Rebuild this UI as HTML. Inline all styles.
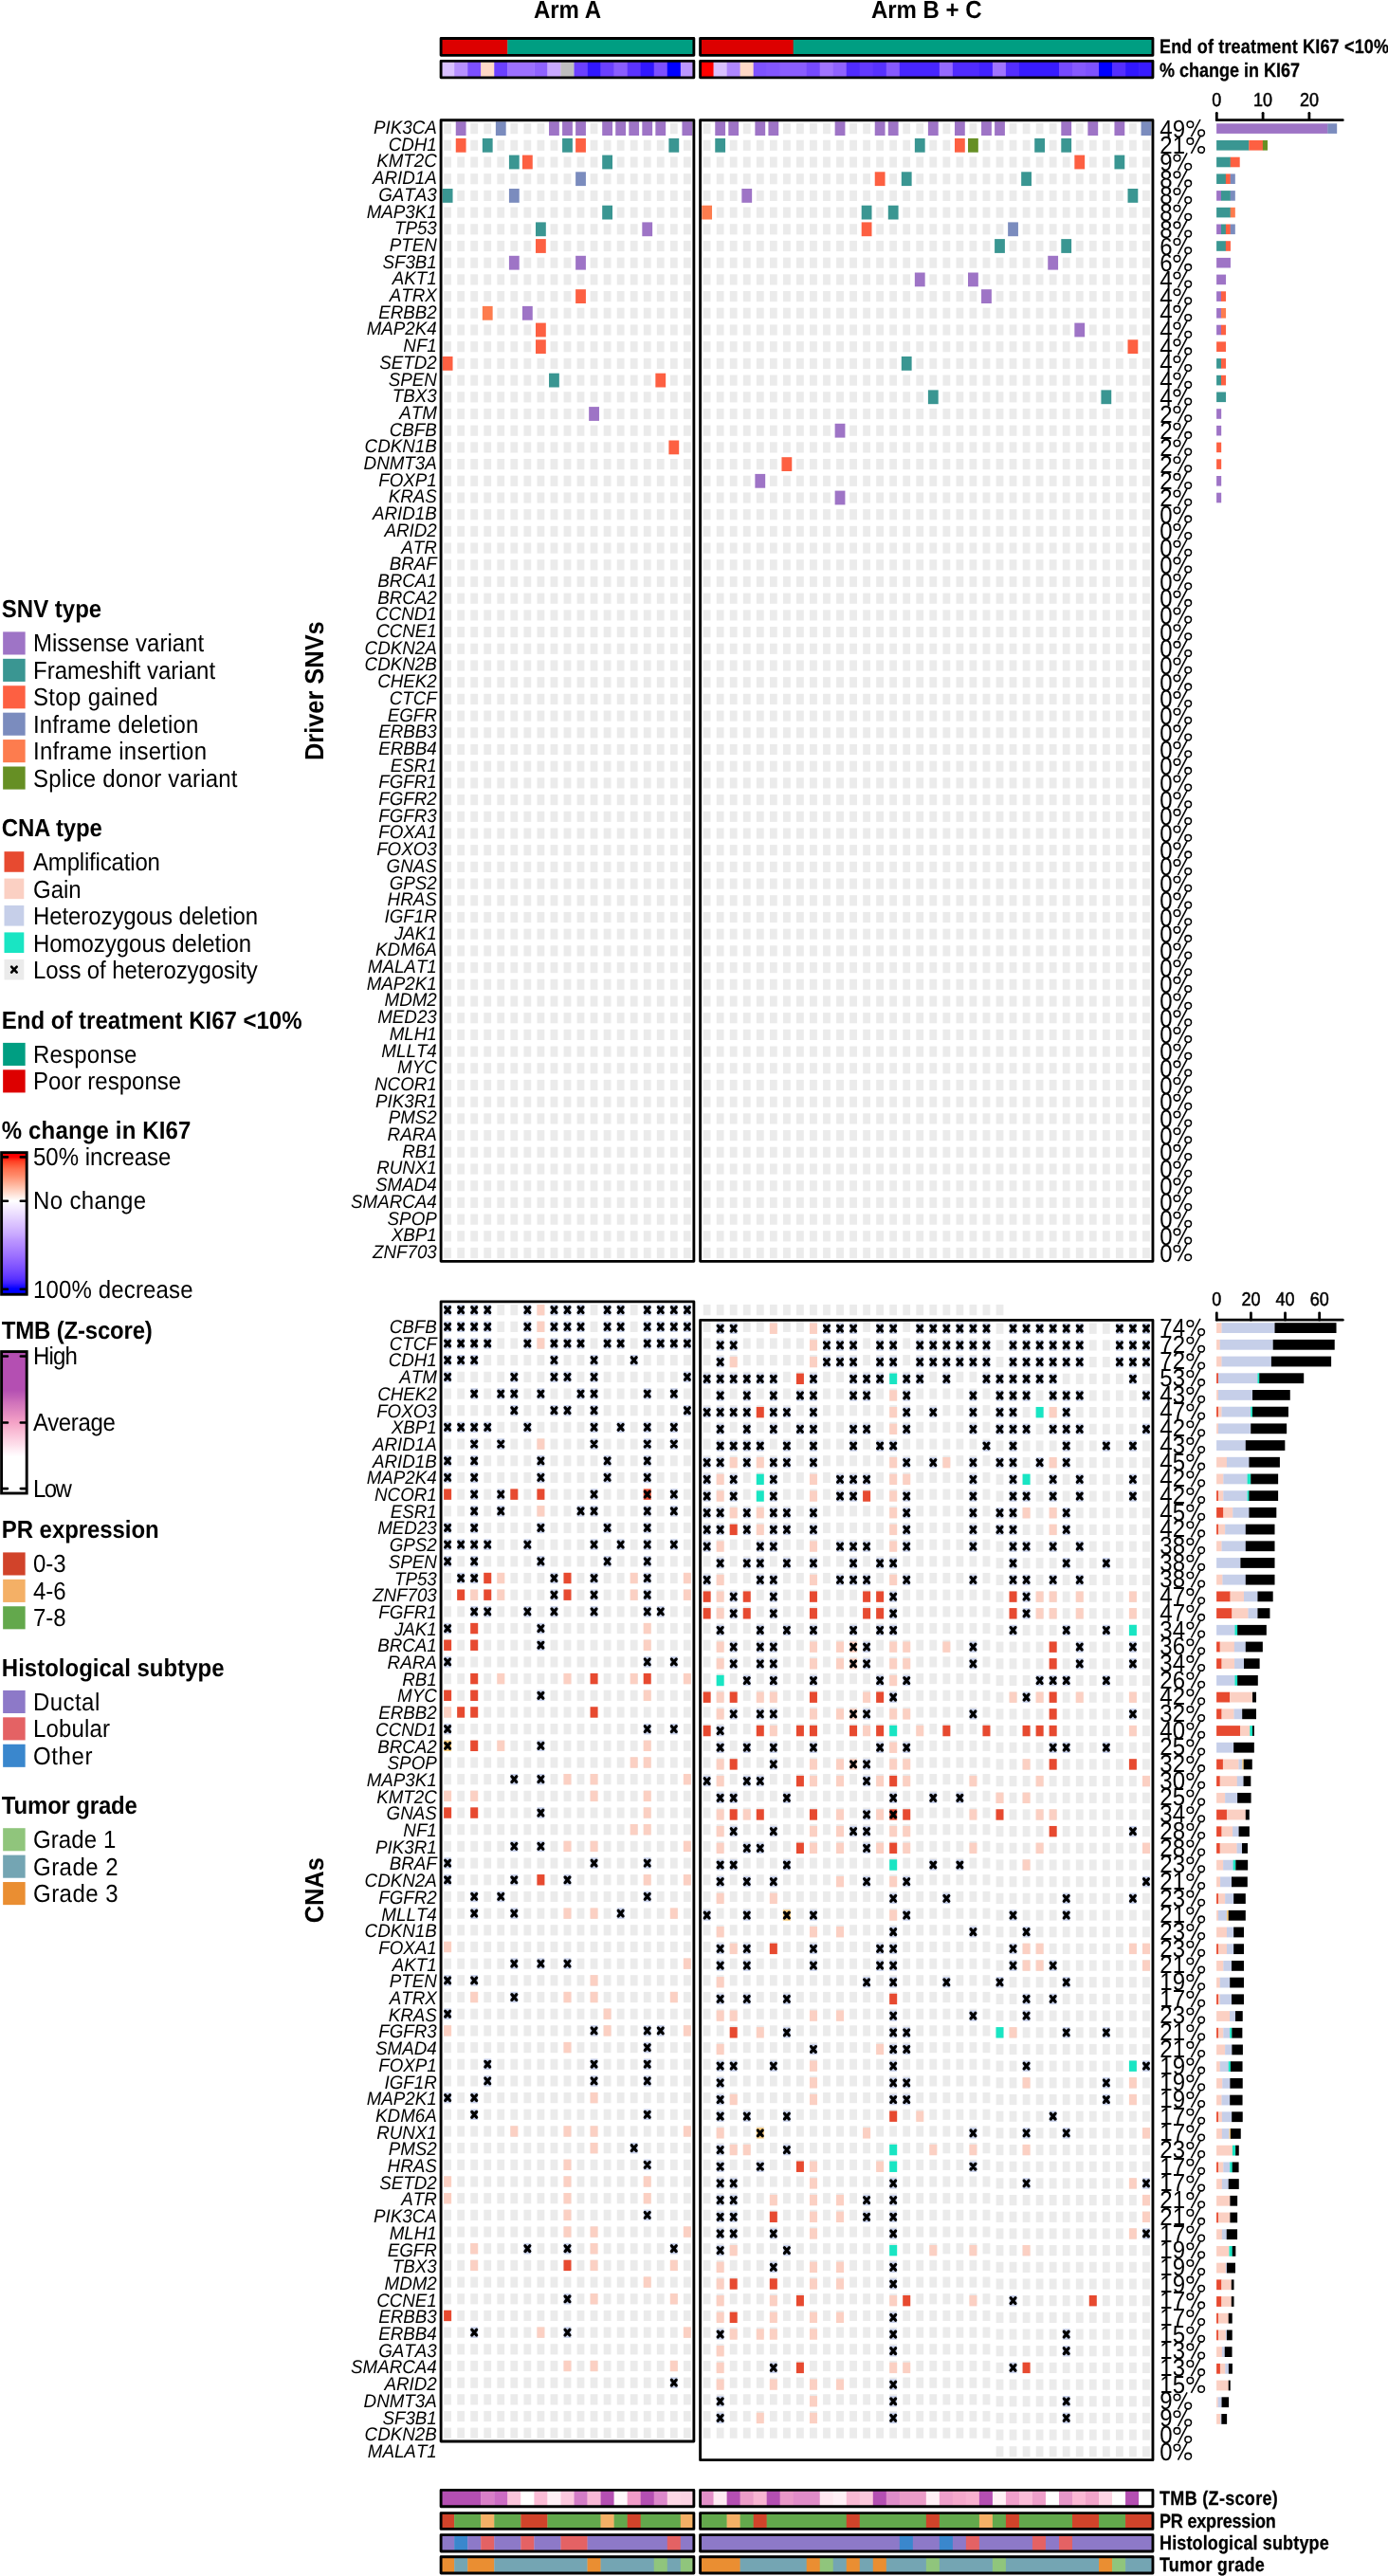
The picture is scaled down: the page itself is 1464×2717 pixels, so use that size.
<!DOCTYPE html>
<html><head><meta charset="utf-8"><title>Oncoprint</title>
<style>
html,body{margin:0;padding:0;background:#fff;}
body{width:1464px;height:2717px;overflow:hidden;}
svg{display:block;font-family:"Liberation Sans",sans-serif;fill:#000;will-change:transform;}
</style></head><body>
<svg width="1464" height="2717" viewBox="0 0 1464 2717" text-rendering="geometricPrecision">
<defs>
<g id="ga" fill="#ebebeb">
<rect x="468.22" y="-5.6" width="7.8" height="11.2" fill="#ebebeb"/>
<rect x="482.26" y="-5.6" width="7.8" height="11.2" fill="#ebebeb"/>
<rect x="496.3" y="-5.6" width="7.8" height="11.2" fill="#ebebeb"/>
<rect x="510.34" y="-5.6" width="7.8" height="11.2" fill="#ebebeb"/>
<rect x="524.38" y="-5.6" width="7.8" height="11.2" fill="#ebebeb"/>
<rect x="538.42" y="-5.6" width="7.8" height="11.2" fill="#ebebeb"/>
<rect x="552.46" y="-5.6" width="7.8" height="11.2" fill="#ebebeb"/>
<rect x="566.5" y="-5.6" width="7.8" height="11.2" fill="#ebebeb"/>
<rect x="580.54" y="-5.6" width="7.8" height="11.2" fill="#ebebeb"/>
<rect x="594.58" y="-5.6" width="7.8" height="11.2" fill="#ebebeb"/>
<rect x="608.62" y="-5.6" width="7.8" height="11.2" fill="#ebebeb"/>
<rect x="622.66" y="-5.6" width="7.8" height="11.2" fill="#ebebeb"/>
<rect x="636.7" y="-5.6" width="7.8" height="11.2" fill="#ebebeb"/>
<rect x="650.74" y="-5.6" width="7.8" height="11.2" fill="#ebebeb"/>
<rect x="664.78" y="-5.6" width="7.8" height="11.2" fill="#ebebeb"/>
<rect x="678.82" y="-5.6" width="7.8" height="11.2" fill="#ebebeb"/>
<rect x="692.86" y="-5.6" width="7.8" height="11.2" fill="#ebebeb"/>
<rect x="706.9" y="-5.6" width="7.8" height="11.2" fill="#ebebeb"/>
<rect x="720.94" y="-5.6" width="7.8" height="11.2" fill="#ebebeb"/>
</g>
<g id="gb" fill="#ebebeb">
<rect x="741.72" y="-5.6" width="7.8" height="11.2" fill="#ebebeb"/>
<rect x="755.76" y="-5.6" width="7.8" height="11.2" fill="#ebebeb"/>
<rect x="769.8" y="-5.6" width="7.8" height="11.2" fill="#ebebeb"/>
<rect x="783.84" y="-5.6" width="7.8" height="11.2" fill="#ebebeb"/>
<rect x="797.88" y="-5.6" width="7.8" height="11.2" fill="#ebebeb"/>
<rect x="811.92" y="-5.6" width="7.8" height="11.2" fill="#ebebeb"/>
<rect x="825.96" y="-5.6" width="7.8" height="11.2" fill="#ebebeb"/>
<rect x="840" y="-5.6" width="7.8" height="11.2" fill="#ebebeb"/>
<rect x="854.04" y="-5.6" width="7.8" height="11.2" fill="#ebebeb"/>
<rect x="868.08" y="-5.6" width="7.8" height="11.2" fill="#ebebeb"/>
<rect x="882.12" y="-5.6" width="7.8" height="11.2" fill="#ebebeb"/>
<rect x="896.16" y="-5.6" width="7.8" height="11.2" fill="#ebebeb"/>
<rect x="910.2" y="-5.6" width="7.8" height="11.2" fill="#ebebeb"/>
<rect x="924.24" y="-5.6" width="7.8" height="11.2" fill="#ebebeb"/>
<rect x="938.28" y="-5.6" width="7.8" height="11.2" fill="#ebebeb"/>
<rect x="952.32" y="-5.6" width="7.8" height="11.2" fill="#ebebeb"/>
<rect x="966.36" y="-5.6" width="7.8" height="11.2" fill="#ebebeb"/>
<rect x="980.4" y="-5.6" width="7.8" height="11.2" fill="#ebebeb"/>
<rect x="994.44" y="-5.6" width="7.8" height="11.2" fill="#ebebeb"/>
<rect x="1008.48" y="-5.6" width="7.8" height="11.2" fill="#ebebeb"/>
<rect x="1022.52" y="-5.6" width="7.8" height="11.2" fill="#ebebeb"/>
<rect x="1036.56" y="-5.6" width="7.8" height="11.2" fill="#ebebeb"/>
<rect x="1050.6" y="-5.6" width="7.8" height="11.2" fill="#ebebeb"/>
<rect x="1064.64" y="-5.6" width="7.8" height="11.2" fill="#ebebeb"/>
<rect x="1078.68" y="-5.6" width="7.8" height="11.2" fill="#ebebeb"/>
<rect x="1092.72" y="-5.6" width="7.8" height="11.2" fill="#ebebeb"/>
<rect x="1106.76" y="-5.6" width="7.8" height="11.2" fill="#ebebeb"/>
<rect x="1120.8" y="-5.6" width="7.8" height="11.2" fill="#ebebeb"/>
<rect x="1134.84" y="-5.6" width="7.8" height="11.2" fill="#ebebeb"/>
<rect x="1148.88" y="-5.6" width="7.8" height="11.2" fill="#ebebeb"/>
<rect x="1162.92" y="-5.6" width="7.8" height="11.2" fill="#ebebeb"/>
<rect x="1176.96" y="-5.6" width="7.8" height="11.2" fill="#ebebeb"/>
<rect x="1191" y="-5.6" width="7.8" height="11.2" fill="#ebebeb"/>
<rect x="1205.04" y="-5.6" width="7.8" height="11.2" fill="#ebebeb"/>
</g>
<g id="gb1" fill="#ebebeb">
<rect x="741.72" y="-5.6" width="7.8" height="11.2" fill="#ebebeb"/>
<rect x="755.76" y="-5.6" width="7.8" height="11.2" fill="#ebebeb"/>
<rect x="769.8" y="-5.6" width="7.8" height="11.2" fill="#ebebeb"/>
<rect x="783.84" y="-5.6" width="7.8" height="11.2" fill="#ebebeb"/>
<rect x="797.88" y="-5.6" width="7.8" height="11.2" fill="#ebebeb"/>
<rect x="811.92" y="-5.6" width="7.8" height="11.2" fill="#ebebeb"/>
<rect x="825.96" y="-5.6" width="7.8" height="11.2" fill="#ebebeb"/>
<rect x="840" y="-5.6" width="7.8" height="11.2" fill="#ebebeb"/>
<rect x="854.04" y="-5.6" width="7.8" height="11.2" fill="#ebebeb"/>
<rect x="868.08" y="-5.6" width="7.8" height="11.2" fill="#ebebeb"/>
<rect x="882.12" y="-5.6" width="7.8" height="11.2" fill="#ebebeb"/>
<rect x="896.16" y="-5.6" width="7.8" height="11.2" fill="#ebebeb"/>
<rect x="910.2" y="-5.6" width="7.8" height="11.2" fill="#ebebeb"/>
<rect x="924.24" y="-5.6" width="7.8" height="11.2" fill="#ebebeb"/>
<rect x="938.28" y="-5.6" width="7.8" height="11.2" fill="#ebebeb"/>
<rect x="952.32" y="-5.6" width="7.8" height="11.2" fill="#ebebeb"/>
<rect x="966.36" y="-5.6" width="7.8" height="11.2" fill="#ebebeb"/>
<rect x="980.4" y="-5.6" width="7.8" height="11.2" fill="#ebebeb"/>
<rect x="994.44" y="-5.6" width="7.8" height="11.2" fill="#ebebeb"/>
<rect x="1008.48" y="-5.6" width="7.8" height="11.2" fill="#ebebeb"/>
<rect x="1022.52" y="-5.6" width="7.8" height="11.2" fill="#ebebeb"/>
<rect x="1036.56" y="-5.6" width="7.8" height="11.2" fill="#ebebeb"/>
</g>
<g id="gb2" fill="#ebebeb">
<rect x="1050.6" y="-5.6" width="7.8" height="11.2" fill="#ebebeb"/>
<rect x="1064.64" y="-5.6" width="7.8" height="11.2" fill="#ebebeb"/>
<rect x="1078.68" y="-5.6" width="7.8" height="11.2" fill="#ebebeb"/>
<rect x="1092.72" y="-5.6" width="7.8" height="11.2" fill="#ebebeb"/>
<rect x="1106.76" y="-5.6" width="7.8" height="11.2" fill="#ebebeb"/>
<rect x="1120.8" y="-5.6" width="7.8" height="11.2" fill="#ebebeb"/>
<rect x="1134.84" y="-5.6" width="7.8" height="11.2" fill="#ebebeb"/>
<rect x="1148.88" y="-5.6" width="7.8" height="11.2" fill="#ebebeb"/>
<rect x="1162.92" y="-5.6" width="7.8" height="11.2" fill="#ebebeb"/>
<rect x="1176.96" y="-5.6" width="7.8" height="11.2" fill="#ebebeb"/>
<rect x="1191" y="-5.6" width="7.8" height="11.2" fill="#ebebeb"/>
<rect x="1205.04" y="-5.6" width="7.8" height="11.2" fill="#ebebeb"/>
</g>
<g id="pc" fill="none" stroke="#000" stroke-width="1.55"><circle cx="5.66" cy="-12.86" r="3.3"/><circle cx="17.4" cy="-3.8" r="3.3"/><path d="M16.3-18.1L6.7 0.1"/></g>
<path id="x" d="M-2.45-2.9L2.45 2.9M-2.45 2.9L2.45-2.9" stroke="#000" stroke-width="3.2" stroke-linecap="round" fill="none"/>
<linearGradient id="gk" x1="0" y1="0" x2="0" y2="1">
<stop offset="0" stop-color="#ff0000"/>
<stop offset="0.03" stop-color="#ff0000"/>
<stop offset="0.06" stop-color="#ff3e22"/>
<stop offset="0.09" stop-color="#ff5b3a"/>
<stop offset="0.12" stop-color="#ff7352"/>
<stop offset="0.16" stop-color="#ff8969"/>
<stop offset="0.19" stop-color="#ff9e81"/>
<stop offset="0.22" stop-color="#ffb299"/>
<stop offset="0.25" stop-color="#ffc6b2"/>
<stop offset="0.28" stop-color="#ffd9cb"/>
<stop offset="0.31" stop-color="#ffece5"/>
<stop offset="0.34" stop-color="#ffffff"/>
<stop offset="0.38" stop-color="#f7f0ff"/>
<stop offset="0.42" stop-color="#eee2ff"/>
<stop offset="0.46" stop-color="#e5d3ff"/>
<stop offset="0.5" stop-color="#dcc4ff"/>
<stop offset="0.54" stop-color="#d2b6ff"/>
<stop offset="0.58" stop-color="#c8a8ff"/>
<stop offset="0.61" stop-color="#be99ff"/>
<stop offset="0.65" stop-color="#b38bff"/>
<stop offset="0.69" stop-color="#a77dff"/>
<stop offset="0.73" stop-color="#9b6fff"/>
<stop offset="0.77" stop-color="#8d60ff"/>
<stop offset="0.81" stop-color="#7e52ff"/>
<stop offset="0.85" stop-color="#6d42ff"/>
<stop offset="0.89" stop-color="#5932ff"/>
<stop offset="0.92" stop-color="#3f1fff"/>
<stop offset="0.96" stop-color="#0000ff"/>
<stop offset="1" stop-color="#0000ff"/>
</linearGradient>
<linearGradient id="gt" x1="0" y1="0" x2="0" y2="1">
<stop offset="0" stop-color="#b44fb2"/>
<stop offset="0.27" stop-color="#b44fb2"/>
<stop offset="0.3" stop-color="#bc5ab5"/>
<stop offset="0.33" stop-color="#c564b7"/>
<stop offset="0.35" stop-color="#cd6fba"/>
<stop offset="0.38" stop-color="#d579bc"/>
<stop offset="0.41" stop-color="#dd83bf"/>
<stop offset="0.44" stop-color="#e58dc1"/>
<stop offset="0.47" stop-color="#ed98c4"/>
<stop offset="0.5" stop-color="#f5a2c6"/>
<stop offset="0.53" stop-color="#f7aecd"/>
<stop offset="0.56" stop-color="#f9bad4"/>
<stop offset="0.59" stop-color="#fbc5db"/>
<stop offset="0.62" stop-color="#fcd1e2"/>
<stop offset="0.65" stop-color="#fddce9"/>
<stop offset="0.68" stop-color="#fee8f1"/>
<stop offset="0.71" stop-color="#fff3f8"/>
<stop offset="0.74" stop-color="#ffffff"/>
<stop offset="1" stop-color="#ffffff"/>
</linearGradient>
</defs>
<text transform="translate(598.48 18.7) scale(1 1.09)" font-size="24" font-weight="bold" text-anchor="middle">Arm A</text>
<text transform="translate(977.28 18.7) scale(1 1.09)" font-size="24" font-weight="bold" text-anchor="middle">Arm B + C</text>
<rect x="465.1" y="40.45" width="70.5" height="17.9" fill="#dd0000"/>
<rect x="535.3" y="40.45" width="196.56" height="17.9" fill="#009e82"/>
<rect x="738.6" y="40.45" width="98.4" height="17.9" fill="#dd0000"/>
<rect x="836.7" y="40.45" width="379.26" height="17.9" fill="#009e82"/>
<rect x="465.1" y="40.45" width="266.76" height="17.9" fill="none" stroke="#000" stroke-width="2.85" stroke-linejoin="round"/>
<rect x="738.6" y="40.45" width="477.36" height="17.9" fill="none" stroke="#000" stroke-width="2.85" stroke-linejoin="round"/>
<rect x="465.1" y="64.3" width="14.34" height="17.5" fill="#d9c0ff"/>
<rect x="479.14" y="64.3" width="14.34" height="17.5" fill="#b690ff"/>
<rect x="493.18" y="64.3" width="14.34" height="17.5" fill="#7c4fff"/>
<rect x="507.22" y="64.3" width="14.34" height="17.5" fill="#ffd8c6"/>
<rect x="521.26" y="64.3" width="14.34" height="17.5" fill="#6b40ff"/>
<rect x="535.3" y="64.3" width="28.38" height="17.5" fill="#9c70ff"/>
<rect x="563.38" y="64.3" width="14.34" height="17.5" fill="#8f62ff"/>
<rect x="577.42" y="64.3" width="14.34" height="17.5" fill="#c9a9ff"/>
<rect x="591.46" y="64.3" width="14.34" height="17.5" fill="#bebebe"/>
<rect x="605.5" y="64.3" width="14.34" height="17.5" fill="#6b40ff"/>
<rect x="619.54" y="64.3" width="14.34" height="17.5" fill="#3117ff"/>
<rect x="633.58" y="64.3" width="14.34" height="17.5" fill="#6b40ff"/>
<rect x="647.62" y="64.3" width="14.34" height="17.5" fill="#8a5dff"/>
<rect x="661.66" y="64.3" width="14.34" height="17.5" fill="#5b33ff"/>
<rect x="675.7" y="64.3" width="14.34" height="17.5" fill="#3117ff"/>
<rect x="689.74" y="64.3" width="14.34" height="17.5" fill="#7c4fff"/>
<rect x="703.78" y="64.3" width="14.34" height="17.5" fill="#0000ff"/>
<rect x="717.82" y="64.3" width="14.04" height="17.5" fill="#bc97ff"/>
<rect x="738.6" y="64.3" width="14.31" height="17.5" fill="#ff0000"/>
<rect x="752.61" y="64.3" width="14.31" height="17.5" fill="#d9c0ff"/>
<rect x="766.63" y="64.3" width="14.31" height="17.5" fill="#af87ff"/>
<rect x="780.64" y="64.3" width="14.31" height="17.5" fill="#ffd8c6"/>
<rect x="794.66" y="64.3" width="14.31" height="17.5" fill="#7e52ff"/>
<rect x="808.67" y="64.3" width="14.31" height="17.5" fill="#8356ff"/>
<rect x="822.68" y="64.3" width="28.33" height="17.5" fill="#8a5dff"/>
<rect x="850.71" y="64.3" width="14.31" height="17.5" fill="#764aff"/>
<rect x="864.73" y="64.3" width="14.31" height="17.5" fill="#a074ff"/>
<rect x="878.74" y="64.3" width="14.31" height="17.5" fill="#8f62ff"/>
<rect x="892.75" y="64.3" width="14.31" height="17.5" fill="#502bff"/>
<rect x="906.77" y="64.3" width="14.31" height="17.5" fill="#6239ff"/>
<rect x="920.78" y="64.3" width="14.31" height="17.5" fill="#5731ff"/>
<rect x="934.8" y="64.3" width="14.31" height="17.5" fill="#8659ff"/>
<rect x="948.81" y="64.3" width="42.34" height="17.5" fill="#4725ff"/>
<rect x="990.85" y="64.3" width="14.31" height="17.5" fill="#9569ff"/>
<rect x="1004.87" y="64.3" width="28.33" height="17.5" fill="#502bff"/>
<rect x="1032.89" y="64.3" width="14.31" height="17.5" fill="#4222ff"/>
<rect x="1046.91" y="64.3" width="14.31" height="17.5" fill="#a074ff"/>
<rect x="1060.92" y="64.3" width="14.31" height="17.5" fill="#542eff"/>
<rect x="1074.94" y="64.3" width="42.34" height="17.5" fill="#381bff"/>
<rect x="1116.98" y="64.3" width="14.31" height="17.5" fill="#764aff"/>
<rect x="1130.99" y="64.3" width="14.31" height="17.5" fill="#8659ff"/>
<rect x="1145.01" y="64.3" width="14.31" height="17.5" fill="#7e52ff"/>
<rect x="1159.02" y="64.3" width="14.31" height="17.5" fill="#0000ff"/>
<rect x="1173.03" y="64.3" width="14.31" height="17.5" fill="#542eff"/>
<rect x="1187.05" y="64.3" width="14.31" height="17.5" fill="#3117ff"/>
<rect x="1201.06" y="64.3" width="14.9" height="17.5" fill="#381bff"/>
<rect x="465.1" y="64.3" width="266.76" height="17.5" fill="none" stroke="#000" stroke-width="2.85" stroke-linejoin="round"/>
<rect x="738.6" y="64.3" width="477.36" height="17.5" fill="none" stroke="#000" stroke-width="2.85" stroke-linejoin="round"/>
<text transform="translate(1223 56.4) scale(1 1.15)" font-size="18" font-weight="bold" letter-spacing="0.18" stroke="#000" stroke-width="0.25">End of treatment KI67 &lt;10%</text>
<text transform="translate(1223 80.5) scale(1 1.15)" font-size="18" font-weight="bold" stroke="#000" stroke-width="0.25">% change in KI67</text>
<use href="#ga" y="135.6"/><use href="#gb" y="135.6"/>
<use href="#ga" y="153.3"/><use href="#gb" y="153.3"/>
<use href="#ga" y="171"/><use href="#gb" y="171"/>
<use href="#ga" y="188.7"/><use href="#gb" y="188.7"/>
<use href="#ga" y="206.4"/><use href="#gb" y="206.4"/>
<use href="#ga" y="224.1"/><use href="#gb" y="224.1"/>
<use href="#ga" y="241.8"/><use href="#gb" y="241.8"/>
<use href="#ga" y="259.5"/><use href="#gb" y="259.5"/>
<use href="#ga" y="277.2"/><use href="#gb" y="277.2"/>
<use href="#ga" y="294.9"/><use href="#gb" y="294.9"/>
<use href="#ga" y="312.6"/><use href="#gb" y="312.6"/>
<use href="#ga" y="330.3"/><use href="#gb" y="330.3"/>
<use href="#ga" y="348"/><use href="#gb" y="348"/>
<use href="#ga" y="365.7"/><use href="#gb" y="365.7"/>
<use href="#ga" y="383.4"/><use href="#gb" y="383.4"/>
<use href="#ga" y="401.1"/><use href="#gb" y="401.1"/>
<use href="#ga" y="418.8"/><use href="#gb" y="418.8"/>
<use href="#ga" y="436.5"/><use href="#gb" y="436.5"/>
<use href="#ga" y="454.2"/><use href="#gb" y="454.2"/>
<use href="#ga" y="471.9"/><use href="#gb" y="471.9"/>
<use href="#ga" y="489.6"/><use href="#gb" y="489.6"/>
<use href="#ga" y="507.3"/><use href="#gb" y="507.3"/>
<use href="#ga" y="525"/><use href="#gb" y="525"/>
<use href="#ga" y="542.7"/><use href="#gb" y="542.7"/>
<use href="#ga" y="560.4"/><use href="#gb" y="560.4"/>
<use href="#ga" y="578.1"/><use href="#gb" y="578.1"/>
<use href="#ga" y="595.8"/><use href="#gb" y="595.8"/>
<use href="#ga" y="613.5"/><use href="#gb" y="613.5"/>
<use href="#ga" y="631.2"/><use href="#gb" y="631.2"/>
<use href="#ga" y="648.9"/><use href="#gb" y="648.9"/>
<use href="#ga" y="666.6"/><use href="#gb" y="666.6"/>
<use href="#ga" y="684.3"/><use href="#gb" y="684.3"/>
<use href="#ga" y="702"/><use href="#gb" y="702"/>
<use href="#ga" y="719.7"/><use href="#gb" y="719.7"/>
<use href="#ga" y="737.4"/><use href="#gb" y="737.4"/>
<use href="#ga" y="755.1"/><use href="#gb" y="755.1"/>
<use href="#ga" y="772.8"/><use href="#gb" y="772.8"/>
<use href="#ga" y="790.5"/><use href="#gb" y="790.5"/>
<use href="#ga" y="808.2"/><use href="#gb" y="808.2"/>
<use href="#ga" y="825.9"/><use href="#gb" y="825.9"/>
<use href="#ga" y="843.6"/><use href="#gb" y="843.6"/>
<use href="#ga" y="861.3"/><use href="#gb" y="861.3"/>
<use href="#ga" y="879"/><use href="#gb" y="879"/>
<use href="#ga" y="896.7"/><use href="#gb" y="896.7"/>
<use href="#ga" y="914.4"/><use href="#gb" y="914.4"/>
<use href="#ga" y="932.1"/><use href="#gb" y="932.1"/>
<use href="#ga" y="949.8"/><use href="#gb" y="949.8"/>
<use href="#ga" y="967.5"/><use href="#gb" y="967.5"/>
<use href="#ga" y="985.2"/><use href="#gb" y="985.2"/>
<use href="#ga" y="1002.9"/><use href="#gb" y="1002.9"/>
<use href="#ga" y="1020.6"/><use href="#gb" y="1020.6"/>
<use href="#ga" y="1038.3"/><use href="#gb" y="1038.3"/>
<use href="#ga" y="1056"/><use href="#gb" y="1056"/>
<use href="#ga" y="1073.7"/><use href="#gb" y="1073.7"/>
<use href="#ga" y="1091.4"/><use href="#gb" y="1091.4"/>
<use href="#ga" y="1109.1"/><use href="#gb" y="1109.1"/>
<use href="#ga" y="1126.8"/><use href="#gb" y="1126.8"/>
<use href="#ga" y="1144.5"/><use href="#gb" y="1144.5"/>
<use href="#ga" y="1162.2"/><use href="#gb" y="1162.2"/>
<use href="#ga" y="1179.9"/><use href="#gb" y="1179.9"/>
<use href="#ga" y="1197.6"/><use href="#gb" y="1197.6"/>
<use href="#ga" y="1215.3"/><use href="#gb" y="1215.3"/>
<use href="#ga" y="1233"/><use href="#gb" y="1233"/>
<use href="#ga" y="1250.7"/><use href="#gb" y="1250.7"/>
<use href="#ga" y="1268.4"/><use href="#gb" y="1268.4"/>
<use href="#ga" y="1286.1"/><use href="#gb" y="1286.1"/>
<use href="#ga" y="1303.8"/><use href="#gb" y="1303.8"/>
<use href="#ga" y="1321.5"/><use href="#gb" y="1321.5"/>
<rect x="480.76" y="128.2" width="10.8" height="14.8" fill="#9e74c6"/>
<rect x="522.88" y="128.2" width="10.8" height="14.8" fill="#7b8cbe"/>
<rect x="579.04" y="128.2" width="10.8" height="14.8" fill="#9e74c6"/>
<rect x="593.08" y="128.2" width="10.8" height="14.8" fill="#9e74c6"/>
<rect x="607.12" y="128.2" width="10.8" height="14.8" fill="#9e74c6"/>
<rect x="635.2" y="128.2" width="10.8" height="14.8" fill="#9e74c6"/>
<rect x="649.24" y="128.2" width="10.8" height="14.8" fill="#9e74c6"/>
<rect x="663.28" y="128.2" width="10.8" height="14.8" fill="#9e74c6"/>
<rect x="677.32" y="128.2" width="10.8" height="14.8" fill="#9e74c6"/>
<rect x="691.36" y="128.2" width="10.8" height="14.8" fill="#9e74c6"/>
<rect x="719.44" y="128.2" width="10.8" height="14.8" fill="#9e74c6"/>
<rect x="480.76" y="145.9" width="10.8" height="14.8" fill="#fd6042"/>
<rect x="508.84" y="145.9" width="10.8" height="14.8" fill="#3a9692"/>
<rect x="593.08" y="145.9" width="10.8" height="14.8" fill="#3a9692"/>
<rect x="607.12" y="145.9" width="10.8" height="14.8" fill="#fd6042"/>
<rect x="705.4" y="145.9" width="10.8" height="14.8" fill="#3a9692"/>
<rect x="536.92" y="163.6" width="10.8" height="14.8" fill="#3a9692"/>
<rect x="550.96" y="163.6" width="10.8" height="14.8" fill="#fd6042"/>
<rect x="635.2" y="163.6" width="10.8" height="14.8" fill="#3a9692"/>
<rect x="607.12" y="181.3" width="10.8" height="14.8" fill="#7b8cbe"/>
<rect x="466.72" y="199" width="10.8" height="14.8" fill="#3a9692"/>
<rect x="536.92" y="199" width="10.8" height="14.8" fill="#7b8cbe"/>
<rect x="635.2" y="216.7" width="10.8" height="14.8" fill="#3a9692"/>
<rect x="565" y="234.4" width="10.8" height="14.8" fill="#3a9692"/>
<rect x="677.32" y="234.4" width="10.8" height="14.8" fill="#9e74c6"/>
<rect x="565" y="252.1" width="10.8" height="14.8" fill="#fd6042"/>
<rect x="536.92" y="269.8" width="10.8" height="14.8" fill="#9e74c6"/>
<rect x="607.12" y="269.8" width="10.8" height="14.8" fill="#9e74c6"/>
<rect x="607.12" y="305.2" width="10.8" height="14.8" fill="#fd6042"/>
<rect x="508.84" y="322.9" width="10.8" height="14.8" fill="#fd7c4e"/>
<rect x="550.96" y="322.9" width="10.8" height="14.8" fill="#9e74c6"/>
<rect x="565" y="340.6" width="10.8" height="14.8" fill="#fd6042"/>
<rect x="565" y="358.3" width="10.8" height="14.8" fill="#fd6042"/>
<rect x="466.72" y="376" width="10.8" height="14.8" fill="#fd6042"/>
<rect x="579.04" y="393.7" width="10.8" height="14.8" fill="#3a9692"/>
<rect x="691.36" y="393.7" width="10.8" height="14.8" fill="#fd6042"/>
<rect x="621.16" y="429.1" width="10.8" height="14.8" fill="#9e74c6"/>
<rect x="705.4" y="464.5" width="10.8" height="14.8" fill="#fd6042"/>
<rect x="754.26" y="128.2" width="10.8" height="14.8" fill="#9e74c6"/>
<rect x="768.3" y="128.2" width="10.8" height="14.8" fill="#9e74c6"/>
<rect x="796.38" y="128.2" width="10.8" height="14.8" fill="#9e74c6"/>
<rect x="810.42" y="128.2" width="10.8" height="14.8" fill="#9e74c6"/>
<rect x="880.62" y="128.2" width="10.8" height="14.8" fill="#9e74c6"/>
<rect x="922.74" y="128.2" width="10.8" height="14.8" fill="#9e74c6"/>
<rect x="936.78" y="128.2" width="10.8" height="14.8" fill="#9e74c6"/>
<rect x="978.9" y="128.2" width="10.8" height="14.8" fill="#9e74c6"/>
<rect x="1006.98" y="128.2" width="10.8" height="14.8" fill="#9e74c6"/>
<rect x="1035.06" y="128.2" width="10.8" height="14.8" fill="#9e74c6"/>
<rect x="1049.1" y="128.2" width="10.8" height="14.8" fill="#9e74c6"/>
<rect x="1119.3" y="128.2" width="10.8" height="14.8" fill="#9e74c6"/>
<rect x="1147.38" y="128.2" width="10.8" height="14.8" fill="#9e74c6"/>
<rect x="1175.46" y="128.2" width="10.8" height="14.8" fill="#9e74c6"/>
<rect x="1203.54" y="128.2" width="10.8" height="14.8" fill="#7b8cbe"/>
<rect x="754.26" y="145.9" width="10.8" height="14.8" fill="#3a9692"/>
<rect x="964.86" y="145.9" width="10.8" height="14.8" fill="#3a9692"/>
<rect x="1006.98" y="145.9" width="10.8" height="14.8" fill="#fd6042"/>
<rect x="1021.02" y="145.9" width="10.8" height="14.8" fill="#668f24"/>
<rect x="1091.22" y="145.9" width="10.8" height="14.8" fill="#3a9692"/>
<rect x="1119.3" y="145.9" width="10.8" height="14.8" fill="#3a9692"/>
<rect x="1133.34" y="163.6" width="10.8" height="14.8" fill="#fd6042"/>
<rect x="1175.46" y="163.6" width="10.8" height="14.8" fill="#3a9692"/>
<rect x="922.74" y="181.3" width="10.8" height="14.8" fill="#fd6042"/>
<rect x="950.82" y="181.3" width="10.8" height="14.8" fill="#3a9692"/>
<rect x="1077.18" y="181.3" width="10.8" height="14.8" fill="#3a9692"/>
<rect x="782.34" y="199" width="10.8" height="14.8" fill="#9e74c6"/>
<rect x="1189.5" y="199" width="10.8" height="14.8" fill="#3a9692"/>
<rect x="740.22" y="216.7" width="10.8" height="14.8" fill="#fd7c4e"/>
<rect x="908.7" y="216.7" width="10.8" height="14.8" fill="#3a9692"/>
<rect x="936.78" y="216.7" width="10.8" height="14.8" fill="#3a9692"/>
<rect x="908.7" y="234.4" width="10.8" height="14.8" fill="#fd6042"/>
<rect x="1063.14" y="234.4" width="10.8" height="14.8" fill="#7b8cbe"/>
<rect x="1049.1" y="252.1" width="10.8" height="14.8" fill="#3a9692"/>
<rect x="1119.3" y="252.1" width="10.8" height="14.8" fill="#3a9692"/>
<rect x="1105.26" y="269.8" width="10.8" height="14.8" fill="#9e74c6"/>
<rect x="964.86" y="287.5" width="10.8" height="14.8" fill="#9e74c6"/>
<rect x="1021.02" y="287.5" width="10.8" height="14.8" fill="#9e74c6"/>
<rect x="1035.06" y="305.2" width="10.8" height="14.8" fill="#9e74c6"/>
<rect x="1133.34" y="340.6" width="10.8" height="14.8" fill="#9e74c6"/>
<rect x="1189.5" y="358.3" width="10.8" height="14.8" fill="#fd6042"/>
<rect x="950.82" y="376" width="10.8" height="14.8" fill="#3a9692"/>
<rect x="978.9" y="411.4" width="10.8" height="14.8" fill="#3a9692"/>
<rect x="1161.42" y="411.4" width="10.8" height="14.8" fill="#3a9692"/>
<rect x="880.62" y="446.8" width="10.8" height="14.8" fill="#9e74c6"/>
<rect x="824.46" y="482.2" width="10.8" height="14.8" fill="#fd6042"/>
<rect x="796.38" y="499.9" width="10.8" height="14.8" fill="#9e74c6"/>
<rect x="880.62" y="517.6" width="10.8" height="14.8" fill="#9e74c6"/>
<rect x="465.1" y="126.75" width="266.76" height="1203.6" fill="none" stroke="#000" stroke-width="2.85" stroke-linejoin="round"/>
<rect x="738.6" y="126.75" width="477.36" height="1203.6" fill="none" stroke="#000" stroke-width="2.85" stroke-linejoin="round"/>
<g font-style="italic" text-anchor="end" font-size="18.8" style="font-kerning:none">
<text transform="translate(460.8 141) scale(1 1.05)">PIK3CA</text>
<text transform="translate(460.8 158.7) scale(1 1.05)">CDH1</text>
<text transform="translate(460.8 176.4) scale(1 1.05)">KMT2C</text>
<text transform="translate(460.8 194.1) scale(1 1.05)">ARID1A</text>
<text transform="translate(460.8 211.8) scale(1 1.05)">GATA3</text>
<text transform="translate(460.8 229.5) scale(1 1.05)">MAP3K1</text>
<text transform="translate(460.8 247.2) scale(1 1.05)">TP53</text>
<text transform="translate(460.8 264.9) scale(1 1.05)">PTEN</text>
<text transform="translate(460.8 282.6) scale(1 1.05)">SF3B1</text>
<text transform="translate(460.8 300.3) scale(1 1.05)">AKT1</text>
<text transform="translate(460.8 318) scale(1 1.05)">ATRX</text>
<text transform="translate(460.8 335.7) scale(1 1.05)">ERBB2</text>
<text transform="translate(460.8 353.4) scale(1 1.05)">MAP2K4</text>
<text transform="translate(460.8 371.1) scale(1 1.05)">NF1</text>
<text transform="translate(460.8 388.8) scale(1 1.05)">SETD2</text>
<text transform="translate(460.8 406.5) scale(1 1.05)">SPEN</text>
<text transform="translate(460.8 424.2) scale(1 1.05)">TBX3</text>
<text transform="translate(460.8 441.9) scale(1 1.05)">ATM</text>
<text transform="translate(460.8 459.6) scale(1 1.05)">CBFB</text>
<text transform="translate(460.8 477.3) scale(1 1.05)">CDKN1B</text>
<text transform="translate(460.8 495) scale(1 1.05)">DNMT3A</text>
<text transform="translate(460.8 512.7) scale(1 1.05)">FOXP1</text>
<text transform="translate(460.8 530.4) scale(1 1.05)">KRAS</text>
<text transform="translate(460.8 548.1) scale(1 1.05)">ARID1B</text>
<text transform="translate(460.8 565.8) scale(1 1.05)">ARID2</text>
<text transform="translate(460.8 583.5) scale(1 1.05)">ATR</text>
<text transform="translate(460.8 601.2) scale(1 1.05)">BRAF</text>
<text transform="translate(460.8 618.9) scale(1 1.05)">BRCA1</text>
<text transform="translate(460.8 636.6) scale(1 1.05)">BRCA2</text>
<text transform="translate(460.8 654.3) scale(1 1.05)">CCND1</text>
<text transform="translate(460.8 672) scale(1 1.05)">CCNE1</text>
<text transform="translate(460.8 689.7) scale(1 1.05)">CDKN2A</text>
<text transform="translate(460.8 707.4) scale(1 1.05)">CDKN2B</text>
<text transform="translate(460.8 725.1) scale(1 1.05)">CHEK2</text>
<text transform="translate(460.8 742.8) scale(1 1.05)">CTCF</text>
<text transform="translate(460.8 760.5) scale(1 1.05)">EGFR</text>
<text transform="translate(460.8 778.2) scale(1 1.05)">ERBB3</text>
<text transform="translate(460.8 795.9) scale(1 1.05)">ERBB4</text>
<text transform="translate(460.8 813.6) scale(1 1.05)">ESR1</text>
<text transform="translate(460.8 831.3) scale(1 1.05)">FGFR1</text>
<text transform="translate(460.8 849) scale(1 1.05)">FGFR2</text>
<text transform="translate(460.8 866.7) scale(1 1.05)">FGFR3</text>
<text transform="translate(460.8 884.4) scale(1 1.05)">FOXA1</text>
<text transform="translate(460.8 902.1) scale(1 1.05)">FOXO3</text>
<text transform="translate(460.8 919.8) scale(1 1.05)">GNAS</text>
<text transform="translate(460.8 937.5) scale(1 1.05)">GPS2</text>
<text transform="translate(460.8 955.2) scale(1 1.05)">HRAS</text>
<text transform="translate(460.8 972.9) scale(1 1.05)">IGF1R</text>
<text transform="translate(460.8 990.6) scale(1 1.05)">JAK1</text>
<text transform="translate(460.8 1008.3) scale(1 1.05)">KDM6A</text>
<text transform="translate(460.8 1026) scale(1 1.05)">MALAT1</text>
<text transform="translate(460.8 1043.7) scale(1 1.05)">MAP2K1</text>
<text transform="translate(460.8 1061.4) scale(1 1.05)">MDM2</text>
<text transform="translate(460.8 1079.1) scale(1 1.05)">MED23</text>
<text transform="translate(460.8 1096.8) scale(1 1.05)">MLH1</text>
<text transform="translate(460.8 1114.5) scale(1 1.05)">MLLT4</text>
<text transform="translate(460.8 1132.2) scale(1 1.05)">MYC</text>
<text transform="translate(460.8 1149.9) scale(1 1.05)">NCOR1</text>
<text transform="translate(460.8 1167.6) scale(1 1.05)">PIK3R1</text>
<text transform="translate(460.8 1185.3) scale(1 1.05)">PMS2</text>
<text transform="translate(460.8 1203) scale(1 1.05)">RARA</text>
<text transform="translate(460.8 1220.7) scale(1 1.05)">RB1</text>
<text transform="translate(460.8 1238.4) scale(1 1.05)">RUNX1</text>
<text transform="translate(460.8 1256.1) scale(1 1.05)">SMAD4</text>
<text transform="translate(460.8 1273.8) scale(1 1.05)">SMARCA4</text>
<text transform="translate(460.8 1291.5) scale(1 1.05)">SPOP</text>
<text transform="translate(460.8 1309.2) scale(1 1.05)">XBP1</text>
<text transform="translate(460.8 1326.9) scale(1 1.05)">ZNF703</text>
</g>
<g font-size="24">
<text transform="translate(1223.3 144.6) scale(1 1.09)">49</text>
<use href="#pc" x="1249.7" y="144.1"/>
<text transform="translate(1223.3 162.3) scale(1 1.09)">21</text>
<use href="#pc" x="1249.7" y="161.8"/>
<text transform="translate(1223.3 180) scale(1 1.09)">9</text>
<use href="#pc" x="1235.8" y="179.5"/>
<text transform="translate(1223.3 197.7) scale(1 1.09)">8</text>
<use href="#pc" x="1235.8" y="197.2"/>
<text transform="translate(1223.3 215.4) scale(1 1.09)">8</text>
<use href="#pc" x="1235.8" y="214.9"/>
<text transform="translate(1223.3 233.1) scale(1 1.09)">8</text>
<use href="#pc" x="1235.8" y="232.6"/>
<text transform="translate(1223.3 250.8) scale(1 1.09)">8</text>
<use href="#pc" x="1235.8" y="250.3"/>
<text transform="translate(1223.3 268.5) scale(1 1.09)">6</text>
<use href="#pc" x="1235.8" y="268"/>
<text transform="translate(1223.3 286.2) scale(1 1.09)">6</text>
<use href="#pc" x="1235.8" y="285.7"/>
<text transform="translate(1223.3 303.9) scale(1 1.09)">4</text>
<use href="#pc" x="1235.8" y="303.4"/>
<text transform="translate(1223.3 321.6) scale(1 1.09)">4</text>
<use href="#pc" x="1235.8" y="321.1"/>
<text transform="translate(1223.3 339.3) scale(1 1.09)">4</text>
<use href="#pc" x="1235.8" y="338.8"/>
<text transform="translate(1223.3 357) scale(1 1.09)">4</text>
<use href="#pc" x="1235.8" y="356.5"/>
<text transform="translate(1223.3 374.7) scale(1 1.09)">4</text>
<use href="#pc" x="1235.8" y="374.2"/>
<text transform="translate(1223.3 392.4) scale(1 1.09)">4</text>
<use href="#pc" x="1235.8" y="391.9"/>
<text transform="translate(1223.3 410.1) scale(1 1.09)">4</text>
<use href="#pc" x="1235.8" y="409.6"/>
<text transform="translate(1223.3 427.8) scale(1 1.09)">4</text>
<use href="#pc" x="1235.8" y="427.3"/>
<text transform="translate(1223.3 445.5) scale(1 1.09)">2</text>
<use href="#pc" x="1235.8" y="445"/>
<text transform="translate(1223.3 463.2) scale(1 1.09)">2</text>
<use href="#pc" x="1235.8" y="462.7"/>
<text transform="translate(1223.3 480.9) scale(1 1.09)">2</text>
<use href="#pc" x="1235.8" y="480.4"/>
<text transform="translate(1223.3 498.6) scale(1 1.09)">2</text>
<use href="#pc" x="1235.8" y="498.1"/>
<text transform="translate(1223.3 516.3) scale(1 1.09)">2</text>
<use href="#pc" x="1235.8" y="515.8"/>
<text transform="translate(1223.3 534) scale(1 1.09)">2</text>
<use href="#pc" x="1235.8" y="533.5"/>
<text transform="translate(1223.3 551.7) scale(1 1.09)">0</text>
<use href="#pc" x="1235.8" y="551.2"/>
<text transform="translate(1223.3 569.4) scale(1 1.09)">0</text>
<use href="#pc" x="1235.8" y="568.9"/>
<text transform="translate(1223.3 587.1) scale(1 1.09)">0</text>
<use href="#pc" x="1235.8" y="586.6"/>
<text transform="translate(1223.3 604.8) scale(1 1.09)">0</text>
<use href="#pc" x="1235.8" y="604.3"/>
<text transform="translate(1223.3 622.5) scale(1 1.09)">0</text>
<use href="#pc" x="1235.8" y="622"/>
<text transform="translate(1223.3 640.2) scale(1 1.09)">0</text>
<use href="#pc" x="1235.8" y="639.7"/>
<text transform="translate(1223.3 657.9) scale(1 1.09)">0</text>
<use href="#pc" x="1235.8" y="657.4"/>
<text transform="translate(1223.3 675.6) scale(1 1.09)">0</text>
<use href="#pc" x="1235.8" y="675.1"/>
<text transform="translate(1223.3 693.3) scale(1 1.09)">0</text>
<use href="#pc" x="1235.8" y="692.8"/>
<text transform="translate(1223.3 711) scale(1 1.09)">0</text>
<use href="#pc" x="1235.8" y="710.5"/>
<text transform="translate(1223.3 728.7) scale(1 1.09)">0</text>
<use href="#pc" x="1235.8" y="728.2"/>
<text transform="translate(1223.3 746.4) scale(1 1.09)">0</text>
<use href="#pc" x="1235.8" y="745.9"/>
<text transform="translate(1223.3 764.1) scale(1 1.09)">0</text>
<use href="#pc" x="1235.8" y="763.6"/>
<text transform="translate(1223.3 781.8) scale(1 1.09)">0</text>
<use href="#pc" x="1235.8" y="781.3"/>
<text transform="translate(1223.3 799.5) scale(1 1.09)">0</text>
<use href="#pc" x="1235.8" y="799"/>
<text transform="translate(1223.3 817.2) scale(1 1.09)">0</text>
<use href="#pc" x="1235.8" y="816.7"/>
<text transform="translate(1223.3 834.9) scale(1 1.09)">0</text>
<use href="#pc" x="1235.8" y="834.4"/>
<text transform="translate(1223.3 852.6) scale(1 1.09)">0</text>
<use href="#pc" x="1235.8" y="852.1"/>
<text transform="translate(1223.3 870.3) scale(1 1.09)">0</text>
<use href="#pc" x="1235.8" y="869.8"/>
<text transform="translate(1223.3 888) scale(1 1.09)">0</text>
<use href="#pc" x="1235.8" y="887.5"/>
<text transform="translate(1223.3 905.7) scale(1 1.09)">0</text>
<use href="#pc" x="1235.8" y="905.2"/>
<text transform="translate(1223.3 923.4) scale(1 1.09)">0</text>
<use href="#pc" x="1235.8" y="922.9"/>
<text transform="translate(1223.3 941.1) scale(1 1.09)">0</text>
<use href="#pc" x="1235.8" y="940.6"/>
<text transform="translate(1223.3 958.8) scale(1 1.09)">0</text>
<use href="#pc" x="1235.8" y="958.3"/>
<text transform="translate(1223.3 976.5) scale(1 1.09)">0</text>
<use href="#pc" x="1235.8" y="976"/>
<text transform="translate(1223.3 994.2) scale(1 1.09)">0</text>
<use href="#pc" x="1235.8" y="993.7"/>
<text transform="translate(1223.3 1011.9) scale(1 1.09)">0</text>
<use href="#pc" x="1235.8" y="1011.4"/>
<text transform="translate(1223.3 1029.6) scale(1 1.09)">0</text>
<use href="#pc" x="1235.8" y="1029.1"/>
<text transform="translate(1223.3 1047.3) scale(1 1.09)">0</text>
<use href="#pc" x="1235.8" y="1046.8"/>
<text transform="translate(1223.3 1065) scale(1 1.09)">0</text>
<use href="#pc" x="1235.8" y="1064.5"/>
<text transform="translate(1223.3 1082.7) scale(1 1.09)">0</text>
<use href="#pc" x="1235.8" y="1082.2"/>
<text transform="translate(1223.3 1100.4) scale(1 1.09)">0</text>
<use href="#pc" x="1235.8" y="1099.9"/>
<text transform="translate(1223.3 1118.1) scale(1 1.09)">0</text>
<use href="#pc" x="1235.8" y="1117.6"/>
<text transform="translate(1223.3 1135.8) scale(1 1.09)">0</text>
<use href="#pc" x="1235.8" y="1135.3"/>
<text transform="translate(1223.3 1153.5) scale(1 1.09)">0</text>
<use href="#pc" x="1235.8" y="1153"/>
<text transform="translate(1223.3 1171.2) scale(1 1.09)">0</text>
<use href="#pc" x="1235.8" y="1170.7"/>
<text transform="translate(1223.3 1188.9) scale(1 1.09)">0</text>
<use href="#pc" x="1235.8" y="1188.4"/>
<text transform="translate(1223.3 1206.6) scale(1 1.09)">0</text>
<use href="#pc" x="1235.8" y="1206.1"/>
<text transform="translate(1223.3 1224.3) scale(1 1.09)">0</text>
<use href="#pc" x="1235.8" y="1223.8"/>
<text transform="translate(1223.3 1242) scale(1 1.09)">0</text>
<use href="#pc" x="1235.8" y="1241.5"/>
<text transform="translate(1223.3 1259.7) scale(1 1.09)">0</text>
<use href="#pc" x="1235.8" y="1259.2"/>
<text transform="translate(1223.3 1277.4) scale(1 1.09)">0</text>
<use href="#pc" x="1235.8" y="1276.9"/>
<text transform="translate(1223.3 1295.1) scale(1 1.09)">0</text>
<use href="#pc" x="1235.8" y="1294.6"/>
<text transform="translate(1223.3 1312.8) scale(1 1.09)">0</text>
<use href="#pc" x="1235.8" y="1312.3"/>
<text transform="translate(1223.3 1330.5) scale(1 1.09)">0</text>
<use href="#pc" x="1235.8" y="1330"/>
</g>
<rect x="1283.1" y="130.3" width="117.32" height="10.6" fill="#9e74c6"/>
<rect x="1400.22" y="130.3" width="9.96" height="10.6" fill="#7b8cbe"/>
<rect x="1283.1" y="148" width="34.36" height="10.6" fill="#3a9692"/>
<rect x="1317.26" y="148" width="14.84" height="10.6" fill="#fd6042"/>
<rect x="1331.9" y="148" width="5.08" height="10.6" fill="#668f24"/>
<rect x="1283.1" y="165.7" width="14.84" height="10.6" fill="#3a9692"/>
<rect x="1297.74" y="165.7" width="9.96" height="10.6" fill="#fd6042"/>
<rect x="1283.1" y="183.4" width="9.96" height="10.6" fill="#3a9692"/>
<rect x="1292.86" y="183.4" width="5.08" height="10.6" fill="#fd6042"/>
<rect x="1297.74" y="183.4" width="5.08" height="10.6" fill="#7b8cbe"/>
<rect x="1283.1" y="201.1" width="5.08" height="10.6" fill="#9e74c6"/>
<rect x="1287.98" y="201.1" width="9.96" height="10.6" fill="#3a9692"/>
<rect x="1297.74" y="201.1" width="5.08" height="10.6" fill="#7b8cbe"/>
<rect x="1283.1" y="218.8" width="14.84" height="10.6" fill="#3a9692"/>
<rect x="1297.74" y="218.8" width="5.08" height="10.6" fill="#fd7c4e"/>
<rect x="1283.1" y="236.5" width="5.08" height="10.6" fill="#9e74c6"/>
<rect x="1287.98" y="236.5" width="5.08" height="10.6" fill="#3a9692"/>
<rect x="1292.86" y="236.5" width="5.08" height="10.6" fill="#fd6042"/>
<rect x="1297.74" y="236.5" width="5.08" height="10.6" fill="#7b8cbe"/>
<rect x="1283.1" y="254.2" width="9.96" height="10.6" fill="#3a9692"/>
<rect x="1292.86" y="254.2" width="5.08" height="10.6" fill="#fd6042"/>
<rect x="1283.1" y="271.9" width="14.84" height="10.6" fill="#9e74c6"/>
<rect x="1283.1" y="289.6" width="9.96" height="10.6" fill="#9e74c6"/>
<rect x="1283.1" y="307.3" width="5.08" height="10.6" fill="#9e74c6"/>
<rect x="1287.98" y="307.3" width="5.08" height="10.6" fill="#fd6042"/>
<rect x="1283.1" y="325" width="5.08" height="10.6" fill="#9e74c6"/>
<rect x="1287.98" y="325" width="5.08" height="10.6" fill="#fd7c4e"/>
<rect x="1283.1" y="342.7" width="5.08" height="10.6" fill="#9e74c6"/>
<rect x="1287.98" y="342.7" width="5.08" height="10.6" fill="#fd6042"/>
<rect x="1283.1" y="360.4" width="9.96" height="10.6" fill="#fd6042"/>
<rect x="1283.1" y="378.1" width="5.08" height="10.6" fill="#3a9692"/>
<rect x="1287.98" y="378.1" width="5.08" height="10.6" fill="#fd6042"/>
<rect x="1283.1" y="395.8" width="5.08" height="10.6" fill="#3a9692"/>
<rect x="1287.98" y="395.8" width="5.08" height="10.6" fill="#fd6042"/>
<rect x="1283.1" y="413.5" width="9.96" height="10.6" fill="#3a9692"/>
<rect x="1283.1" y="431.2" width="5.08" height="10.6" fill="#9e74c6"/>
<rect x="1283.1" y="448.9" width="5.08" height="10.6" fill="#9e74c6"/>
<rect x="1283.1" y="466.6" width="5.08" height="10.6" fill="#fd6042"/>
<rect x="1283.1" y="484.3" width="5.08" height="10.6" fill="#fd6042"/>
<rect x="1283.1" y="502" width="5.08" height="10.6" fill="#9e74c6"/>
<rect x="1283.1" y="519.7" width="5.08" height="10.6" fill="#9e74c6"/>
<path d="M1283.3 126.7H1416.3" stroke="#000" stroke-width="2.8" stroke-linecap="round" fill="none"/>
<path d="M1283.3 126.7V119.3" stroke="#000" stroke-width="2.8" stroke-linecap="round" fill="none"/>
<text transform="translate(1283.3 112.4) scale(1 1.12)" font-size="18" text-anchor="middle" stroke="#000" stroke-width="0.45">0</text>
<path d="M1332.1 126.7V119.3" stroke="#000" stroke-width="2.8" stroke-linecap="round" fill="none"/>
<text transform="translate(1332.1 112.4) scale(1 1.12)" font-size="18" text-anchor="middle" stroke="#000" stroke-width="0.45">10</text>
<path d="M1380.9 126.7V119.3" stroke="#000" stroke-width="2.8" stroke-linecap="round" fill="none"/>
<text transform="translate(1380.9 112.4) scale(1 1.12)" font-size="18" text-anchor="middle" stroke="#000" stroke-width="0.45">20</text>
<use href="#ga" y="1381.64"/><use href="#gb1" y="1381.64"/>
<use href="#gb2" y="1401.24"/>
<use href="#ga" y="1399.32"/><use href="#gb1" y="1399.32"/>
<use href="#gb2" y="1418.92"/>
<use href="#ga" y="1417"/><use href="#gb1" y="1417"/>
<use href="#gb2" y="1436.6"/>
<use href="#ga" y="1434.68"/><use href="#gb1" y="1434.68"/>
<use href="#gb2" y="1454.28"/>
<use href="#ga" y="1452.36"/><use href="#gb1" y="1452.36"/>
<use href="#gb2" y="1471.96"/>
<use href="#ga" y="1470.04"/><use href="#gb1" y="1470.04"/>
<use href="#gb2" y="1489.64"/>
<use href="#ga" y="1487.72"/><use href="#gb1" y="1487.72"/>
<use href="#gb2" y="1507.32"/>
<use href="#ga" y="1505.4"/><use href="#gb1" y="1505.4"/>
<use href="#gb2" y="1525"/>
<use href="#ga" y="1523.08"/><use href="#gb1" y="1523.08"/>
<use href="#gb2" y="1542.68"/>
<use href="#ga" y="1540.76"/><use href="#gb1" y="1540.76"/>
<use href="#gb2" y="1560.36"/>
<use href="#ga" y="1558.44"/><use href="#gb1" y="1558.44"/>
<use href="#gb2" y="1578.04"/>
<use href="#ga" y="1576.12"/><use href="#gb1" y="1576.12"/>
<use href="#gb2" y="1595.72"/>
<use href="#ga" y="1593.8"/><use href="#gb1" y="1593.8"/>
<use href="#gb2" y="1613.4"/>
<use href="#ga" y="1611.48"/><use href="#gb1" y="1611.48"/>
<use href="#gb2" y="1631.08"/>
<use href="#ga" y="1629.16"/><use href="#gb1" y="1629.16"/>
<use href="#gb2" y="1648.76"/>
<use href="#ga" y="1646.84"/><use href="#gb1" y="1646.84"/>
<use href="#gb2" y="1666.44"/>
<use href="#ga" y="1664.52"/><use href="#gb1" y="1664.52"/>
<use href="#gb2" y="1684.12"/>
<use href="#ga" y="1682.2"/><use href="#gb1" y="1682.2"/>
<use href="#gb2" y="1701.8"/>
<use href="#ga" y="1699.88"/><use href="#gb1" y="1699.88"/>
<use href="#gb2" y="1719.48"/>
<use href="#ga" y="1717.56"/><use href="#gb1" y="1717.56"/>
<use href="#gb2" y="1737.16"/>
<use href="#ga" y="1735.24"/><use href="#gb1" y="1735.24"/>
<use href="#gb2" y="1754.84"/>
<use href="#ga" y="1752.92"/><use href="#gb1" y="1752.92"/>
<use href="#gb2" y="1772.52"/>
<use href="#ga" y="1770.6"/><use href="#gb1" y="1770.6"/>
<use href="#gb2" y="1790.2"/>
<use href="#ga" y="1788.28"/><use href="#gb1" y="1788.28"/>
<use href="#gb2" y="1807.88"/>
<use href="#ga" y="1805.96"/><use href="#gb1" y="1805.96"/>
<use href="#gb2" y="1825.56"/>
<use href="#ga" y="1823.64"/><use href="#gb1" y="1823.64"/>
<use href="#gb2" y="1843.24"/>
<use href="#ga" y="1841.32"/><use href="#gb1" y="1841.32"/>
<use href="#gb2" y="1860.92"/>
<use href="#ga" y="1859"/><use href="#gb1" y="1859"/>
<use href="#gb2" y="1878.6"/>
<use href="#ga" y="1876.68"/><use href="#gb1" y="1876.68"/>
<use href="#gb2" y="1896.28"/>
<use href="#ga" y="1894.36"/><use href="#gb1" y="1894.36"/>
<use href="#gb2" y="1913.96"/>
<use href="#ga" y="1912.04"/><use href="#gb1" y="1912.04"/>
<use href="#gb2" y="1931.64"/>
<use href="#ga" y="1929.72"/><use href="#gb1" y="1929.72"/>
<use href="#gb2" y="1949.32"/>
<use href="#ga" y="1947.4"/><use href="#gb1" y="1947.4"/>
<use href="#gb2" y="1967"/>
<use href="#ga" y="1965.08"/><use href="#gb1" y="1965.08"/>
<use href="#gb2" y="1984.68"/>
<use href="#ga" y="1982.76"/><use href="#gb1" y="1982.76"/>
<use href="#gb2" y="2002.36"/>
<use href="#ga" y="2000.44"/><use href="#gb1" y="2000.44"/>
<use href="#gb2" y="2020.04"/>
<use href="#ga" y="2018.12"/><use href="#gb1" y="2018.12"/>
<use href="#gb2" y="2037.72"/>
<use href="#ga" y="2035.8"/><use href="#gb1" y="2035.8"/>
<use href="#gb2" y="2055.4"/>
<use href="#ga" y="2053.48"/><use href="#gb1" y="2053.48"/>
<use href="#gb2" y="2073.08"/>
<use href="#ga" y="2071.16"/><use href="#gb1" y="2071.16"/>
<use href="#gb2" y="2090.76"/>
<use href="#ga" y="2088.84"/><use href="#gb1" y="2088.84"/>
<use href="#gb2" y="2108.44"/>
<use href="#ga" y="2106.52"/><use href="#gb1" y="2106.52"/>
<use href="#gb2" y="2126.12"/>
<use href="#ga" y="2124.2"/><use href="#gb1" y="2124.2"/>
<use href="#gb2" y="2143.8"/>
<use href="#ga" y="2141.88"/><use href="#gb1" y="2141.88"/>
<use href="#gb2" y="2161.48"/>
<use href="#ga" y="2159.56"/><use href="#gb1" y="2159.56"/>
<use href="#gb2" y="2179.16"/>
<use href="#ga" y="2177.24"/><use href="#gb1" y="2177.24"/>
<use href="#gb2" y="2196.84"/>
<use href="#ga" y="2194.92"/><use href="#gb1" y="2194.92"/>
<use href="#gb2" y="2214.52"/>
<use href="#ga" y="2212.6"/><use href="#gb1" y="2212.6"/>
<use href="#gb2" y="2232.2"/>
<use href="#ga" y="2230.28"/><use href="#gb1" y="2230.28"/>
<use href="#gb2" y="2249.88"/>
<use href="#ga" y="2247.96"/><use href="#gb1" y="2247.96"/>
<use href="#gb2" y="2267.56"/>
<use href="#ga" y="2265.64"/><use href="#gb1" y="2265.64"/>
<use href="#gb2" y="2285.24"/>
<use href="#ga" y="2283.32"/><use href="#gb1" y="2283.32"/>
<use href="#gb2" y="2302.92"/>
<use href="#ga" y="2301"/><use href="#gb1" y="2301"/>
<use href="#gb2" y="2320.6"/>
<use href="#ga" y="2318.68"/><use href="#gb1" y="2318.68"/>
<use href="#gb2" y="2338.28"/>
<use href="#ga" y="2336.36"/><use href="#gb1" y="2336.36"/>
<use href="#gb2" y="2355.96"/>
<use href="#ga" y="2354.04"/><use href="#gb1" y="2354.04"/>
<use href="#gb2" y="2373.64"/>
<use href="#ga" y="2371.72"/><use href="#gb1" y="2371.72"/>
<use href="#gb2" y="2391.32"/>
<use href="#ga" y="2389.4"/><use href="#gb1" y="2389.4"/>
<use href="#gb2" y="2409"/>
<use href="#ga" y="2407.08"/><use href="#gb1" y="2407.08"/>
<use href="#gb2" y="2426.68"/>
<use href="#ga" y="2424.76"/><use href="#gb1" y="2424.76"/>
<use href="#gb2" y="2444.36"/>
<use href="#ga" y="2442.44"/><use href="#gb1" y="2442.44"/>
<use href="#gb2" y="2462.04"/>
<use href="#ga" y="2460.12"/><use href="#gb1" y="2460.12"/>
<use href="#gb2" y="2479.72"/>
<use href="#ga" y="2477.8"/><use href="#gb1" y="2477.8"/>
<use href="#gb2" y="2497.4"/>
<use href="#ga" y="2495.48"/><use href="#gb1" y="2495.48"/>
<use href="#gb2" y="2515.08"/>
<use href="#ga" y="2513.16"/><use href="#gb1" y="2513.16"/>
<use href="#gb2" y="2532.76"/>
<use href="#ga" y="2530.84"/><use href="#gb1" y="2530.84"/>
<use href="#gb2" y="2550.44"/>
<use href="#ga" y="2548.52"/><use href="#gb1" y="2548.52"/>
<use href="#gb2" y="2568.12"/>
<use href="#ga" y="2566.2"/><use href="#gb1" y="2566.2"/>
<use href="#gb2" y="2585.8"/>
<rect x="1050.6" y="1376.04" width="7.8" height="11.2" fill="#ebebeb"/>
<rect x="468.27" y="1375.94" width="7.7" height="11.4" fill="#c6cfe9"/>
<use href="#x" x="472.12" y="1381.64"/>
<rect x="482.31" y="1375.94" width="7.7" height="11.4" fill="#c6cfe9"/>
<use href="#x" x="486.16" y="1381.64"/>
<rect x="496.35" y="1375.94" width="7.7" height="11.4" fill="#c6cfe9"/>
<use href="#x" x="500.2" y="1381.64"/>
<rect x="510.39" y="1375.94" width="7.7" height="11.4" fill="#c6cfe9"/>
<use href="#x" x="514.24" y="1381.64"/>
<rect x="552.51" y="1375.94" width="7.7" height="11.4" fill="#c6cfe9"/>
<use href="#x" x="556.36" y="1381.64"/>
<rect x="566.4" y="1375.94" width="8" height="11.4" fill="#fbd0c3"/>
<rect x="580.59" y="1375.94" width="7.7" height="11.4" fill="#c6cfe9"/>
<use href="#x" x="584.44" y="1381.64"/>
<rect x="594.63" y="1375.94" width="7.7" height="11.4" fill="#c6cfe9"/>
<use href="#x" x="598.48" y="1381.64"/>
<rect x="608.67" y="1375.94" width="7.7" height="11.4" fill="#c6cfe9"/>
<use href="#x" x="612.52" y="1381.64"/>
<rect x="636.75" y="1375.94" width="7.7" height="11.4" fill="#c6cfe9"/>
<use href="#x" x="640.6" y="1381.64"/>
<rect x="650.79" y="1375.94" width="7.7" height="11.4" fill="#c6cfe9"/>
<use href="#x" x="654.64" y="1381.64"/>
<rect x="678.87" y="1375.94" width="7.7" height="11.4" fill="#c6cfe9"/>
<use href="#x" x="682.72" y="1381.64"/>
<rect x="692.91" y="1375.94" width="7.7" height="11.4" fill="#c6cfe9"/>
<use href="#x" x="696.76" y="1381.64"/>
<rect x="706.95" y="1375.94" width="7.7" height="11.4" fill="#c6cfe9"/>
<use href="#x" x="710.8" y="1381.64"/>
<rect x="720.99" y="1375.94" width="7.7" height="11.4" fill="#c6cfe9"/>
<use href="#x" x="724.84" y="1381.64"/>
<rect x="468.27" y="1393.62" width="7.7" height="11.4" fill="#c6cfe9"/>
<use href="#x" x="472.12" y="1399.32"/>
<rect x="482.31" y="1393.62" width="7.7" height="11.4" fill="#c6cfe9"/>
<use href="#x" x="486.16" y="1399.32"/>
<rect x="496.35" y="1393.62" width="7.7" height="11.4" fill="#c6cfe9"/>
<use href="#x" x="500.2" y="1399.32"/>
<rect x="510.39" y="1393.62" width="7.7" height="11.4" fill="#c6cfe9"/>
<use href="#x" x="514.24" y="1399.32"/>
<rect x="552.51" y="1393.62" width="7.7" height="11.4" fill="#c6cfe9"/>
<use href="#x" x="556.36" y="1399.32"/>
<rect x="566.4" y="1393.62" width="8" height="11.4" fill="#fbd0c3"/>
<rect x="580.59" y="1393.62" width="7.7" height="11.4" fill="#c6cfe9"/>
<use href="#x" x="584.44" y="1399.32"/>
<rect x="594.63" y="1393.62" width="7.7" height="11.4" fill="#c6cfe9"/>
<use href="#x" x="598.48" y="1399.32"/>
<rect x="608.67" y="1393.62" width="7.7" height="11.4" fill="#c6cfe9"/>
<use href="#x" x="612.52" y="1399.32"/>
<rect x="636.75" y="1393.62" width="7.7" height="11.4" fill="#c6cfe9"/>
<use href="#x" x="640.6" y="1399.32"/>
<rect x="650.79" y="1393.62" width="7.7" height="11.4" fill="#c6cfe9"/>
<use href="#x" x="654.64" y="1399.32"/>
<rect x="678.87" y="1393.62" width="7.7" height="11.4" fill="#c6cfe9"/>
<use href="#x" x="682.72" y="1399.32"/>
<rect x="692.91" y="1393.62" width="7.7" height="11.4" fill="#c6cfe9"/>
<use href="#x" x="696.76" y="1399.32"/>
<rect x="706.95" y="1393.62" width="7.7" height="11.4" fill="#c6cfe9"/>
<use href="#x" x="710.8" y="1399.32"/>
<rect x="720.99" y="1393.62" width="7.7" height="11.4" fill="#c6cfe9"/>
<use href="#x" x="724.84" y="1399.32"/>
<rect x="468.27" y="1411.3" width="7.7" height="11.4" fill="#c6cfe9"/>
<use href="#x" x="472.12" y="1417"/>
<rect x="482.31" y="1411.3" width="7.7" height="11.4" fill="#c6cfe9"/>
<use href="#x" x="486.16" y="1417"/>
<rect x="496.35" y="1411.3" width="7.7" height="11.4" fill="#c6cfe9"/>
<use href="#x" x="500.2" y="1417"/>
<rect x="510.39" y="1411.3" width="7.7" height="11.4" fill="#c6cfe9"/>
<use href="#x" x="514.24" y="1417"/>
<rect x="552.51" y="1411.3" width="7.7" height="11.4" fill="#c6cfe9"/>
<use href="#x" x="556.36" y="1417"/>
<rect x="566.4" y="1411.3" width="8" height="11.4" fill="#fbd0c3"/>
<rect x="580.59" y="1411.3" width="7.7" height="11.4" fill="#c6cfe9"/>
<use href="#x" x="584.44" y="1417"/>
<rect x="594.63" y="1411.3" width="7.7" height="11.4" fill="#c6cfe9"/>
<use href="#x" x="598.48" y="1417"/>
<rect x="608.67" y="1411.3" width="7.7" height="11.4" fill="#c6cfe9"/>
<use href="#x" x="612.52" y="1417"/>
<rect x="636.75" y="1411.3" width="7.7" height="11.4" fill="#c6cfe9"/>
<use href="#x" x="640.6" y="1417"/>
<rect x="650.79" y="1411.3" width="7.7" height="11.4" fill="#c6cfe9"/>
<use href="#x" x="654.64" y="1417"/>
<rect x="678.87" y="1411.3" width="7.7" height="11.4" fill="#c6cfe9"/>
<use href="#x" x="682.72" y="1417"/>
<rect x="692.91" y="1411.3" width="7.7" height="11.4" fill="#c6cfe9"/>
<use href="#x" x="696.76" y="1417"/>
<rect x="706.95" y="1411.3" width="7.7" height="11.4" fill="#c6cfe9"/>
<use href="#x" x="710.8" y="1417"/>
<rect x="720.99" y="1411.3" width="7.7" height="11.4" fill="#c6cfe9"/>
<use href="#x" x="724.84" y="1417"/>
<rect x="468.27" y="1428.98" width="7.7" height="11.4" fill="#c6cfe9"/>
<use href="#x" x="472.12" y="1434.68"/>
<rect x="482.31" y="1428.98" width="7.7" height="11.4" fill="#c6cfe9"/>
<use href="#x" x="486.16" y="1434.68"/>
<rect x="496.35" y="1428.98" width="7.7" height="11.4" fill="#c6cfe9"/>
<use href="#x" x="500.2" y="1434.68"/>
<rect x="580.59" y="1428.98" width="7.7" height="11.4" fill="#c6cfe9"/>
<use href="#x" x="584.44" y="1434.68"/>
<rect x="622.71" y="1428.98" width="7.7" height="11.4" fill="#c6cfe9"/>
<use href="#x" x="626.56" y="1434.68"/>
<rect x="664.83" y="1428.98" width="7.7" height="11.4" fill="#c6cfe9"/>
<use href="#x" x="668.68" y="1434.68"/>
<rect x="468.27" y="1446.66" width="7.7" height="11.4" fill="#c6cfe9"/>
<use href="#x" x="472.12" y="1452.36"/>
<rect x="538.47" y="1446.66" width="7.7" height="11.4" fill="#c6cfe9"/>
<use href="#x" x="542.32" y="1452.36"/>
<rect x="580.59" y="1446.66" width="7.7" height="11.4" fill="#c6cfe9"/>
<use href="#x" x="584.44" y="1452.36"/>
<rect x="594.63" y="1446.66" width="7.7" height="11.4" fill="#c6cfe9"/>
<use href="#x" x="598.48" y="1452.36"/>
<rect x="622.71" y="1446.66" width="7.7" height="11.4" fill="#c6cfe9"/>
<use href="#x" x="626.56" y="1452.36"/>
<rect x="720.99" y="1446.66" width="7.7" height="11.4" fill="#c6cfe9"/>
<use href="#x" x="724.84" y="1452.36"/>
<rect x="496.35" y="1464.34" width="7.7" height="11.4" fill="#c6cfe9"/>
<use href="#x" x="500.2" y="1470.04"/>
<rect x="524.43" y="1464.34" width="7.7" height="11.4" fill="#c6cfe9"/>
<use href="#x" x="528.28" y="1470.04"/>
<rect x="538.47" y="1464.34" width="7.7" height="11.4" fill="#c6cfe9"/>
<use href="#x" x="542.32" y="1470.04"/>
<rect x="566.55" y="1464.34" width="7.7" height="11.4" fill="#c6cfe9"/>
<use href="#x" x="570.4" y="1470.04"/>
<rect x="608.67" y="1464.34" width="7.7" height="11.4" fill="#c6cfe9"/>
<use href="#x" x="612.52" y="1470.04"/>
<rect x="622.71" y="1464.34" width="7.7" height="11.4" fill="#c6cfe9"/>
<use href="#x" x="626.56" y="1470.04"/>
<rect x="678.87" y="1464.34" width="7.7" height="11.4" fill="#c6cfe9"/>
<use href="#x" x="682.72" y="1470.04"/>
<rect x="706.95" y="1464.34" width="7.7" height="11.4" fill="#c6cfe9"/>
<use href="#x" x="710.8" y="1470.04"/>
<rect x="538.47" y="1482.02" width="7.7" height="11.4" fill="#c6cfe9"/>
<use href="#x" x="542.32" y="1487.72"/>
<rect x="580.59" y="1482.02" width="7.7" height="11.4" fill="#c6cfe9"/>
<use href="#x" x="584.44" y="1487.72"/>
<rect x="594.63" y="1482.02" width="7.7" height="11.4" fill="#c6cfe9"/>
<use href="#x" x="598.48" y="1487.72"/>
<rect x="622.71" y="1482.02" width="7.7" height="11.4" fill="#c6cfe9"/>
<use href="#x" x="626.56" y="1487.72"/>
<rect x="720.99" y="1482.02" width="7.7" height="11.4" fill="#c6cfe9"/>
<use href="#x" x="724.84" y="1487.72"/>
<rect x="468.27" y="1499.7" width="7.7" height="11.4" fill="#c6cfe9"/>
<use href="#x" x="472.12" y="1505.4"/>
<rect x="482.31" y="1499.7" width="7.7" height="11.4" fill="#c6cfe9"/>
<use href="#x" x="486.16" y="1505.4"/>
<rect x="496.35" y="1499.7" width="7.7" height="11.4" fill="#c6cfe9"/>
<use href="#x" x="500.2" y="1505.4"/>
<rect x="510.39" y="1499.7" width="7.7" height="11.4" fill="#c6cfe9"/>
<use href="#x" x="514.24" y="1505.4"/>
<rect x="552.51" y="1499.7" width="7.7" height="11.4" fill="#c6cfe9"/>
<use href="#x" x="556.36" y="1505.4"/>
<rect x="622.71" y="1499.7" width="7.7" height="11.4" fill="#c6cfe9"/>
<use href="#x" x="626.56" y="1505.4"/>
<rect x="650.79" y="1499.7" width="7.7" height="11.4" fill="#c6cfe9"/>
<use href="#x" x="654.64" y="1505.4"/>
<rect x="678.87" y="1499.7" width="7.7" height="11.4" fill="#c6cfe9"/>
<use href="#x" x="682.72" y="1505.4"/>
<rect x="706.95" y="1499.7" width="7.7" height="11.4" fill="#c6cfe9"/>
<use href="#x" x="710.8" y="1505.4"/>
<rect x="496.35" y="1517.38" width="7.7" height="11.4" fill="#c6cfe9"/>
<use href="#x" x="500.2" y="1523.08"/>
<rect x="524.43" y="1517.38" width="7.7" height="11.4" fill="#c6cfe9"/>
<use href="#x" x="528.28" y="1523.08"/>
<rect x="566.4" y="1517.38" width="8" height="11.4" fill="#fbd0c3"/>
<rect x="622.71" y="1517.38" width="7.7" height="11.4" fill="#c6cfe9"/>
<use href="#x" x="626.56" y="1523.08"/>
<rect x="678.87" y="1517.38" width="7.7" height="11.4" fill="#c6cfe9"/>
<use href="#x" x="682.72" y="1523.08"/>
<rect x="706.95" y="1517.38" width="7.7" height="11.4" fill="#c6cfe9"/>
<use href="#x" x="710.8" y="1523.08"/>
<rect x="468.27" y="1535.06" width="7.7" height="11.4" fill="#c6cfe9"/>
<use href="#x" x="472.12" y="1540.76"/>
<rect x="496.35" y="1535.06" width="7.7" height="11.4" fill="#c6cfe9"/>
<use href="#x" x="500.2" y="1540.76"/>
<rect x="566.55" y="1535.06" width="7.7" height="11.4" fill="#c6cfe9"/>
<use href="#x" x="570.4" y="1540.76"/>
<rect x="636.75" y="1535.06" width="7.7" height="11.4" fill="#c6cfe9"/>
<use href="#x" x="640.6" y="1540.76"/>
<rect x="678.87" y="1535.06" width="7.7" height="11.4" fill="#c6cfe9"/>
<use href="#x" x="682.72" y="1540.76"/>
<rect x="468.27" y="1552.74" width="7.7" height="11.4" fill="#c6cfe9"/>
<use href="#x" x="472.12" y="1558.44"/>
<rect x="496.35" y="1552.74" width="7.7" height="11.4" fill="#c6cfe9"/>
<use href="#x" x="500.2" y="1558.44"/>
<rect x="566.55" y="1552.74" width="7.7" height="11.4" fill="#c6cfe9"/>
<use href="#x" x="570.4" y="1558.44"/>
<rect x="636.75" y="1552.74" width="7.7" height="11.4" fill="#c6cfe9"/>
<use href="#x" x="640.6" y="1558.44"/>
<rect x="678.87" y="1552.74" width="7.7" height="11.4" fill="#c6cfe9"/>
<use href="#x" x="682.72" y="1558.44"/>
<rect x="468.12" y="1570.42" width="8" height="11.4" fill="#e74a30"/>
<rect x="496.35" y="1570.42" width="7.7" height="11.4" fill="#c6cfe9"/>
<use href="#x" x="500.2" y="1576.12"/>
<rect x="524.43" y="1570.42" width="7.7" height="11.4" fill="#c6cfe9"/>
<use href="#x" x="528.28" y="1576.12"/>
<rect x="538.32" y="1570.42" width="8" height="11.4" fill="#e74a30"/>
<rect x="566.4" y="1570.42" width="8" height="11.4" fill="#e74a30"/>
<rect x="622.71" y="1570.42" width="7.7" height="11.4" fill="#c6cfe9"/>
<use href="#x" x="626.56" y="1576.12"/>
<rect x="678.72" y="1570.42" width="8" height="11.4" fill="#e74a30"/>
<use href="#x" x="682.72" y="1576.12"/>
<rect x="706.95" y="1570.42" width="7.7" height="11.4" fill="#c6cfe9"/>
<use href="#x" x="710.8" y="1576.12"/>
<rect x="496.35" y="1588.1" width="7.7" height="11.4" fill="#c6cfe9"/>
<use href="#x" x="500.2" y="1593.8"/>
<rect x="524.43" y="1588.1" width="7.7" height="11.4" fill="#c6cfe9"/>
<use href="#x" x="528.28" y="1593.8"/>
<rect x="566.4" y="1588.1" width="8" height="11.4" fill="#fbd0c3"/>
<rect x="608.67" y="1588.1" width="7.7" height="11.4" fill="#c6cfe9"/>
<use href="#x" x="612.52" y="1593.8"/>
<rect x="622.71" y="1588.1" width="7.7" height="11.4" fill="#c6cfe9"/>
<use href="#x" x="626.56" y="1593.8"/>
<rect x="678.87" y="1588.1" width="7.7" height="11.4" fill="#c6cfe9"/>
<use href="#x" x="682.72" y="1593.8"/>
<rect x="706.95" y="1588.1" width="7.7" height="11.4" fill="#c6cfe9"/>
<use href="#x" x="710.8" y="1593.8"/>
<rect x="468.27" y="1605.78" width="7.7" height="11.4" fill="#c6cfe9"/>
<use href="#x" x="472.12" y="1611.48"/>
<rect x="496.35" y="1605.78" width="7.7" height="11.4" fill="#c6cfe9"/>
<use href="#x" x="500.2" y="1611.48"/>
<rect x="566.55" y="1605.78" width="7.7" height="11.4" fill="#c6cfe9"/>
<use href="#x" x="570.4" y="1611.48"/>
<rect x="636.75" y="1605.78" width="7.7" height="11.4" fill="#c6cfe9"/>
<use href="#x" x="640.6" y="1611.48"/>
<rect x="678.87" y="1605.78" width="7.7" height="11.4" fill="#c6cfe9"/>
<use href="#x" x="682.72" y="1611.48"/>
<rect x="468.27" y="1623.46" width="7.7" height="11.4" fill="#c6cfe9"/>
<use href="#x" x="472.12" y="1629.16"/>
<rect x="482.31" y="1623.46" width="7.7" height="11.4" fill="#c6cfe9"/>
<use href="#x" x="486.16" y="1629.16"/>
<rect x="496.35" y="1623.46" width="7.7" height="11.4" fill="#c6cfe9"/>
<use href="#x" x="500.2" y="1629.16"/>
<rect x="510.39" y="1623.46" width="7.7" height="11.4" fill="#c6cfe9"/>
<use href="#x" x="514.24" y="1629.16"/>
<rect x="552.51" y="1623.46" width="7.7" height="11.4" fill="#c6cfe9"/>
<use href="#x" x="556.36" y="1629.16"/>
<rect x="622.71" y="1623.46" width="7.7" height="11.4" fill="#c6cfe9"/>
<use href="#x" x="626.56" y="1629.16"/>
<rect x="650.79" y="1623.46" width="7.7" height="11.4" fill="#c6cfe9"/>
<use href="#x" x="654.64" y="1629.16"/>
<rect x="678.87" y="1623.46" width="7.7" height="11.4" fill="#c6cfe9"/>
<use href="#x" x="682.72" y="1629.16"/>
<rect x="706.95" y="1623.46" width="7.7" height="11.4" fill="#c6cfe9"/>
<use href="#x" x="710.8" y="1629.16"/>
<rect x="468.27" y="1641.14" width="7.7" height="11.4" fill="#c6cfe9"/>
<use href="#x" x="472.12" y="1646.84"/>
<rect x="496.35" y="1641.14" width="7.7" height="11.4" fill="#c6cfe9"/>
<use href="#x" x="500.2" y="1646.84"/>
<rect x="566.55" y="1641.14" width="7.7" height="11.4" fill="#c6cfe9"/>
<use href="#x" x="570.4" y="1646.84"/>
<rect x="636.75" y="1641.14" width="7.7" height="11.4" fill="#c6cfe9"/>
<use href="#x" x="640.6" y="1646.84"/>
<rect x="678.87" y="1641.14" width="7.7" height="11.4" fill="#c6cfe9"/>
<use href="#x" x="682.72" y="1646.84"/>
<rect x="482.31" y="1658.82" width="7.7" height="11.4" fill="#c6cfe9"/>
<use href="#x" x="486.16" y="1664.52"/>
<rect x="496.35" y="1658.82" width="7.7" height="11.4" fill="#c6cfe9"/>
<use href="#x" x="500.2" y="1664.52"/>
<rect x="510.24" y="1658.82" width="8" height="11.4" fill="#e74a30"/>
<rect x="524.28" y="1658.82" width="8" height="11.4" fill="#fbd0c3"/>
<rect x="580.59" y="1658.82" width="7.7" height="11.4" fill="#c6cfe9"/>
<use href="#x" x="584.44" y="1664.52"/>
<rect x="594.48" y="1658.82" width="8" height="11.4" fill="#e74a30"/>
<rect x="622.71" y="1658.82" width="7.7" height="11.4" fill="#c6cfe9"/>
<use href="#x" x="626.56" y="1664.52"/>
<rect x="664.68" y="1658.82" width="8" height="11.4" fill="#fbd0c3"/>
<rect x="678.87" y="1658.82" width="7.7" height="11.4" fill="#c6cfe9"/>
<use href="#x" x="682.72" y="1664.52"/>
<rect x="720.84" y="1658.82" width="8" height="11.4" fill="#fbd0c3"/>
<rect x="482.16" y="1676.5" width="8" height="11.4" fill="#e74a30"/>
<rect x="496.2" y="1676.5" width="8" height="11.4" fill="#fbd0c3"/>
<rect x="510.24" y="1676.5" width="8" height="11.4" fill="#e74a30"/>
<rect x="524.28" y="1676.5" width="8" height="11.4" fill="#fbd0c3"/>
<rect x="580.59" y="1676.5" width="7.7" height="11.4" fill="#c6cfe9"/>
<use href="#x" x="584.44" y="1682.2"/>
<rect x="594.48" y="1676.5" width="8" height="11.4" fill="#e74a30"/>
<rect x="622.71" y="1676.5" width="7.7" height="11.4" fill="#c6cfe9"/>
<use href="#x" x="626.56" y="1682.2"/>
<rect x="664.68" y="1676.5" width="8" height="11.4" fill="#fbd0c3"/>
<rect x="678.87" y="1676.5" width="7.7" height="11.4" fill="#c6cfe9"/>
<use href="#x" x="682.72" y="1682.2"/>
<rect x="720.84" y="1676.5" width="8" height="11.4" fill="#fbd0c3"/>
<rect x="496.35" y="1694.18" width="7.7" height="11.4" fill="#c6cfe9"/>
<use href="#x" x="500.2" y="1699.88"/>
<rect x="510.39" y="1694.18" width="7.7" height="11.4" fill="#c6cfe9"/>
<use href="#x" x="514.24" y="1699.88"/>
<rect x="552.51" y="1694.18" width="7.7" height="11.4" fill="#c6cfe9"/>
<use href="#x" x="556.36" y="1699.88"/>
<rect x="580.59" y="1694.18" width="7.7" height="11.4" fill="#c6cfe9"/>
<use href="#x" x="584.44" y="1699.88"/>
<rect x="622.71" y="1694.18" width="7.7" height="11.4" fill="#c6cfe9"/>
<use href="#x" x="626.56" y="1699.88"/>
<rect x="678.87" y="1694.18" width="7.7" height="11.4" fill="#c6cfe9"/>
<use href="#x" x="682.72" y="1699.88"/>
<rect x="692.91" y="1694.18" width="7.7" height="11.4" fill="#c6cfe9"/>
<use href="#x" x="696.76" y="1699.88"/>
<rect x="468.27" y="1711.86" width="7.7" height="11.4" fill="#c6cfe9"/>
<use href="#x" x="472.12" y="1717.56"/>
<rect x="496.2" y="1711.86" width="8" height="11.4" fill="#e74a30"/>
<rect x="566.55" y="1711.86" width="7.7" height="11.4" fill="#c6cfe9"/>
<use href="#x" x="570.4" y="1717.56"/>
<rect x="678.72" y="1711.86" width="8" height="11.4" fill="#fbd0c3"/>
<rect x="468.12" y="1729.54" width="8" height="11.4" fill="#e74a30"/>
<rect x="496.2" y="1729.54" width="8" height="11.4" fill="#e74a30"/>
<rect x="566.55" y="1729.54" width="7.7" height="11.4" fill="#c6cfe9"/>
<use href="#x" x="570.4" y="1735.24"/>
<rect x="678.72" y="1729.54" width="8" height="11.4" fill="#fbd0c3"/>
<rect x="468.27" y="1747.22" width="7.7" height="11.4" fill="#c6cfe9"/>
<use href="#x" x="472.12" y="1752.92"/>
<rect x="678.87" y="1747.22" width="7.7" height="11.4" fill="#c6cfe9"/>
<use href="#x" x="682.72" y="1752.92"/>
<rect x="706.95" y="1747.22" width="7.7" height="11.4" fill="#c6cfe9"/>
<use href="#x" x="710.8" y="1752.92"/>
<rect x="496.2" y="1764.9" width="8" height="11.4" fill="#e74a30"/>
<rect x="524.28" y="1764.9" width="8" height="11.4" fill="#fbd0c3"/>
<rect x="594.48" y="1764.9" width="8" height="11.4" fill="#fbd0c3"/>
<rect x="622.56" y="1764.9" width="8" height="11.4" fill="#e74a30"/>
<rect x="664.68" y="1764.9" width="8" height="11.4" fill="#fbd0c3"/>
<rect x="678.72" y="1764.9" width="8" height="11.4" fill="#e74a30"/>
<rect x="720.84" y="1764.9" width="8" height="11.4" fill="#fbd0c3"/>
<rect x="468.12" y="1782.58" width="8" height="11.4" fill="#e74a30"/>
<rect x="496.2" y="1782.58" width="8" height="11.4" fill="#e74a30"/>
<rect x="566.55" y="1782.58" width="7.7" height="11.4" fill="#c6cfe9"/>
<use href="#x" x="570.4" y="1788.28"/>
<rect x="678.72" y="1782.58" width="8" height="11.4" fill="#fbd0c3"/>
<rect x="468.12" y="1800.26" width="8" height="11.4" fill="#fbd0c3"/>
<rect x="482.16" y="1800.26" width="8" height="11.4" fill="#e74a30"/>
<rect x="496.2" y="1800.26" width="8" height="11.4" fill="#e74a30"/>
<rect x="622.56" y="1800.26" width="8" height="11.4" fill="#e74a30"/>
<rect x="468.27" y="1817.94" width="7.7" height="11.4" fill="#c6cfe9"/>
<use href="#x" x="472.12" y="1823.64"/>
<rect x="678.87" y="1817.94" width="7.7" height="11.4" fill="#c6cfe9"/>
<use href="#x" x="682.72" y="1823.64"/>
<rect x="706.95" y="1817.94" width="7.7" height="11.4" fill="#c6cfe9"/>
<use href="#x" x="710.8" y="1823.64"/>
<rect x="468.12" y="1835.62" width="8" height="11.4" fill="#f5c97c"/>
<use href="#x" x="472.12" y="1841.32"/>
<rect x="496.2" y="1835.62" width="8" height="11.4" fill="#e74a30"/>
<rect x="524.28" y="1835.62" width="8" height="11.4" fill="#fbd0c3"/>
<rect x="566.55" y="1835.62" width="7.7" height="11.4" fill="#c6cfe9"/>
<use href="#x" x="570.4" y="1841.32"/>
<rect x="678.72" y="1835.62" width="8" height="11.4" fill="#fbd0c3"/>
<rect x="664.68" y="1853.3" width="8" height="11.4" fill="#fbd0c3"/>
<rect x="678.72" y="1853.3" width="8" height="11.4" fill="#fbd0c3"/>
<rect x="538.47" y="1870.98" width="7.7" height="11.4" fill="#c6cfe9"/>
<use href="#x" x="542.32" y="1876.68"/>
<rect x="566.55" y="1870.98" width="7.7" height="11.4" fill="#c6cfe9"/>
<use href="#x" x="570.4" y="1876.68"/>
<rect x="594.48" y="1870.98" width="8" height="11.4" fill="#fbd0c3"/>
<rect x="622.56" y="1870.98" width="8" height="11.4" fill="#fbd0c3"/>
<rect x="720.84" y="1870.98" width="8" height="11.4" fill="#fbd0c3"/>
<rect x="468.12" y="1888.66" width="8" height="11.4" fill="#fbd0c3"/>
<rect x="496.2" y="1888.66" width="8" height="11.4" fill="#fbd0c3"/>
<rect x="622.56" y="1888.66" width="8" height="11.4" fill="#fbd0c3"/>
<rect x="678.72" y="1888.66" width="8" height="11.4" fill="#fbd0c3"/>
<rect x="468.12" y="1906.34" width="8" height="11.4" fill="#e74a30"/>
<rect x="496.2" y="1906.34" width="8" height="11.4" fill="#e74a30"/>
<rect x="566.55" y="1906.34" width="7.7" height="11.4" fill="#c6cfe9"/>
<use href="#x" x="570.4" y="1912.04"/>
<rect x="678.72" y="1906.34" width="8" height="11.4" fill="#fbd0c3"/>
<rect x="664.68" y="1924.02" width="8" height="11.4" fill="#fbd0c3"/>
<rect x="678.72" y="1924.02" width="8" height="11.4" fill="#fbd0c3"/>
<rect x="538.47" y="1941.7" width="7.7" height="11.4" fill="#c6cfe9"/>
<use href="#x" x="542.32" y="1947.4"/>
<rect x="566.55" y="1941.7" width="7.7" height="11.4" fill="#c6cfe9"/>
<use href="#x" x="570.4" y="1947.4"/>
<rect x="594.48" y="1941.7" width="8" height="11.4" fill="#fbd0c3"/>
<rect x="622.56" y="1941.7" width="8" height="11.4" fill="#fbd0c3"/>
<rect x="720.84" y="1941.7" width="8" height="11.4" fill="#fbd0c3"/>
<rect x="468.27" y="1959.38" width="7.7" height="11.4" fill="#c6cfe9"/>
<use href="#x" x="472.12" y="1965.08"/>
<rect x="622.71" y="1959.38" width="7.7" height="11.4" fill="#c6cfe9"/>
<use href="#x" x="626.56" y="1965.08"/>
<rect x="678.87" y="1959.38" width="7.7" height="11.4" fill="#c6cfe9"/>
<use href="#x" x="682.72" y="1965.08"/>
<rect x="468.27" y="1977.06" width="7.7" height="11.4" fill="#c6cfe9"/>
<use href="#x" x="472.12" y="1982.76"/>
<rect x="538.47" y="1977.06" width="7.7" height="11.4" fill="#c6cfe9"/>
<use href="#x" x="542.32" y="1982.76"/>
<rect x="566.4" y="1977.06" width="8" height="11.4" fill="#e74a30"/>
<rect x="594.63" y="1977.06" width="7.7" height="11.4" fill="#c6cfe9"/>
<use href="#x" x="598.48" y="1982.76"/>
<rect x="678.72" y="1977.06" width="8" height="11.4" fill="#fbd0c3"/>
<rect x="720.84" y="1977.06" width="8" height="11.4" fill="#fbd0c3"/>
<rect x="496.35" y="1994.74" width="7.7" height="11.4" fill="#c6cfe9"/>
<use href="#x" x="500.2" y="2000.44"/>
<rect x="524.43" y="1994.74" width="7.7" height="11.4" fill="#c6cfe9"/>
<use href="#x" x="528.28" y="2000.44"/>
<rect x="678.87" y="1994.74" width="7.7" height="11.4" fill="#c6cfe9"/>
<use href="#x" x="682.72" y="2000.44"/>
<rect x="496.35" y="2012.42" width="7.7" height="11.4" fill="#c6cfe9"/>
<use href="#x" x="500.2" y="2018.12"/>
<rect x="538.47" y="2012.42" width="7.7" height="11.4" fill="#c6cfe9"/>
<use href="#x" x="542.32" y="2018.12"/>
<rect x="594.48" y="2012.42" width="8" height="11.4" fill="#fbd0c3"/>
<rect x="622.56" y="2012.42" width="8" height="11.4" fill="#fbd0c3"/>
<rect x="650.79" y="2012.42" width="7.7" height="11.4" fill="#c6cfe9"/>
<use href="#x" x="654.64" y="2018.12"/>
<rect x="706.8" y="2012.42" width="8" height="11.4" fill="#fbd0c3"/>
<rect x="468.12" y="2047.78" width="8" height="11.4" fill="#fbd0c3"/>
<rect x="538.47" y="2065.46" width="7.7" height="11.4" fill="#c6cfe9"/>
<use href="#x" x="542.32" y="2071.16"/>
<rect x="566.55" y="2065.46" width="7.7" height="11.4" fill="#c6cfe9"/>
<use href="#x" x="570.4" y="2071.16"/>
<rect x="594.63" y="2065.46" width="7.7" height="11.4" fill="#c6cfe9"/>
<use href="#x" x="598.48" y="2071.16"/>
<rect x="720.84" y="2065.46" width="8" height="11.4" fill="#fbd0c3"/>
<rect x="468.27" y="2083.14" width="7.7" height="11.4" fill="#c6cfe9"/>
<use href="#x" x="472.12" y="2088.84"/>
<rect x="496.35" y="2083.14" width="7.7" height="11.4" fill="#c6cfe9"/>
<use href="#x" x="500.2" y="2088.84"/>
<rect x="622.56" y="2083.14" width="8" height="11.4" fill="#fbd0c3"/>
<rect x="496.2" y="2100.82" width="8" height="11.4" fill="#fbd0c3"/>
<rect x="538.47" y="2100.82" width="7.7" height="11.4" fill="#c6cfe9"/>
<use href="#x" x="542.32" y="2106.52"/>
<rect x="594.48" y="2100.82" width="8" height="11.4" fill="#fbd0c3"/>
<rect x="622.56" y="2100.82" width="8" height="11.4" fill="#fbd0c3"/>
<rect x="706.8" y="2100.82" width="8" height="11.4" fill="#fbd0c3"/>
<rect x="468.27" y="2118.5" width="7.7" height="11.4" fill="#c6cfe9"/>
<use href="#x" x="472.12" y="2124.2"/>
<rect x="636.6" y="2118.5" width="8" height="11.4" fill="#fbd0c3"/>
<rect x="468.12" y="2136.18" width="8" height="11.4" fill="#fbd0c3"/>
<rect x="622.71" y="2136.18" width="7.7" height="11.4" fill="#c6cfe9"/>
<use href="#x" x="626.56" y="2141.88"/>
<rect x="636.6" y="2136.18" width="8" height="11.4" fill="#fbd0c3"/>
<rect x="678.87" y="2136.18" width="7.7" height="11.4" fill="#c6cfe9"/>
<use href="#x" x="682.72" y="2141.88"/>
<rect x="692.91" y="2136.18" width="7.7" height="11.4" fill="#c6cfe9"/>
<use href="#x" x="696.76" y="2141.88"/>
<rect x="720.84" y="2136.18" width="8" height="11.4" fill="#fbd0c3"/>
<rect x="594.48" y="2153.86" width="8" height="11.4" fill="#fbd0c3"/>
<rect x="678.87" y="2153.86" width="7.7" height="11.4" fill="#c6cfe9"/>
<use href="#x" x="682.72" y="2159.56"/>
<rect x="510.39" y="2171.54" width="7.7" height="11.4" fill="#c6cfe9"/>
<use href="#x" x="514.24" y="2177.24"/>
<rect x="622.71" y="2171.54" width="7.7" height="11.4" fill="#c6cfe9"/>
<use href="#x" x="626.56" y="2177.24"/>
<rect x="678.87" y="2171.54" width="7.7" height="11.4" fill="#c6cfe9"/>
<use href="#x" x="682.72" y="2177.24"/>
<rect x="510.39" y="2189.22" width="7.7" height="11.4" fill="#c6cfe9"/>
<use href="#x" x="514.24" y="2194.92"/>
<rect x="622.71" y="2189.22" width="7.7" height="11.4" fill="#c6cfe9"/>
<use href="#x" x="626.56" y="2194.92"/>
<rect x="678.87" y="2189.22" width="7.7" height="11.4" fill="#c6cfe9"/>
<use href="#x" x="682.72" y="2194.92"/>
<rect x="468.27" y="2206.9" width="7.7" height="11.4" fill="#c6cfe9"/>
<use href="#x" x="472.12" y="2212.6"/>
<rect x="496.35" y="2206.9" width="7.7" height="11.4" fill="#c6cfe9"/>
<use href="#x" x="500.2" y="2212.6"/>
<rect x="622.56" y="2206.9" width="8" height="11.4" fill="#fbd0c3"/>
<rect x="496.35" y="2224.58" width="7.7" height="11.4" fill="#c6cfe9"/>
<use href="#x" x="500.2" y="2230.28"/>
<rect x="678.87" y="2224.58" width="7.7" height="11.4" fill="#c6cfe9"/>
<use href="#x" x="682.72" y="2230.28"/>
<rect x="538.32" y="2242.26" width="8" height="11.4" fill="#fbd0c3"/>
<rect x="594.48" y="2242.26" width="8" height="11.4" fill="#fbd0c3"/>
<rect x="622.56" y="2242.26" width="8" height="11.4" fill="#fbd0c3"/>
<rect x="720.84" y="2242.26" width="8" height="11.4" fill="#fbd0c3"/>
<rect x="622.56" y="2259.94" width="8" height="11.4" fill="#fbd0c3"/>
<rect x="664.83" y="2259.94" width="7.7" height="11.4" fill="#c6cfe9"/>
<use href="#x" x="668.68" y="2265.64"/>
<rect x="594.48" y="2277.62" width="8" height="11.4" fill="#fbd0c3"/>
<rect x="678.87" y="2277.62" width="7.7" height="11.4" fill="#c6cfe9"/>
<use href="#x" x="682.72" y="2283.32"/>
<rect x="468.12" y="2295.3" width="8" height="11.4" fill="#fbd0c3"/>
<rect x="594.48" y="2295.3" width="8" height="11.4" fill="#fbd0c3"/>
<rect x="678.72" y="2295.3" width="8" height="11.4" fill="#fbd0c3"/>
<rect x="468.12" y="2312.98" width="8" height="11.4" fill="#fbd0c3"/>
<rect x="594.48" y="2312.98" width="8" height="11.4" fill="#fbd0c3"/>
<rect x="678.72" y="2312.98" width="8" height="11.4" fill="#fbd0c3"/>
<rect x="594.48" y="2330.66" width="8" height="11.4" fill="#fbd0c3"/>
<rect x="678.87" y="2330.66" width="7.7" height="11.4" fill="#c6cfe9"/>
<use href="#x" x="682.72" y="2336.36"/>
<rect x="594.48" y="2348.34" width="8" height="11.4" fill="#fbd0c3"/>
<rect x="622.56" y="2348.34" width="8" height="11.4" fill="#fbd0c3"/>
<rect x="720.84" y="2348.34" width="8" height="11.4" fill="#fbd0c3"/>
<rect x="496.2" y="2366.02" width="8" height="11.4" fill="#fbd0c3"/>
<rect x="552.51" y="2366.02" width="7.7" height="11.4" fill="#c6cfe9"/>
<use href="#x" x="556.36" y="2371.72"/>
<rect x="594.63" y="2366.02" width="7.7" height="11.4" fill="#c6cfe9"/>
<use href="#x" x="598.48" y="2371.72"/>
<rect x="622.56" y="2366.02" width="8" height="11.4" fill="#fbd0c3"/>
<rect x="706.95" y="2366.02" width="7.7" height="11.4" fill="#c6cfe9"/>
<use href="#x" x="710.8" y="2371.72"/>
<rect x="496.2" y="2383.7" width="8" height="11.4" fill="#fbd0c3"/>
<rect x="594.48" y="2383.7" width="8" height="11.4" fill="#e74a30"/>
<rect x="622.56" y="2383.7" width="8" height="11.4" fill="#fbd0c3"/>
<rect x="706.8" y="2383.7" width="8" height="11.4" fill="#fbd0c3"/>
<rect x="678.72" y="2401.38" width="8" height="11.4" fill="#fbd0c3"/>
<rect x="594.63" y="2419.06" width="7.7" height="11.4" fill="#c6cfe9"/>
<use href="#x" x="598.48" y="2424.76"/>
<rect x="622.56" y="2419.06" width="8" height="11.4" fill="#fbd0c3"/>
<rect x="706.8" y="2419.06" width="8" height="11.4" fill="#fbd0c3"/>
<rect x="468.12" y="2436.74" width="8" height="11.4" fill="#e74a30"/>
<rect x="496.35" y="2454.42" width="7.7" height="11.4" fill="#c6cfe9"/>
<use href="#x" x="500.2" y="2460.12"/>
<rect x="566.4" y="2454.42" width="8" height="11.4" fill="#fbd0c3"/>
<rect x="594.63" y="2454.42" width="7.7" height="11.4" fill="#c6cfe9"/>
<use href="#x" x="598.48" y="2460.12"/>
<rect x="720.84" y="2454.42" width="8" height="11.4" fill="#fbd0c3"/>
<rect x="594.48" y="2489.78" width="8" height="11.4" fill="#fbd0c3"/>
<rect x="622.56" y="2489.78" width="8" height="11.4" fill="#fbd0c3"/>
<rect x="706.8" y="2489.78" width="8" height="11.4" fill="#fbd0c3"/>
<rect x="706.95" y="2507.46" width="7.7" height="11.4" fill="#c6cfe9"/>
<use href="#x" x="710.8" y="2513.16"/>
<rect x="755.81" y="1395.54" width="7.7" height="11.4" fill="#c6cfe9"/>
<use href="#x" x="759.66" y="1401.24"/>
<rect x="769.85" y="1395.54" width="7.7" height="11.4" fill="#c6cfe9"/>
<use href="#x" x="773.7" y="1401.24"/>
<rect x="811.82" y="1395.54" width="8" height="11.4" fill="#fbd0c3"/>
<rect x="853.94" y="1395.54" width="8" height="11.4" fill="#fbd0c3"/>
<rect x="868.13" y="1395.54" width="7.7" height="11.4" fill="#c6cfe9"/>
<use href="#x" x="871.98" y="1401.24"/>
<rect x="882.17" y="1395.54" width="7.7" height="11.4" fill="#c6cfe9"/>
<use href="#x" x="886.02" y="1401.24"/>
<rect x="896.21" y="1395.54" width="7.7" height="11.4" fill="#c6cfe9"/>
<use href="#x" x="900.06" y="1401.24"/>
<rect x="924.29" y="1395.54" width="7.7" height="11.4" fill="#c6cfe9"/>
<use href="#x" x="928.14" y="1401.24"/>
<rect x="938.33" y="1395.54" width="7.7" height="11.4" fill="#c6cfe9"/>
<use href="#x" x="942.18" y="1401.24"/>
<rect x="966.41" y="1395.54" width="7.7" height="11.4" fill="#c6cfe9"/>
<use href="#x" x="970.26" y="1401.24"/>
<rect x="980.45" y="1395.54" width="7.7" height="11.4" fill="#c6cfe9"/>
<use href="#x" x="984.3" y="1401.24"/>
<rect x="994.49" y="1395.54" width="7.7" height="11.4" fill="#c6cfe9"/>
<use href="#x" x="998.34" y="1401.24"/>
<rect x="1008.53" y="1395.54" width="7.7" height="11.4" fill="#c6cfe9"/>
<use href="#x" x="1012.38" y="1401.24"/>
<rect x="1022.57" y="1395.54" width="7.7" height="11.4" fill="#c6cfe9"/>
<use href="#x" x="1026.42" y="1401.24"/>
<rect x="1036.61" y="1395.54" width="7.7" height="11.4" fill="#c6cfe9"/>
<use href="#x" x="1040.46" y="1401.24"/>
<rect x="1064.69" y="1395.54" width="7.7" height="11.4" fill="#c6cfe9"/>
<use href="#x" x="1068.54" y="1401.24"/>
<rect x="1078.73" y="1395.54" width="7.7" height="11.4" fill="#c6cfe9"/>
<use href="#x" x="1082.58" y="1401.24"/>
<rect x="1092.77" y="1395.54" width="7.7" height="11.4" fill="#c6cfe9"/>
<use href="#x" x="1096.62" y="1401.24"/>
<rect x="1106.81" y="1395.54" width="7.7" height="11.4" fill="#c6cfe9"/>
<use href="#x" x="1110.66" y="1401.24"/>
<rect x="1120.85" y="1395.54" width="7.7" height="11.4" fill="#c6cfe9"/>
<use href="#x" x="1124.7" y="1401.24"/>
<rect x="1134.89" y="1395.54" width="7.7" height="11.4" fill="#c6cfe9"/>
<use href="#x" x="1138.74" y="1401.24"/>
<rect x="1177.01" y="1395.54" width="7.7" height="11.4" fill="#c6cfe9"/>
<use href="#x" x="1180.86" y="1401.24"/>
<rect x="1191.05" y="1395.54" width="7.7" height="11.4" fill="#c6cfe9"/>
<use href="#x" x="1194.9" y="1401.24"/>
<rect x="1205.09" y="1395.54" width="7.7" height="11.4" fill="#c6cfe9"/>
<use href="#x" x="1208.94" y="1401.24"/>
<rect x="755.81" y="1413.22" width="7.7" height="11.4" fill="#c6cfe9"/>
<use href="#x" x="759.66" y="1418.92"/>
<rect x="769.85" y="1413.22" width="7.7" height="11.4" fill="#c6cfe9"/>
<use href="#x" x="773.7" y="1418.92"/>
<rect x="853.94" y="1413.22" width="8" height="11.4" fill="#fbd0c3"/>
<rect x="868.13" y="1413.22" width="7.7" height="11.4" fill="#c6cfe9"/>
<use href="#x" x="871.98" y="1418.92"/>
<rect x="882.17" y="1413.22" width="7.7" height="11.4" fill="#c6cfe9"/>
<use href="#x" x="886.02" y="1418.92"/>
<rect x="896.21" y="1413.22" width="7.7" height="11.4" fill="#c6cfe9"/>
<use href="#x" x="900.06" y="1418.92"/>
<rect x="924.29" y="1413.22" width="7.7" height="11.4" fill="#c6cfe9"/>
<use href="#x" x="928.14" y="1418.92"/>
<rect x="938.33" y="1413.22" width="7.7" height="11.4" fill="#c6cfe9"/>
<use href="#x" x="942.18" y="1418.92"/>
<rect x="966.41" y="1413.22" width="7.7" height="11.4" fill="#c6cfe9"/>
<use href="#x" x="970.26" y="1418.92"/>
<rect x="980.45" y="1413.22" width="7.7" height="11.4" fill="#c6cfe9"/>
<use href="#x" x="984.3" y="1418.92"/>
<rect x="994.49" y="1413.22" width="7.7" height="11.4" fill="#c6cfe9"/>
<use href="#x" x="998.34" y="1418.92"/>
<rect x="1008.53" y="1413.22" width="7.7" height="11.4" fill="#c6cfe9"/>
<use href="#x" x="1012.38" y="1418.92"/>
<rect x="1022.57" y="1413.22" width="7.7" height="11.4" fill="#c6cfe9"/>
<use href="#x" x="1026.42" y="1418.92"/>
<rect x="1036.61" y="1413.22" width="7.7" height="11.4" fill="#c6cfe9"/>
<use href="#x" x="1040.46" y="1418.92"/>
<rect x="1064.69" y="1413.22" width="7.7" height="11.4" fill="#c6cfe9"/>
<use href="#x" x="1068.54" y="1418.92"/>
<rect x="1078.73" y="1413.22" width="7.7" height="11.4" fill="#c6cfe9"/>
<use href="#x" x="1082.58" y="1418.92"/>
<rect x="1092.77" y="1413.22" width="7.7" height="11.4" fill="#c6cfe9"/>
<use href="#x" x="1096.62" y="1418.92"/>
<rect x="1106.81" y="1413.22" width="7.7" height="11.4" fill="#c6cfe9"/>
<use href="#x" x="1110.66" y="1418.92"/>
<rect x="1120.85" y="1413.22" width="7.7" height="11.4" fill="#c6cfe9"/>
<use href="#x" x="1124.7" y="1418.92"/>
<rect x="1134.89" y="1413.22" width="7.7" height="11.4" fill="#c6cfe9"/>
<use href="#x" x="1138.74" y="1418.92"/>
<rect x="1177.01" y="1413.22" width="7.7" height="11.4" fill="#c6cfe9"/>
<use href="#x" x="1180.86" y="1418.92"/>
<rect x="1191.05" y="1413.22" width="7.7" height="11.4" fill="#c6cfe9"/>
<use href="#x" x="1194.9" y="1418.92"/>
<rect x="1205.09" y="1413.22" width="7.7" height="11.4" fill="#c6cfe9"/>
<use href="#x" x="1208.94" y="1418.92"/>
<rect x="755.81" y="1430.9" width="7.7" height="11.4" fill="#c6cfe9"/>
<use href="#x" x="759.66" y="1436.6"/>
<rect x="769.7" y="1430.9" width="8" height="11.4" fill="#fbd0c3"/>
<rect x="853.94" y="1430.9" width="8" height="11.4" fill="#fbd0c3"/>
<rect x="868.13" y="1430.9" width="7.7" height="11.4" fill="#c6cfe9"/>
<use href="#x" x="871.98" y="1436.6"/>
<rect x="882.17" y="1430.9" width="7.7" height="11.4" fill="#c6cfe9"/>
<use href="#x" x="886.02" y="1436.6"/>
<rect x="896.21" y="1430.9" width="7.7" height="11.4" fill="#c6cfe9"/>
<use href="#x" x="900.06" y="1436.6"/>
<rect x="924.29" y="1430.9" width="7.7" height="11.4" fill="#c6cfe9"/>
<use href="#x" x="928.14" y="1436.6"/>
<rect x="938.33" y="1430.9" width="7.7" height="11.4" fill="#c6cfe9"/>
<use href="#x" x="942.18" y="1436.6"/>
<rect x="966.41" y="1430.9" width="7.7" height="11.4" fill="#c6cfe9"/>
<use href="#x" x="970.26" y="1436.6"/>
<rect x="980.45" y="1430.9" width="7.7" height="11.4" fill="#c6cfe9"/>
<use href="#x" x="984.3" y="1436.6"/>
<rect x="994.49" y="1430.9" width="7.7" height="11.4" fill="#c6cfe9"/>
<use href="#x" x="998.34" y="1436.6"/>
<rect x="1008.53" y="1430.9" width="7.7" height="11.4" fill="#c6cfe9"/>
<use href="#x" x="1012.38" y="1436.6"/>
<rect x="1022.57" y="1430.9" width="7.7" height="11.4" fill="#c6cfe9"/>
<use href="#x" x="1026.42" y="1436.6"/>
<rect x="1036.61" y="1430.9" width="7.7" height="11.4" fill="#c6cfe9"/>
<use href="#x" x="1040.46" y="1436.6"/>
<rect x="1064.69" y="1430.9" width="7.7" height="11.4" fill="#c6cfe9"/>
<use href="#x" x="1068.54" y="1436.6"/>
<rect x="1078.73" y="1430.9" width="7.7" height="11.4" fill="#c6cfe9"/>
<use href="#x" x="1082.58" y="1436.6"/>
<rect x="1092.77" y="1430.9" width="7.7" height="11.4" fill="#c6cfe9"/>
<use href="#x" x="1096.62" y="1436.6"/>
<rect x="1106.81" y="1430.9" width="7.7" height="11.4" fill="#c6cfe9"/>
<use href="#x" x="1110.66" y="1436.6"/>
<rect x="1120.85" y="1430.9" width="7.7" height="11.4" fill="#c6cfe9"/>
<use href="#x" x="1124.7" y="1436.6"/>
<rect x="1134.89" y="1430.9" width="7.7" height="11.4" fill="#c6cfe9"/>
<use href="#x" x="1138.74" y="1436.6"/>
<rect x="1177.01" y="1430.9" width="7.7" height="11.4" fill="#c6cfe9"/>
<use href="#x" x="1180.86" y="1436.6"/>
<rect x="1191.05" y="1430.9" width="7.7" height="11.4" fill="#c6cfe9"/>
<use href="#x" x="1194.9" y="1436.6"/>
<rect x="1205.09" y="1430.9" width="7.7" height="11.4" fill="#c6cfe9"/>
<use href="#x" x="1208.94" y="1436.6"/>
<rect x="741.77" y="1448.58" width="7.7" height="11.4" fill="#c6cfe9"/>
<use href="#x" x="745.62" y="1454.28"/>
<rect x="755.81" y="1448.58" width="7.7" height="11.4" fill="#c6cfe9"/>
<use href="#x" x="759.66" y="1454.28"/>
<rect x="769.85" y="1448.58" width="7.7" height="11.4" fill="#c6cfe9"/>
<use href="#x" x="773.7" y="1454.28"/>
<rect x="783.89" y="1448.58" width="7.7" height="11.4" fill="#c6cfe9"/>
<use href="#x" x="787.74" y="1454.28"/>
<rect x="797.93" y="1448.58" width="7.7" height="11.4" fill="#c6cfe9"/>
<use href="#x" x="801.78" y="1454.28"/>
<rect x="811.97" y="1448.58" width="7.7" height="11.4" fill="#c6cfe9"/>
<use href="#x" x="815.82" y="1454.28"/>
<rect x="839.9" y="1448.58" width="8" height="11.4" fill="#e74a30"/>
<rect x="854.09" y="1448.58" width="7.7" height="11.4" fill="#c6cfe9"/>
<use href="#x" x="857.94" y="1454.28"/>
<rect x="896.21" y="1448.58" width="7.7" height="11.4" fill="#c6cfe9"/>
<use href="#x" x="900.06" y="1454.28"/>
<rect x="910.25" y="1448.58" width="7.7" height="11.4" fill="#c6cfe9"/>
<use href="#x" x="914.1" y="1454.28"/>
<rect x="924.29" y="1448.58" width="7.7" height="11.4" fill="#c6cfe9"/>
<use href="#x" x="928.14" y="1454.28"/>
<rect x="938.18" y="1448.58" width="8" height="11.4" fill="#19e5c3"/>
<rect x="952.37" y="1448.58" width="7.7" height="11.4" fill="#c6cfe9"/>
<use href="#x" x="956.22" y="1454.28"/>
<rect x="966.41" y="1448.58" width="7.7" height="11.4" fill="#c6cfe9"/>
<use href="#x" x="970.26" y="1454.28"/>
<rect x="994.49" y="1448.58" width="7.7" height="11.4" fill="#c6cfe9"/>
<use href="#x" x="998.34" y="1454.28"/>
<rect x="1036.61" y="1448.58" width="7.7" height="11.4" fill="#c6cfe9"/>
<use href="#x" x="1040.46" y="1454.28"/>
<rect x="1050.65" y="1448.58" width="7.7" height="11.4" fill="#c6cfe9"/>
<use href="#x" x="1054.5" y="1454.28"/>
<rect x="1064.69" y="1448.58" width="7.7" height="11.4" fill="#c6cfe9"/>
<use href="#x" x="1068.54" y="1454.28"/>
<rect x="1078.73" y="1448.58" width="7.7" height="11.4" fill="#c6cfe9"/>
<use href="#x" x="1082.58" y="1454.28"/>
<rect x="1092.77" y="1448.58" width="7.7" height="11.4" fill="#c6cfe9"/>
<use href="#x" x="1096.62" y="1454.28"/>
<rect x="1106.81" y="1448.58" width="7.7" height="11.4" fill="#c6cfe9"/>
<use href="#x" x="1110.66" y="1454.28"/>
<rect x="1191.05" y="1448.58" width="7.7" height="11.4" fill="#c6cfe9"/>
<use href="#x" x="1194.9" y="1454.28"/>
<rect x="755.81" y="1466.26" width="7.7" height="11.4" fill="#c6cfe9"/>
<use href="#x" x="759.66" y="1471.96"/>
<rect x="783.89" y="1466.26" width="7.7" height="11.4" fill="#c6cfe9"/>
<use href="#x" x="787.74" y="1471.96"/>
<rect x="811.97" y="1466.26" width="7.7" height="11.4" fill="#c6cfe9"/>
<use href="#x" x="815.82" y="1471.96"/>
<rect x="840.05" y="1466.26" width="7.7" height="11.4" fill="#c6cfe9"/>
<use href="#x" x="843.9" y="1471.96"/>
<rect x="854.09" y="1466.26" width="7.7" height="11.4" fill="#c6cfe9"/>
<use href="#x" x="857.94" y="1471.96"/>
<rect x="896.21" y="1466.26" width="7.7" height="11.4" fill="#c6cfe9"/>
<use href="#x" x="900.06" y="1471.96"/>
<rect x="910.25" y="1466.26" width="7.7" height="11.4" fill="#c6cfe9"/>
<use href="#x" x="914.1" y="1471.96"/>
<rect x="938.18" y="1466.26" width="8" height="11.4" fill="#fbd0c3"/>
<rect x="952.37" y="1466.26" width="7.7" height="11.4" fill="#c6cfe9"/>
<use href="#x" x="956.22" y="1471.96"/>
<rect x="1022.57" y="1466.26" width="7.7" height="11.4" fill="#c6cfe9"/>
<use href="#x" x="1026.42" y="1471.96"/>
<rect x="1050.65" y="1466.26" width="7.7" height="11.4" fill="#c6cfe9"/>
<use href="#x" x="1054.5" y="1471.96"/>
<rect x="1064.69" y="1466.26" width="7.7" height="11.4" fill="#c6cfe9"/>
<use href="#x" x="1068.54" y="1471.96"/>
<rect x="1078.73" y="1466.26" width="7.7" height="11.4" fill="#c6cfe9"/>
<use href="#x" x="1082.58" y="1471.96"/>
<rect x="1106.81" y="1466.26" width="7.7" height="11.4" fill="#c6cfe9"/>
<use href="#x" x="1110.66" y="1471.96"/>
<rect x="1120.85" y="1466.26" width="7.7" height="11.4" fill="#c6cfe9"/>
<use href="#x" x="1124.7" y="1471.96"/>
<rect x="1134.89" y="1466.26" width="7.7" height="11.4" fill="#c6cfe9"/>
<use href="#x" x="1138.74" y="1471.96"/>
<rect x="1205.09" y="1466.26" width="7.7" height="11.4" fill="#c6cfe9"/>
<use href="#x" x="1208.94" y="1471.96"/>
<rect x="741.77" y="1483.94" width="7.7" height="11.4" fill="#c6cfe9"/>
<use href="#x" x="745.62" y="1489.64"/>
<rect x="755.81" y="1483.94" width="7.7" height="11.4" fill="#c6cfe9"/>
<use href="#x" x="759.66" y="1489.64"/>
<rect x="769.85" y="1483.94" width="7.7" height="11.4" fill="#c6cfe9"/>
<use href="#x" x="773.7" y="1489.64"/>
<rect x="783.89" y="1483.94" width="7.7" height="11.4" fill="#c6cfe9"/>
<use href="#x" x="787.74" y="1489.64"/>
<rect x="797.78" y="1483.94" width="8" height="11.4" fill="#e74a30"/>
<rect x="811.97" y="1483.94" width="7.7" height="11.4" fill="#c6cfe9"/>
<use href="#x" x="815.82" y="1489.64"/>
<rect x="826.01" y="1483.94" width="7.7" height="11.4" fill="#c6cfe9"/>
<use href="#x" x="829.86" y="1489.64"/>
<rect x="854.09" y="1483.94" width="7.7" height="11.4" fill="#c6cfe9"/>
<use href="#x" x="857.94" y="1489.64"/>
<rect x="938.18" y="1483.94" width="8" height="11.4" fill="#fbd0c3"/>
<rect x="952.37" y="1483.94" width="7.7" height="11.4" fill="#c6cfe9"/>
<use href="#x" x="956.22" y="1489.64"/>
<rect x="980.45" y="1483.94" width="7.7" height="11.4" fill="#c6cfe9"/>
<use href="#x" x="984.3" y="1489.64"/>
<rect x="1022.57" y="1483.94" width="7.7" height="11.4" fill="#c6cfe9"/>
<use href="#x" x="1026.42" y="1489.64"/>
<rect x="1050.65" y="1483.94" width="7.7" height="11.4" fill="#c6cfe9"/>
<use href="#x" x="1054.5" y="1489.64"/>
<rect x="1064.69" y="1483.94" width="7.7" height="11.4" fill="#c6cfe9"/>
<use href="#x" x="1068.54" y="1489.64"/>
<rect x="1092.62" y="1483.94" width="8" height="11.4" fill="#19e5c3"/>
<rect x="1106.66" y="1483.94" width="8" height="11.4" fill="#fbd0c3"/>
<rect x="1120.85" y="1483.94" width="7.7" height="11.4" fill="#c6cfe9"/>
<use href="#x" x="1124.7" y="1489.64"/>
<rect x="755.81" y="1501.62" width="7.7" height="11.4" fill="#c6cfe9"/>
<use href="#x" x="759.66" y="1507.32"/>
<rect x="783.89" y="1501.62" width="7.7" height="11.4" fill="#c6cfe9"/>
<use href="#x" x="787.74" y="1507.32"/>
<rect x="811.97" y="1501.62" width="7.7" height="11.4" fill="#c6cfe9"/>
<use href="#x" x="815.82" y="1507.32"/>
<rect x="840.05" y="1501.62" width="7.7" height="11.4" fill="#c6cfe9"/>
<use href="#x" x="843.9" y="1507.32"/>
<rect x="854.09" y="1501.62" width="7.7" height="11.4" fill="#c6cfe9"/>
<use href="#x" x="857.94" y="1507.32"/>
<rect x="896.21" y="1501.62" width="7.7" height="11.4" fill="#c6cfe9"/>
<use href="#x" x="900.06" y="1507.32"/>
<rect x="910.25" y="1501.62" width="7.7" height="11.4" fill="#c6cfe9"/>
<use href="#x" x="914.1" y="1507.32"/>
<rect x="938.18" y="1501.62" width="8" height="11.4" fill="#fbd0c3"/>
<rect x="952.37" y="1501.62" width="7.7" height="11.4" fill="#c6cfe9"/>
<use href="#x" x="956.22" y="1507.32"/>
<rect x="1022.57" y="1501.62" width="7.7" height="11.4" fill="#c6cfe9"/>
<use href="#x" x="1026.42" y="1507.32"/>
<rect x="1050.65" y="1501.62" width="7.7" height="11.4" fill="#c6cfe9"/>
<use href="#x" x="1054.5" y="1507.32"/>
<rect x="1064.69" y="1501.62" width="7.7" height="11.4" fill="#c6cfe9"/>
<use href="#x" x="1068.54" y="1507.32"/>
<rect x="1078.73" y="1501.62" width="7.7" height="11.4" fill="#c6cfe9"/>
<use href="#x" x="1082.58" y="1507.32"/>
<rect x="1106.81" y="1501.62" width="7.7" height="11.4" fill="#c6cfe9"/>
<use href="#x" x="1110.66" y="1507.32"/>
<rect x="1120.85" y="1501.62" width="7.7" height="11.4" fill="#c6cfe9"/>
<use href="#x" x="1124.7" y="1507.32"/>
<rect x="1134.89" y="1501.62" width="7.7" height="11.4" fill="#c6cfe9"/>
<use href="#x" x="1138.74" y="1507.32"/>
<rect x="1205.09" y="1501.62" width="7.7" height="11.4" fill="#c6cfe9"/>
<use href="#x" x="1208.94" y="1507.32"/>
<rect x="755.81" y="1519.3" width="7.7" height="11.4" fill="#c6cfe9"/>
<use href="#x" x="759.66" y="1525"/>
<rect x="769.85" y="1519.3" width="7.7" height="11.4" fill="#c6cfe9"/>
<use href="#x" x="773.7" y="1525"/>
<rect x="783.89" y="1519.3" width="7.7" height="11.4" fill="#c6cfe9"/>
<use href="#x" x="787.74" y="1525"/>
<rect x="797.93" y="1519.3" width="7.7" height="11.4" fill="#c6cfe9"/>
<use href="#x" x="801.78" y="1525"/>
<rect x="826.01" y="1519.3" width="7.7" height="11.4" fill="#c6cfe9"/>
<use href="#x" x="829.86" y="1525"/>
<rect x="854.09" y="1519.3" width="7.7" height="11.4" fill="#c6cfe9"/>
<use href="#x" x="857.94" y="1525"/>
<rect x="896.21" y="1519.3" width="7.7" height="11.4" fill="#c6cfe9"/>
<use href="#x" x="900.06" y="1525"/>
<rect x="924.29" y="1519.3" width="7.7" height="11.4" fill="#c6cfe9"/>
<use href="#x" x="928.14" y="1525"/>
<rect x="938.33" y="1519.3" width="7.7" height="11.4" fill="#c6cfe9"/>
<use href="#x" x="942.18" y="1525"/>
<rect x="1036.61" y="1519.3" width="7.7" height="11.4" fill="#c6cfe9"/>
<use href="#x" x="1040.46" y="1525"/>
<rect x="1064.69" y="1519.3" width="7.7" height="11.4" fill="#c6cfe9"/>
<use href="#x" x="1068.54" y="1525"/>
<rect x="1120.85" y="1519.3" width="7.7" height="11.4" fill="#c6cfe9"/>
<use href="#x" x="1124.7" y="1525"/>
<rect x="1162.97" y="1519.3" width="7.7" height="11.4" fill="#c6cfe9"/>
<use href="#x" x="1166.82" y="1525"/>
<rect x="1191.05" y="1519.3" width="7.7" height="11.4" fill="#c6cfe9"/>
<use href="#x" x="1194.9" y="1525"/>
<rect x="741.77" y="1536.98" width="7.7" height="11.4" fill="#c6cfe9"/>
<use href="#x" x="745.62" y="1542.68"/>
<rect x="755.81" y="1536.98" width="7.7" height="11.4" fill="#c6cfe9"/>
<use href="#x" x="759.66" y="1542.68"/>
<rect x="769.7" y="1536.98" width="8" height="11.4" fill="#fbd0c3"/>
<rect x="783.89" y="1536.98" width="7.7" height="11.4" fill="#c6cfe9"/>
<use href="#x" x="787.74" y="1542.68"/>
<rect x="797.78" y="1536.98" width="8" height="11.4" fill="#fbd0c3"/>
<rect x="811.97" y="1536.98" width="7.7" height="11.4" fill="#c6cfe9"/>
<use href="#x" x="815.82" y="1542.68"/>
<rect x="826.01" y="1536.98" width="7.7" height="11.4" fill="#c6cfe9"/>
<use href="#x" x="829.86" y="1542.68"/>
<rect x="854.09" y="1536.98" width="7.7" height="11.4" fill="#c6cfe9"/>
<use href="#x" x="857.94" y="1542.68"/>
<rect x="938.18" y="1536.98" width="8" height="11.4" fill="#fbd0c3"/>
<rect x="952.37" y="1536.98" width="7.7" height="11.4" fill="#c6cfe9"/>
<use href="#x" x="956.22" y="1542.68"/>
<rect x="980.45" y="1536.98" width="7.7" height="11.4" fill="#c6cfe9"/>
<use href="#x" x="984.3" y="1542.68"/>
<rect x="994.34" y="1536.98" width="8" height="11.4" fill="#fbd0c3"/>
<rect x="1022.57" y="1536.98" width="7.7" height="11.4" fill="#c6cfe9"/>
<use href="#x" x="1026.42" y="1542.68"/>
<rect x="1050.65" y="1536.98" width="7.7" height="11.4" fill="#c6cfe9"/>
<use href="#x" x="1054.5" y="1542.68"/>
<rect x="1064.69" y="1536.98" width="7.7" height="11.4" fill="#c6cfe9"/>
<use href="#x" x="1068.54" y="1542.68"/>
<rect x="1092.77" y="1536.98" width="7.7" height="11.4" fill="#c6cfe9"/>
<use href="#x" x="1096.62" y="1542.68"/>
<rect x="1106.66" y="1536.98" width="8" height="11.4" fill="#fbd0c3"/>
<rect x="1120.85" y="1536.98" width="7.7" height="11.4" fill="#c6cfe9"/>
<use href="#x" x="1124.7" y="1542.68"/>
<rect x="741.77" y="1554.66" width="7.7" height="11.4" fill="#c6cfe9"/>
<use href="#x" x="745.62" y="1560.36"/>
<rect x="755.66" y="1554.66" width="8" height="11.4" fill="#fbd0c3"/>
<rect x="769.85" y="1554.66" width="7.7" height="11.4" fill="#c6cfe9"/>
<use href="#x" x="773.7" y="1560.36"/>
<rect x="797.78" y="1554.66" width="8" height="11.4" fill="#19e5c3"/>
<rect x="811.97" y="1554.66" width="7.7" height="11.4" fill="#c6cfe9"/>
<use href="#x" x="815.82" y="1560.36"/>
<rect x="853.94" y="1554.66" width="8" height="11.4" fill="#fbd0c3"/>
<rect x="882.17" y="1554.66" width="7.7" height="11.4" fill="#c6cfe9"/>
<use href="#x" x="886.02" y="1560.36"/>
<rect x="896.21" y="1554.66" width="7.7" height="11.4" fill="#c6cfe9"/>
<use href="#x" x="900.06" y="1560.36"/>
<rect x="910.25" y="1554.66" width="7.7" height="11.4" fill="#c6cfe9"/>
<use href="#x" x="914.1" y="1560.36"/>
<rect x="938.18" y="1554.66" width="8" height="11.4" fill="#fbd0c3"/>
<rect x="952.22" y="1554.66" width="8" height="11.4" fill="#fbd0c3"/>
<rect x="1022.57" y="1554.66" width="7.7" height="11.4" fill="#c6cfe9"/>
<use href="#x" x="1026.42" y="1560.36"/>
<rect x="1064.69" y="1554.66" width="7.7" height="11.4" fill="#c6cfe9"/>
<use href="#x" x="1068.54" y="1560.36"/>
<rect x="1078.58" y="1554.66" width="8" height="11.4" fill="#19e5c3"/>
<rect x="1106.81" y="1554.66" width="7.7" height="11.4" fill="#c6cfe9"/>
<use href="#x" x="1110.66" y="1560.36"/>
<rect x="1134.89" y="1554.66" width="7.7" height="11.4" fill="#c6cfe9"/>
<use href="#x" x="1138.74" y="1560.36"/>
<rect x="1191.05" y="1554.66" width="7.7" height="11.4" fill="#c6cfe9"/>
<use href="#x" x="1194.9" y="1560.36"/>
<rect x="741.77" y="1572.34" width="7.7" height="11.4" fill="#c6cfe9"/>
<use href="#x" x="745.62" y="1578.04"/>
<rect x="755.66" y="1572.34" width="8" height="11.4" fill="#fbd0c3"/>
<rect x="769.85" y="1572.34" width="7.7" height="11.4" fill="#c6cfe9"/>
<use href="#x" x="773.7" y="1578.04"/>
<rect x="797.78" y="1572.34" width="8" height="11.4" fill="#19e5c3"/>
<rect x="811.97" y="1572.34" width="7.7" height="11.4" fill="#c6cfe9"/>
<use href="#x" x="815.82" y="1578.04"/>
<rect x="853.94" y="1572.34" width="8" height="11.4" fill="#fbd0c3"/>
<rect x="882.17" y="1572.34" width="7.7" height="11.4" fill="#c6cfe9"/>
<use href="#x" x="886.02" y="1578.04"/>
<rect x="896.21" y="1572.34" width="7.7" height="11.4" fill="#c6cfe9"/>
<use href="#x" x="900.06" y="1578.04"/>
<rect x="910.1" y="1572.34" width="8" height="11.4" fill="#e74a30"/>
<rect x="938.18" y="1572.34" width="8" height="11.4" fill="#fbd0c3"/>
<rect x="952.37" y="1572.34" width="7.7" height="11.4" fill="#c6cfe9"/>
<use href="#x" x="956.22" y="1578.04"/>
<rect x="1022.57" y="1572.34" width="7.7" height="11.4" fill="#c6cfe9"/>
<use href="#x" x="1026.42" y="1578.04"/>
<rect x="1064.69" y="1572.34" width="7.7" height="11.4" fill="#c6cfe9"/>
<use href="#x" x="1068.54" y="1578.04"/>
<rect x="1078.73" y="1572.34" width="7.7" height="11.4" fill="#c6cfe9"/>
<use href="#x" x="1082.58" y="1578.04"/>
<rect x="1106.81" y="1572.34" width="7.7" height="11.4" fill="#c6cfe9"/>
<use href="#x" x="1110.66" y="1578.04"/>
<rect x="1134.89" y="1572.34" width="7.7" height="11.4" fill="#c6cfe9"/>
<use href="#x" x="1138.74" y="1578.04"/>
<rect x="1191.05" y="1572.34" width="7.7" height="11.4" fill="#c6cfe9"/>
<use href="#x" x="1194.9" y="1578.04"/>
<rect x="741.77" y="1590.02" width="7.7" height="11.4" fill="#c6cfe9"/>
<use href="#x" x="745.62" y="1595.72"/>
<rect x="755.81" y="1590.02" width="7.7" height="11.4" fill="#c6cfe9"/>
<use href="#x" x="759.66" y="1595.72"/>
<rect x="769.7" y="1590.02" width="8" height="11.4" fill="#fbd0c3"/>
<rect x="783.89" y="1590.02" width="7.7" height="11.4" fill="#c6cfe9"/>
<use href="#x" x="787.74" y="1595.72"/>
<rect x="797.78" y="1590.02" width="8" height="11.4" fill="#fbd0c3"/>
<rect x="811.97" y="1590.02" width="7.7" height="11.4" fill="#c6cfe9"/>
<use href="#x" x="815.82" y="1595.72"/>
<rect x="826.01" y="1590.02" width="7.7" height="11.4" fill="#c6cfe9"/>
<use href="#x" x="829.86" y="1595.72"/>
<rect x="854.09" y="1590.02" width="7.7" height="11.4" fill="#c6cfe9"/>
<use href="#x" x="857.94" y="1595.72"/>
<rect x="938.18" y="1590.02" width="8" height="11.4" fill="#fbd0c3"/>
<rect x="952.37" y="1590.02" width="7.7" height="11.4" fill="#c6cfe9"/>
<use href="#x" x="956.22" y="1595.72"/>
<rect x="1022.57" y="1590.02" width="7.7" height="11.4" fill="#c6cfe9"/>
<use href="#x" x="1026.42" y="1595.72"/>
<rect x="1050.65" y="1590.02" width="7.7" height="11.4" fill="#c6cfe9"/>
<use href="#x" x="1054.5" y="1595.72"/>
<rect x="1064.69" y="1590.02" width="7.7" height="11.4" fill="#c6cfe9"/>
<use href="#x" x="1068.54" y="1595.72"/>
<rect x="1078.58" y="1590.02" width="8" height="11.4" fill="#fbd0c3"/>
<rect x="1106.66" y="1590.02" width="8" height="11.4" fill="#fbd0c3"/>
<rect x="1120.85" y="1590.02" width="7.7" height="11.4" fill="#c6cfe9"/>
<use href="#x" x="1124.7" y="1595.72"/>
<rect x="741.77" y="1607.7" width="7.7" height="11.4" fill="#c6cfe9"/>
<use href="#x" x="745.62" y="1613.4"/>
<rect x="755.81" y="1607.7" width="7.7" height="11.4" fill="#c6cfe9"/>
<use href="#x" x="759.66" y="1613.4"/>
<rect x="769.7" y="1607.7" width="8" height="11.4" fill="#e74a30"/>
<rect x="783.89" y="1607.7" width="7.7" height="11.4" fill="#c6cfe9"/>
<use href="#x" x="787.74" y="1613.4"/>
<rect x="797.78" y="1607.7" width="8" height="11.4" fill="#fbd0c3"/>
<rect x="811.97" y="1607.7" width="7.7" height="11.4" fill="#c6cfe9"/>
<use href="#x" x="815.82" y="1613.4"/>
<rect x="826.01" y="1607.7" width="7.7" height="11.4" fill="#c6cfe9"/>
<use href="#x" x="829.86" y="1613.4"/>
<rect x="854.09" y="1607.7" width="7.7" height="11.4" fill="#c6cfe9"/>
<use href="#x" x="857.94" y="1613.4"/>
<rect x="938.18" y="1607.7" width="8" height="11.4" fill="#fbd0c3"/>
<rect x="952.37" y="1607.7" width="7.7" height="11.4" fill="#c6cfe9"/>
<use href="#x" x="956.22" y="1613.4"/>
<rect x="1022.57" y="1607.7" width="7.7" height="11.4" fill="#c6cfe9"/>
<use href="#x" x="1026.42" y="1613.4"/>
<rect x="1050.65" y="1607.7" width="7.7" height="11.4" fill="#c6cfe9"/>
<use href="#x" x="1054.5" y="1613.4"/>
<rect x="1064.69" y="1607.7" width="7.7" height="11.4" fill="#c6cfe9"/>
<use href="#x" x="1068.54" y="1613.4"/>
<rect x="1106.66" y="1607.7" width="8" height="11.4" fill="#fbd0c3"/>
<rect x="1120.85" y="1607.7" width="7.7" height="11.4" fill="#c6cfe9"/>
<use href="#x" x="1124.7" y="1613.4"/>
<rect x="741.77" y="1625.38" width="7.7" height="11.4" fill="#c6cfe9"/>
<use href="#x" x="745.62" y="1631.08"/>
<rect x="755.66" y="1625.38" width="8" height="11.4" fill="#fbd0c3"/>
<rect x="797.93" y="1625.38" width="7.7" height="11.4" fill="#c6cfe9"/>
<use href="#x" x="801.78" y="1631.08"/>
<rect x="811.97" y="1625.38" width="7.7" height="11.4" fill="#c6cfe9"/>
<use href="#x" x="815.82" y="1631.08"/>
<rect x="853.94" y="1625.38" width="8" height="11.4" fill="#fbd0c3"/>
<rect x="882.17" y="1625.38" width="7.7" height="11.4" fill="#c6cfe9"/>
<use href="#x" x="886.02" y="1631.08"/>
<rect x="896.21" y="1625.38" width="7.7" height="11.4" fill="#c6cfe9"/>
<use href="#x" x="900.06" y="1631.08"/>
<rect x="910.25" y="1625.38" width="7.7" height="11.4" fill="#c6cfe9"/>
<use href="#x" x="914.1" y="1631.08"/>
<rect x="938.18" y="1625.38" width="8" height="11.4" fill="#fbd0c3"/>
<rect x="952.37" y="1625.38" width="7.7" height="11.4" fill="#c6cfe9"/>
<use href="#x" x="956.22" y="1631.08"/>
<rect x="1022.57" y="1625.38" width="7.7" height="11.4" fill="#c6cfe9"/>
<use href="#x" x="1026.42" y="1631.08"/>
<rect x="1064.69" y="1625.38" width="7.7" height="11.4" fill="#c6cfe9"/>
<use href="#x" x="1068.54" y="1631.08"/>
<rect x="1078.73" y="1625.38" width="7.7" height="11.4" fill="#c6cfe9"/>
<use href="#x" x="1082.58" y="1631.08"/>
<rect x="1106.81" y="1625.38" width="7.7" height="11.4" fill="#c6cfe9"/>
<use href="#x" x="1110.66" y="1631.08"/>
<rect x="1134.89" y="1625.38" width="7.7" height="11.4" fill="#c6cfe9"/>
<use href="#x" x="1138.74" y="1631.08"/>
<rect x="755.81" y="1643.06" width="7.7" height="11.4" fill="#c6cfe9"/>
<use href="#x" x="759.66" y="1648.76"/>
<rect x="783.89" y="1643.06" width="7.7" height="11.4" fill="#c6cfe9"/>
<use href="#x" x="787.74" y="1648.76"/>
<rect x="797.93" y="1643.06" width="7.7" height="11.4" fill="#c6cfe9"/>
<use href="#x" x="801.78" y="1648.76"/>
<rect x="826.01" y="1643.06" width="7.7" height="11.4" fill="#c6cfe9"/>
<use href="#x" x="829.86" y="1648.76"/>
<rect x="854.09" y="1643.06" width="7.7" height="11.4" fill="#c6cfe9"/>
<use href="#x" x="857.94" y="1648.76"/>
<rect x="896.21" y="1643.06" width="7.7" height="11.4" fill="#c6cfe9"/>
<use href="#x" x="900.06" y="1648.76"/>
<rect x="924.29" y="1643.06" width="7.7" height="11.4" fill="#c6cfe9"/>
<use href="#x" x="928.14" y="1648.76"/>
<rect x="938.33" y="1643.06" width="7.7" height="11.4" fill="#c6cfe9"/>
<use href="#x" x="942.18" y="1648.76"/>
<rect x="1064.69" y="1643.06" width="7.7" height="11.4" fill="#c6cfe9"/>
<use href="#x" x="1068.54" y="1648.76"/>
<rect x="1120.85" y="1643.06" width="7.7" height="11.4" fill="#c6cfe9"/>
<use href="#x" x="1124.7" y="1648.76"/>
<rect x="1162.97" y="1643.06" width="7.7" height="11.4" fill="#c6cfe9"/>
<use href="#x" x="1166.82" y="1648.76"/>
<rect x="741.77" y="1660.74" width="7.7" height="11.4" fill="#c6cfe9"/>
<use href="#x" x="745.62" y="1666.44"/>
<rect x="755.66" y="1660.74" width="8" height="11.4" fill="#fbd0c3"/>
<rect x="797.93" y="1660.74" width="7.7" height="11.4" fill="#c6cfe9"/>
<use href="#x" x="801.78" y="1666.44"/>
<rect x="811.97" y="1660.74" width="7.7" height="11.4" fill="#c6cfe9"/>
<use href="#x" x="815.82" y="1666.44"/>
<rect x="853.94" y="1660.74" width="8" height="11.4" fill="#fbd0c3"/>
<rect x="882.17" y="1660.74" width="7.7" height="11.4" fill="#c6cfe9"/>
<use href="#x" x="886.02" y="1666.44"/>
<rect x="896.21" y="1660.74" width="7.7" height="11.4" fill="#c6cfe9"/>
<use href="#x" x="900.06" y="1666.44"/>
<rect x="910.25" y="1660.74" width="7.7" height="11.4" fill="#c6cfe9"/>
<use href="#x" x="914.1" y="1666.44"/>
<rect x="938.18" y="1660.74" width="8" height="11.4" fill="#fbd0c3"/>
<rect x="952.37" y="1660.74" width="7.7" height="11.4" fill="#c6cfe9"/>
<use href="#x" x="956.22" y="1666.44"/>
<rect x="1022.57" y="1660.74" width="7.7" height="11.4" fill="#c6cfe9"/>
<use href="#x" x="1026.42" y="1666.44"/>
<rect x="1064.69" y="1660.74" width="7.7" height="11.4" fill="#c6cfe9"/>
<use href="#x" x="1068.54" y="1666.44"/>
<rect x="1078.73" y="1660.74" width="7.7" height="11.4" fill="#c6cfe9"/>
<use href="#x" x="1082.58" y="1666.44"/>
<rect x="1106.81" y="1660.74" width="7.7" height="11.4" fill="#c6cfe9"/>
<use href="#x" x="1110.66" y="1666.44"/>
<rect x="1134.89" y="1660.74" width="7.7" height="11.4" fill="#c6cfe9"/>
<use href="#x" x="1138.74" y="1666.44"/>
<rect x="741.62" y="1678.42" width="8" height="11.4" fill="#e74a30"/>
<rect x="755.66" y="1678.42" width="8" height="11.4" fill="#fbd0c3"/>
<rect x="769.85" y="1678.42" width="7.7" height="11.4" fill="#c6cfe9"/>
<use href="#x" x="773.7" y="1684.12"/>
<rect x="783.74" y="1678.42" width="8" height="11.4" fill="#e74a30"/>
<rect x="811.97" y="1678.42" width="7.7" height="11.4" fill="#c6cfe9"/>
<use href="#x" x="815.82" y="1684.12"/>
<rect x="853.94" y="1678.42" width="8" height="11.4" fill="#e74a30"/>
<rect x="910.1" y="1678.42" width="8" height="11.4" fill="#e74a30"/>
<rect x="924.14" y="1678.42" width="8" height="11.4" fill="#e74a30"/>
<rect x="938.33" y="1678.42" width="7.7" height="11.4" fill="#c6cfe9"/>
<use href="#x" x="942.18" y="1684.12"/>
<rect x="1064.54" y="1678.42" width="8" height="11.4" fill="#e74a30"/>
<rect x="1078.73" y="1678.42" width="7.7" height="11.4" fill="#c6cfe9"/>
<use href="#x" x="1082.58" y="1684.12"/>
<rect x="1092.62" y="1678.42" width="8" height="11.4" fill="#fbd0c3"/>
<rect x="1106.66" y="1678.42" width="8" height="11.4" fill="#fbd0c3"/>
<rect x="1134.74" y="1678.42" width="8" height="11.4" fill="#fbd0c3"/>
<rect x="1190.9" y="1678.42" width="8" height="11.4" fill="#fbd0c3"/>
<rect x="741.62" y="1696.1" width="8" height="11.4" fill="#e74a30"/>
<rect x="755.66" y="1696.1" width="8" height="11.4" fill="#fbd0c3"/>
<rect x="769.85" y="1696.1" width="7.7" height="11.4" fill="#c6cfe9"/>
<use href="#x" x="773.7" y="1701.8"/>
<rect x="783.74" y="1696.1" width="8" height="11.4" fill="#e74a30"/>
<rect x="811.97" y="1696.1" width="7.7" height="11.4" fill="#c6cfe9"/>
<use href="#x" x="815.82" y="1701.8"/>
<rect x="853.94" y="1696.1" width="8" height="11.4" fill="#e74a30"/>
<rect x="910.1" y="1696.1" width="8" height="11.4" fill="#e74a30"/>
<rect x="924.14" y="1696.1" width="8" height="11.4" fill="#e74a30"/>
<rect x="938.33" y="1696.1" width="7.7" height="11.4" fill="#c6cfe9"/>
<use href="#x" x="942.18" y="1701.8"/>
<rect x="1064.54" y="1696.1" width="8" height="11.4" fill="#e74a30"/>
<rect x="1078.73" y="1696.1" width="7.7" height="11.4" fill="#c6cfe9"/>
<use href="#x" x="1082.58" y="1701.8"/>
<rect x="1092.62" y="1696.1" width="8" height="11.4" fill="#fbd0c3"/>
<rect x="1106.66" y="1696.1" width="8" height="11.4" fill="#fbd0c3"/>
<rect x="1134.74" y="1696.1" width="8" height="11.4" fill="#fbd0c3"/>
<rect x="1190.9" y="1696.1" width="8" height="11.4" fill="#fbd0c3"/>
<rect x="755.81" y="1713.78" width="7.7" height="11.4" fill="#c6cfe9"/>
<use href="#x" x="759.66" y="1719.48"/>
<rect x="797.93" y="1713.78" width="7.7" height="11.4" fill="#c6cfe9"/>
<use href="#x" x="801.78" y="1719.48"/>
<rect x="826.01" y="1713.78" width="7.7" height="11.4" fill="#c6cfe9"/>
<use href="#x" x="829.86" y="1719.48"/>
<rect x="854.09" y="1713.78" width="7.7" height="11.4" fill="#c6cfe9"/>
<use href="#x" x="857.94" y="1719.48"/>
<rect x="896.21" y="1713.78" width="7.7" height="11.4" fill="#c6cfe9"/>
<use href="#x" x="900.06" y="1719.48"/>
<rect x="924.29" y="1713.78" width="7.7" height="11.4" fill="#c6cfe9"/>
<use href="#x" x="928.14" y="1719.48"/>
<rect x="938.33" y="1713.78" width="7.7" height="11.4" fill="#c6cfe9"/>
<use href="#x" x="942.18" y="1719.48"/>
<rect x="1064.69" y="1713.78" width="7.7" height="11.4" fill="#c6cfe9"/>
<use href="#x" x="1068.54" y="1719.48"/>
<rect x="1120.85" y="1713.78" width="7.7" height="11.4" fill="#c6cfe9"/>
<use href="#x" x="1124.7" y="1719.48"/>
<rect x="1162.97" y="1713.78" width="7.7" height="11.4" fill="#c6cfe9"/>
<use href="#x" x="1166.82" y="1719.48"/>
<rect x="1190.9" y="1713.78" width="8" height="11.4" fill="#19e5c3"/>
<rect x="755.66" y="1731.46" width="8" height="11.4" fill="#fbd0c3"/>
<rect x="769.85" y="1731.46" width="7.7" height="11.4" fill="#c6cfe9"/>
<use href="#x" x="773.7" y="1737.16"/>
<rect x="797.93" y="1731.46" width="7.7" height="11.4" fill="#c6cfe9"/>
<use href="#x" x="801.78" y="1737.16"/>
<rect x="811.97" y="1731.46" width="7.7" height="11.4" fill="#c6cfe9"/>
<use href="#x" x="815.82" y="1737.16"/>
<rect x="853.94" y="1731.46" width="8" height="11.4" fill="#fbd0c3"/>
<rect x="882.02" y="1731.46" width="8" height="11.4" fill="#fbd0c3"/>
<rect x="896.06" y="1731.46" width="8" height="11.4" fill="#fbd0c3"/>
<use href="#x" x="900.06" y="1737.16"/>
<rect x="910.25" y="1731.46" width="7.7" height="11.4" fill="#c6cfe9"/>
<use href="#x" x="914.1" y="1737.16"/>
<rect x="938.18" y="1731.46" width="8" height="11.4" fill="#fbd0c3"/>
<rect x="952.22" y="1731.46" width="8" height="11.4" fill="#fbd0c3"/>
<rect x="994.34" y="1731.46" width="8" height="11.4" fill="#fbd0c3"/>
<rect x="1022.57" y="1731.46" width="7.7" height="11.4" fill="#c6cfe9"/>
<use href="#x" x="1026.42" y="1737.16"/>
<rect x="1106.66" y="1731.46" width="8" height="11.4" fill="#e74a30"/>
<rect x="1134.89" y="1731.46" width="7.7" height="11.4" fill="#c6cfe9"/>
<use href="#x" x="1138.74" y="1737.16"/>
<rect x="1191.05" y="1731.46" width="7.7" height="11.4" fill="#c6cfe9"/>
<use href="#x" x="1194.9" y="1737.16"/>
<rect x="755.66" y="1749.14" width="8" height="11.4" fill="#fbd0c3"/>
<rect x="769.85" y="1749.14" width="7.7" height="11.4" fill="#c6cfe9"/>
<use href="#x" x="773.7" y="1754.84"/>
<rect x="797.93" y="1749.14" width="7.7" height="11.4" fill="#c6cfe9"/>
<use href="#x" x="801.78" y="1754.84"/>
<rect x="811.97" y="1749.14" width="7.7" height="11.4" fill="#c6cfe9"/>
<use href="#x" x="815.82" y="1754.84"/>
<rect x="853.94" y="1749.14" width="8" height="11.4" fill="#fbd0c3"/>
<rect x="882.02" y="1749.14" width="8" height="11.4" fill="#fbd0c3"/>
<rect x="896.06" y="1749.14" width="8" height="11.4" fill="#fbd0c3"/>
<use href="#x" x="900.06" y="1754.84"/>
<rect x="910.25" y="1749.14" width="7.7" height="11.4" fill="#c6cfe9"/>
<use href="#x" x="914.1" y="1754.84"/>
<rect x="938.18" y="1749.14" width="8" height="11.4" fill="#fbd0c3"/>
<rect x="952.22" y="1749.14" width="8" height="11.4" fill="#fbd0c3"/>
<rect x="1022.57" y="1749.14" width="7.7" height="11.4" fill="#c6cfe9"/>
<use href="#x" x="1026.42" y="1754.84"/>
<rect x="1106.66" y="1749.14" width="8" height="11.4" fill="#e74a30"/>
<rect x="1134.89" y="1749.14" width="7.7" height="11.4" fill="#c6cfe9"/>
<use href="#x" x="1138.74" y="1754.84"/>
<rect x="1191.05" y="1749.14" width="7.7" height="11.4" fill="#c6cfe9"/>
<use href="#x" x="1194.9" y="1754.84"/>
<rect x="755.66" y="1766.82" width="8" height="11.4" fill="#19e5c3"/>
<rect x="783.89" y="1766.82" width="7.7" height="11.4" fill="#c6cfe9"/>
<use href="#x" x="787.74" y="1772.52"/>
<rect x="811.97" y="1766.82" width="7.7" height="11.4" fill="#c6cfe9"/>
<use href="#x" x="815.82" y="1772.52"/>
<rect x="854.09" y="1766.82" width="7.7" height="11.4" fill="#c6cfe9"/>
<use href="#x" x="857.94" y="1772.52"/>
<rect x="924.29" y="1766.82" width="7.7" height="11.4" fill="#c6cfe9"/>
<use href="#x" x="928.14" y="1772.52"/>
<rect x="938.18" y="1766.82" width="8" height="11.4" fill="#fbd0c3"/>
<rect x="952.37" y="1766.82" width="7.7" height="11.4" fill="#c6cfe9"/>
<use href="#x" x="956.22" y="1772.52"/>
<rect x="1092.77" y="1766.82" width="7.7" height="11.4" fill="#c6cfe9"/>
<use href="#x" x="1096.62" y="1772.52"/>
<rect x="1106.81" y="1766.82" width="7.7" height="11.4" fill="#c6cfe9"/>
<use href="#x" x="1110.66" y="1772.52"/>
<rect x="1120.85" y="1766.82" width="7.7" height="11.4" fill="#c6cfe9"/>
<use href="#x" x="1124.7" y="1772.52"/>
<rect x="1162.97" y="1766.82" width="7.7" height="11.4" fill="#c6cfe9"/>
<use href="#x" x="1166.82" y="1772.52"/>
<rect x="741.62" y="1784.5" width="8" height="11.4" fill="#e74a30"/>
<rect x="755.66" y="1784.5" width="8" height="11.4" fill="#fbd0c3"/>
<rect x="769.7" y="1784.5" width="8" height="11.4" fill="#e74a30"/>
<rect x="797.78" y="1784.5" width="8" height="11.4" fill="#fbd0c3"/>
<rect x="811.82" y="1784.5" width="8" height="11.4" fill="#fbd0c3"/>
<rect x="853.94" y="1784.5" width="8" height="11.4" fill="#e74a30"/>
<rect x="910.1" y="1784.5" width="8" height="11.4" fill="#fbd0c3"/>
<rect x="924.14" y="1784.5" width="8" height="11.4" fill="#e74a30"/>
<rect x="938.33" y="1784.5" width="7.7" height="11.4" fill="#c6cfe9"/>
<use href="#x" x="942.18" y="1790.2"/>
<rect x="1064.54" y="1784.5" width="8" height="11.4" fill="#fbd0c3"/>
<rect x="1078.73" y="1784.5" width="7.7" height="11.4" fill="#c6cfe9"/>
<use href="#x" x="1082.58" y="1790.2"/>
<rect x="1092.62" y="1784.5" width="8" height="11.4" fill="#fbd0c3"/>
<rect x="1106.66" y="1784.5" width="8" height="11.4" fill="#e74a30"/>
<rect x="1134.74" y="1784.5" width="8" height="11.4" fill="#fbd0c3"/>
<rect x="1190.9" y="1784.5" width="8" height="11.4" fill="#fbd0c3"/>
<rect x="755.66" y="1802.18" width="8" height="11.4" fill="#fbd0c3"/>
<rect x="769.85" y="1802.18" width="7.7" height="11.4" fill="#c6cfe9"/>
<use href="#x" x="773.7" y="1807.88"/>
<rect x="797.93" y="1802.18" width="7.7" height="11.4" fill="#c6cfe9"/>
<use href="#x" x="801.78" y="1807.88"/>
<rect x="811.97" y="1802.18" width="7.7" height="11.4" fill="#c6cfe9"/>
<use href="#x" x="815.82" y="1807.88"/>
<rect x="853.94" y="1802.18" width="8" height="11.4" fill="#fbd0c3"/>
<rect x="882.02" y="1802.18" width="8" height="11.4" fill="#fbd0c3"/>
<rect x="896.06" y="1802.18" width="8" height="11.4" fill="#fbd0c3"/>
<use href="#x" x="900.06" y="1807.88"/>
<rect x="910.25" y="1802.18" width="7.7" height="11.4" fill="#c6cfe9"/>
<use href="#x" x="914.1" y="1807.88"/>
<rect x="938.18" y="1802.18" width="8" height="11.4" fill="#fbd0c3"/>
<rect x="952.22" y="1802.18" width="8" height="11.4" fill="#fbd0c3"/>
<rect x="1022.57" y="1802.18" width="7.7" height="11.4" fill="#c6cfe9"/>
<use href="#x" x="1026.42" y="1807.88"/>
<rect x="1106.66" y="1802.18" width="8" height="11.4" fill="#e74a30"/>
<rect x="1191.05" y="1802.18" width="7.7" height="11.4" fill="#c6cfe9"/>
<use href="#x" x="1194.9" y="1807.88"/>
<rect x="741.62" y="1819.86" width="8" height="11.4" fill="#e74a30"/>
<rect x="755.81" y="1819.86" width="7.7" height="11.4" fill="#c6cfe9"/>
<use href="#x" x="759.66" y="1825.56"/>
<rect x="797.78" y="1819.86" width="8" height="11.4" fill="#e74a30"/>
<rect x="811.82" y="1819.86" width="8" height="11.4" fill="#fbd0c3"/>
<rect x="839.9" y="1819.86" width="8" height="11.4" fill="#e74a30"/>
<rect x="853.94" y="1819.86" width="8" height="11.4" fill="#e74a30"/>
<rect x="896.06" y="1819.86" width="8" height="11.4" fill="#e74a30"/>
<rect x="910.1" y="1819.86" width="8" height="11.4" fill="#fbd0c3"/>
<rect x="924.14" y="1819.86" width="8" height="11.4" fill="#e74a30"/>
<rect x="938.18" y="1819.86" width="8" height="11.4" fill="#19e5c3"/>
<rect x="966.26" y="1819.86" width="8" height="11.4" fill="#fbd0c3"/>
<rect x="994.34" y="1819.86" width="8" height="11.4" fill="#e74a30"/>
<rect x="1036.46" y="1819.86" width="8" height="11.4" fill="#e74a30"/>
<rect x="1078.58" y="1819.86" width="8" height="11.4" fill="#e74a30"/>
<rect x="1092.62" y="1819.86" width="8" height="11.4" fill="#e74a30"/>
<rect x="1106.66" y="1819.86" width="8" height="11.4" fill="#e74a30"/>
<rect x="1190.9" y="1819.86" width="8" height="11.4" fill="#fbd0c3"/>
<rect x="755.81" y="1837.54" width="7.7" height="11.4" fill="#c6cfe9"/>
<use href="#x" x="759.66" y="1843.24"/>
<rect x="783.89" y="1837.54" width="7.7" height="11.4" fill="#c6cfe9"/>
<use href="#x" x="787.74" y="1843.24"/>
<rect x="811.97" y="1837.54" width="7.7" height="11.4" fill="#c6cfe9"/>
<use href="#x" x="815.82" y="1843.24"/>
<rect x="854.09" y="1837.54" width="7.7" height="11.4" fill="#c6cfe9"/>
<use href="#x" x="857.94" y="1843.24"/>
<rect x="924.29" y="1837.54" width="7.7" height="11.4" fill="#c6cfe9"/>
<use href="#x" x="928.14" y="1843.24"/>
<rect x="938.18" y="1837.54" width="8" height="11.4" fill="#fbd0c3"/>
<rect x="952.37" y="1837.54" width="7.7" height="11.4" fill="#c6cfe9"/>
<use href="#x" x="956.22" y="1843.24"/>
<rect x="1106.81" y="1837.54" width="7.7" height="11.4" fill="#c6cfe9"/>
<use href="#x" x="1110.66" y="1843.24"/>
<rect x="1120.85" y="1837.54" width="7.7" height="11.4" fill="#c6cfe9"/>
<use href="#x" x="1124.7" y="1843.24"/>
<rect x="1162.97" y="1837.54" width="7.7" height="11.4" fill="#c6cfe9"/>
<use href="#x" x="1166.82" y="1843.24"/>
<rect x="755.66" y="1855.22" width="8" height="11.4" fill="#fbd0c3"/>
<rect x="769.7" y="1855.22" width="8" height="11.4" fill="#e74a30"/>
<rect x="811.97" y="1855.22" width="7.7" height="11.4" fill="#c6cfe9"/>
<use href="#x" x="815.82" y="1860.92"/>
<rect x="853.94" y="1855.22" width="8" height="11.4" fill="#fbd0c3"/>
<rect x="882.02" y="1855.22" width="8" height="11.4" fill="#fbd0c3"/>
<rect x="896.06" y="1855.22" width="8" height="11.4" fill="#fbd0c3"/>
<use href="#x" x="900.06" y="1860.92"/>
<rect x="910.25" y="1855.22" width="7.7" height="11.4" fill="#c6cfe9"/>
<use href="#x" x="914.1" y="1860.92"/>
<rect x="938.18" y="1855.22" width="8" height="11.4" fill="#fbd0c3"/>
<rect x="952.22" y="1855.22" width="8" height="11.4" fill="#fbd0c3"/>
<rect x="1078.58" y="1855.22" width="8" height="11.4" fill="#fbd0c3"/>
<rect x="1106.66" y="1855.22" width="8" height="11.4" fill="#e74a30"/>
<rect x="1190.9" y="1855.22" width="8" height="11.4" fill="#e74a30"/>
<rect x="741.77" y="1872.9" width="7.7" height="11.4" fill="#c6cfe9"/>
<use href="#x" x="745.62" y="1878.6"/>
<rect x="755.66" y="1872.9" width="8" height="11.4" fill="#fbd0c3"/>
<rect x="783.89" y="1872.9" width="7.7" height="11.4" fill="#c6cfe9"/>
<use href="#x" x="787.74" y="1878.6"/>
<rect x="797.93" y="1872.9" width="7.7" height="11.4" fill="#c6cfe9"/>
<use href="#x" x="801.78" y="1878.6"/>
<rect x="839.9" y="1872.9" width="8" height="11.4" fill="#e74a30"/>
<rect x="853.94" y="1872.9" width="8" height="11.4" fill="#fbd0c3"/>
<rect x="882.02" y="1872.9" width="8" height="11.4" fill="#fbd0c3"/>
<rect x="910.25" y="1872.9" width="7.7" height="11.4" fill="#c6cfe9"/>
<use href="#x" x="914.1" y="1878.6"/>
<rect x="924.14" y="1872.9" width="8" height="11.4" fill="#fbd0c3"/>
<rect x="938.18" y="1872.9" width="8" height="11.4" fill="#e74a30"/>
<rect x="952.22" y="1872.9" width="8" height="11.4" fill="#fbd0c3"/>
<rect x="1022.42" y="1872.9" width="8" height="11.4" fill="#fbd0c3"/>
<rect x="1092.62" y="1872.9" width="8" height="11.4" fill="#fbd0c3"/>
<rect x="1204.94" y="1872.9" width="8" height="11.4" fill="#fbd0c3"/>
<rect x="755.81" y="1890.58" width="7.7" height="11.4" fill="#c6cfe9"/>
<use href="#x" x="759.66" y="1896.28"/>
<rect x="769.85" y="1890.58" width="7.7" height="11.4" fill="#c6cfe9"/>
<use href="#x" x="773.7" y="1896.28"/>
<rect x="826.01" y="1890.58" width="7.7" height="11.4" fill="#c6cfe9"/>
<use href="#x" x="829.86" y="1896.28"/>
<rect x="938.33" y="1890.58" width="7.7" height="11.4" fill="#c6cfe9"/>
<use href="#x" x="942.18" y="1896.28"/>
<rect x="980.45" y="1890.58" width="7.7" height="11.4" fill="#c6cfe9"/>
<use href="#x" x="984.3" y="1896.28"/>
<rect x="1008.53" y="1890.58" width="7.7" height="11.4" fill="#c6cfe9"/>
<use href="#x" x="1012.38" y="1896.28"/>
<rect x="1050.5" y="1890.58" width="8" height="11.4" fill="#fbd0c3"/>
<rect x="1078.58" y="1890.58" width="8" height="11.4" fill="#fbd0c3"/>
<rect x="755.66" y="1908.26" width="8" height="11.4" fill="#fbd0c3"/>
<rect x="769.7" y="1908.26" width="8" height="11.4" fill="#e74a30"/>
<rect x="783.74" y="1908.26" width="8" height="11.4" fill="#fbd0c3"/>
<rect x="797.78" y="1908.26" width="8" height="11.4" fill="#e74a30"/>
<rect x="853.94" y="1908.26" width="8" height="11.4" fill="#e74a30"/>
<rect x="882.02" y="1908.26" width="8" height="11.4" fill="#fbd0c3"/>
<rect x="910.25" y="1908.26" width="7.7" height="11.4" fill="#c6cfe9"/>
<use href="#x" x="914.1" y="1913.96"/>
<rect x="924.14" y="1908.26" width="8" height="11.4" fill="#fbd0c3"/>
<rect x="938.18" y="1908.26" width="8" height="11.4" fill="#e74a30"/>
<use href="#x" x="942.18" y="1913.96"/>
<rect x="952.22" y="1908.26" width="8" height="11.4" fill="#e74a30"/>
<rect x="1022.42" y="1908.26" width="8" height="11.4" fill="#fbd0c3"/>
<rect x="1050.5" y="1908.26" width="8" height="11.4" fill="#e74a30"/>
<rect x="1092.62" y="1908.26" width="8" height="11.4" fill="#fbd0c3"/>
<rect x="1106.66" y="1908.26" width="8" height="11.4" fill="#fbd0c3"/>
<rect x="755.66" y="1925.94" width="8" height="11.4" fill="#fbd0c3"/>
<rect x="769.85" y="1925.94" width="7.7" height="11.4" fill="#c6cfe9"/>
<use href="#x" x="773.7" y="1931.64"/>
<rect x="811.97" y="1925.94" width="7.7" height="11.4" fill="#c6cfe9"/>
<use href="#x" x="815.82" y="1931.64"/>
<rect x="853.94" y="1925.94" width="8" height="11.4" fill="#fbd0c3"/>
<rect x="882.02" y="1925.94" width="8" height="11.4" fill="#fbd0c3"/>
<rect x="896.21" y="1925.94" width="7.7" height="11.4" fill="#c6cfe9"/>
<use href="#x" x="900.06" y="1931.64"/>
<rect x="910.25" y="1925.94" width="7.7" height="11.4" fill="#c6cfe9"/>
<use href="#x" x="914.1" y="1931.64"/>
<rect x="938.18" y="1925.94" width="8" height="11.4" fill="#fbd0c3"/>
<rect x="952.22" y="1925.94" width="8" height="11.4" fill="#fbd0c3"/>
<rect x="1106.66" y="1925.94" width="8" height="11.4" fill="#e74a30"/>
<rect x="1191.05" y="1925.94" width="7.7" height="11.4" fill="#c6cfe9"/>
<use href="#x" x="1194.9" y="1931.64"/>
<rect x="755.66" y="1943.62" width="8" height="11.4" fill="#fbd0c3"/>
<rect x="783.89" y="1943.62" width="7.7" height="11.4" fill="#c6cfe9"/>
<use href="#x" x="787.74" y="1949.32"/>
<rect x="797.93" y="1943.62" width="7.7" height="11.4" fill="#c6cfe9"/>
<use href="#x" x="801.78" y="1949.32"/>
<rect x="839.9" y="1943.62" width="8" height="11.4" fill="#e74a30"/>
<rect x="853.94" y="1943.62" width="8" height="11.4" fill="#fbd0c3"/>
<rect x="882.02" y="1943.62" width="8" height="11.4" fill="#fbd0c3"/>
<rect x="910.25" y="1943.62" width="7.7" height="11.4" fill="#c6cfe9"/>
<use href="#x" x="914.1" y="1949.32"/>
<rect x="924.14" y="1943.62" width="8" height="11.4" fill="#fbd0c3"/>
<rect x="938.18" y="1943.62" width="8" height="11.4" fill="#e74a30"/>
<rect x="952.22" y="1943.62" width="8" height="11.4" fill="#fbd0c3"/>
<rect x="1022.42" y="1943.62" width="8" height="11.4" fill="#fbd0c3"/>
<rect x="1092.62" y="1943.62" width="8" height="11.4" fill="#fbd0c3"/>
<rect x="1204.94" y="1943.62" width="8" height="11.4" fill="#fbd0c3"/>
<rect x="755.81" y="1961.3" width="7.7" height="11.4" fill="#c6cfe9"/>
<use href="#x" x="759.66" y="1967"/>
<rect x="769.85" y="1961.3" width="7.7" height="11.4" fill="#c6cfe9"/>
<use href="#x" x="773.7" y="1967"/>
<rect x="826.01" y="1961.3" width="7.7" height="11.4" fill="#c6cfe9"/>
<use href="#x" x="829.86" y="1967"/>
<rect x="938.18" y="1961.3" width="8" height="11.4" fill="#19e5c3"/>
<rect x="980.45" y="1961.3" width="7.7" height="11.4" fill="#c6cfe9"/>
<use href="#x" x="984.3" y="1967"/>
<rect x="1008.53" y="1961.3" width="7.7" height="11.4" fill="#c6cfe9"/>
<use href="#x" x="1012.38" y="1967"/>
<rect x="1078.58" y="1961.3" width="8" height="11.4" fill="#fbd0c3"/>
<rect x="755.81" y="1978.98" width="7.7" height="11.4" fill="#c6cfe9"/>
<use href="#x" x="759.66" y="1984.68"/>
<rect x="783.89" y="1978.98" width="7.7" height="11.4" fill="#c6cfe9"/>
<use href="#x" x="787.74" y="1984.68"/>
<rect x="811.97" y="1978.98" width="7.7" height="11.4" fill="#c6cfe9"/>
<use href="#x" x="815.82" y="1984.68"/>
<rect x="882.02" y="1978.98" width="8" height="11.4" fill="#fbd0c3"/>
<rect x="910.25" y="1978.98" width="7.7" height="11.4" fill="#c6cfe9"/>
<use href="#x" x="914.1" y="1984.68"/>
<rect x="938.18" y="1978.98" width="8" height="11.4" fill="#fbd0c3"/>
<rect x="952.37" y="1978.98" width="7.7" height="11.4" fill="#c6cfe9"/>
<use href="#x" x="956.22" y="1984.68"/>
<rect x="1205.09" y="1978.98" width="7.7" height="11.4" fill="#c6cfe9"/>
<use href="#x" x="1208.94" y="1984.68"/>
<rect x="755.66" y="1996.66" width="8" height="11.4" fill="#fbd0c3"/>
<rect x="811.82" y="1996.66" width="8" height="11.4" fill="#fbd0c3"/>
<rect x="938.33" y="1996.66" width="7.7" height="11.4" fill="#c6cfe9"/>
<use href="#x" x="942.18" y="2002.36"/>
<rect x="994.49" y="1996.66" width="7.7" height="11.4" fill="#c6cfe9"/>
<use href="#x" x="998.34" y="2002.36"/>
<rect x="1120.85" y="1996.66" width="7.7" height="11.4" fill="#c6cfe9"/>
<use href="#x" x="1124.7" y="2002.36"/>
<rect x="1191.05" y="1996.66" width="7.7" height="11.4" fill="#c6cfe9"/>
<use href="#x" x="1194.9" y="2002.36"/>
<rect x="741.77" y="2014.34" width="7.7" height="11.4" fill="#c6cfe9"/>
<use href="#x" x="745.62" y="2020.04"/>
<rect x="783.89" y="2014.34" width="7.7" height="11.4" fill="#c6cfe9"/>
<use href="#x" x="787.74" y="2020.04"/>
<rect x="825.86" y="2014.34" width="8" height="11.4" fill="#f5c97c"/>
<use href="#x" x="829.86" y="2020.04"/>
<rect x="854.09" y="2014.34" width="7.7" height="11.4" fill="#c6cfe9"/>
<use href="#x" x="857.94" y="2020.04"/>
<rect x="938.18" y="2014.34" width="8" height="11.4" fill="#fbd0c3"/>
<rect x="952.37" y="2014.34" width="7.7" height="11.4" fill="#c6cfe9"/>
<use href="#x" x="956.22" y="2020.04"/>
<rect x="1064.69" y="2014.34" width="7.7" height="11.4" fill="#c6cfe9"/>
<use href="#x" x="1068.54" y="2020.04"/>
<rect x="1120.85" y="2014.34" width="7.7" height="11.4" fill="#c6cfe9"/>
<use href="#x" x="1124.7" y="2020.04"/>
<rect x="755.66" y="2032.02" width="8" height="11.4" fill="#fbd0c3"/>
<rect x="853.94" y="2032.02" width="8" height="11.4" fill="#fbd0c3"/>
<rect x="882.02" y="2032.02" width="8" height="11.4" fill="#fbd0c3"/>
<rect x="938.33" y="2032.02" width="7.7" height="11.4" fill="#c6cfe9"/>
<use href="#x" x="942.18" y="2037.72"/>
<rect x="1022.57" y="2032.02" width="7.7" height="11.4" fill="#c6cfe9"/>
<use href="#x" x="1026.42" y="2037.72"/>
<rect x="1078.73" y="2032.02" width="7.7" height="11.4" fill="#c6cfe9"/>
<use href="#x" x="1082.58" y="2037.72"/>
<rect x="755.81" y="2049.7" width="7.7" height="11.4" fill="#c6cfe9"/>
<use href="#x" x="759.66" y="2055.4"/>
<rect x="769.7" y="2049.7" width="8" height="11.4" fill="#fbd0c3"/>
<rect x="783.89" y="2049.7" width="7.7" height="11.4" fill="#c6cfe9"/>
<use href="#x" x="787.74" y="2055.4"/>
<rect x="811.82" y="2049.7" width="8" height="11.4" fill="#e74a30"/>
<rect x="854.09" y="2049.7" width="7.7" height="11.4" fill="#c6cfe9"/>
<use href="#x" x="857.94" y="2055.4"/>
<rect x="924.29" y="2049.7" width="7.7" height="11.4" fill="#c6cfe9"/>
<use href="#x" x="928.14" y="2055.4"/>
<rect x="938.33" y="2049.7" width="7.7" height="11.4" fill="#c6cfe9"/>
<use href="#x" x="942.18" y="2055.4"/>
<rect x="1064.69" y="2049.7" width="7.7" height="11.4" fill="#c6cfe9"/>
<use href="#x" x="1068.54" y="2055.4"/>
<rect x="1078.58" y="2049.7" width="8" height="11.4" fill="#fbd0c3"/>
<rect x="1092.62" y="2049.7" width="8" height="11.4" fill="#fbd0c3"/>
<rect x="1190.9" y="2049.7" width="8" height="11.4" fill="#fbd0c3"/>
<rect x="1204.94" y="2049.7" width="8" height="11.4" fill="#fbd0c3"/>
<rect x="755.81" y="2067.38" width="7.7" height="11.4" fill="#c6cfe9"/>
<use href="#x" x="759.66" y="2073.08"/>
<rect x="783.89" y="2067.38" width="7.7" height="11.4" fill="#c6cfe9"/>
<use href="#x" x="787.74" y="2073.08"/>
<rect x="854.09" y="2067.38" width="7.7" height="11.4" fill="#c6cfe9"/>
<use href="#x" x="857.94" y="2073.08"/>
<rect x="924.29" y="2067.38" width="7.7" height="11.4" fill="#c6cfe9"/>
<use href="#x" x="928.14" y="2073.08"/>
<rect x="938.33" y="2067.38" width="7.7" height="11.4" fill="#c6cfe9"/>
<use href="#x" x="942.18" y="2073.08"/>
<rect x="1064.69" y="2067.38" width="7.7" height="11.4" fill="#c6cfe9"/>
<use href="#x" x="1068.54" y="2073.08"/>
<rect x="1078.58" y="2067.38" width="8" height="11.4" fill="#fbd0c3"/>
<rect x="1092.62" y="2067.38" width="8" height="11.4" fill="#fbd0c3"/>
<rect x="1106.81" y="2067.38" width="7.7" height="11.4" fill="#c6cfe9"/>
<use href="#x" x="1110.66" y="2073.08"/>
<rect x="1204.94" y="2067.38" width="8" height="11.4" fill="#fbd0c3"/>
<rect x="755.66" y="2085.06" width="8" height="11.4" fill="#fbd0c3"/>
<rect x="910.25" y="2085.06" width="7.7" height="11.4" fill="#c6cfe9"/>
<use href="#x" x="914.1" y="2090.76"/>
<rect x="938.33" y="2085.06" width="7.7" height="11.4" fill="#c6cfe9"/>
<use href="#x" x="942.18" y="2090.76"/>
<rect x="994.49" y="2085.06" width="7.7" height="11.4" fill="#c6cfe9"/>
<use href="#x" x="998.34" y="2090.76"/>
<rect x="1050.65" y="2085.06" width="7.7" height="11.4" fill="#c6cfe9"/>
<use href="#x" x="1054.5" y="2090.76"/>
<rect x="1120.85" y="2085.06" width="7.7" height="11.4" fill="#c6cfe9"/>
<use href="#x" x="1124.7" y="2090.76"/>
<rect x="755.81" y="2102.74" width="7.7" height="11.4" fill="#c6cfe9"/>
<use href="#x" x="759.66" y="2108.44"/>
<rect x="783.89" y="2102.74" width="7.7" height="11.4" fill="#c6cfe9"/>
<use href="#x" x="787.74" y="2108.44"/>
<rect x="826.01" y="2102.74" width="7.7" height="11.4" fill="#c6cfe9"/>
<use href="#x" x="829.86" y="2108.44"/>
<rect x="938.18" y="2102.74" width="8" height="11.4" fill="#e74a30"/>
<rect x="1078.73" y="2102.74" width="7.7" height="11.4" fill="#c6cfe9"/>
<use href="#x" x="1082.58" y="2108.44"/>
<rect x="1106.81" y="2102.74" width="7.7" height="11.4" fill="#c6cfe9"/>
<use href="#x" x="1110.66" y="2108.44"/>
<rect x="755.66" y="2120.42" width="8" height="11.4" fill="#fbd0c3"/>
<rect x="769.7" y="2120.42" width="8" height="11.4" fill="#fbd0c3"/>
<rect x="853.94" y="2120.42" width="8" height="11.4" fill="#fbd0c3"/>
<rect x="882.02" y="2120.42" width="8" height="11.4" fill="#fbd0c3"/>
<rect x="938.33" y="2120.42" width="7.7" height="11.4" fill="#c6cfe9"/>
<use href="#x" x="942.18" y="2126.12"/>
<rect x="1022.57" y="2120.42" width="7.7" height="11.4" fill="#c6cfe9"/>
<use href="#x" x="1026.42" y="2126.12"/>
<rect x="1078.73" y="2120.42" width="7.7" height="11.4" fill="#c6cfe9"/>
<use href="#x" x="1082.58" y="2126.12"/>
<rect x="769.7" y="2138.1" width="8" height="11.4" fill="#e74a30"/>
<rect x="797.78" y="2138.1" width="8" height="11.4" fill="#fbd0c3"/>
<rect x="826.01" y="2138.1" width="7.7" height="11.4" fill="#c6cfe9"/>
<use href="#x" x="829.86" y="2143.8"/>
<rect x="938.33" y="2138.1" width="7.7" height="11.4" fill="#c6cfe9"/>
<use href="#x" x="942.18" y="2143.8"/>
<rect x="952.37" y="2138.1" width="7.7" height="11.4" fill="#c6cfe9"/>
<use href="#x" x="956.22" y="2143.8"/>
<rect x="1050.5" y="2138.1" width="8" height="11.4" fill="#19e5c3"/>
<rect x="1064.54" y="2138.1" width="8" height="11.4" fill="#fbd0c3"/>
<rect x="1120.85" y="2138.1" width="7.7" height="11.4" fill="#c6cfe9"/>
<use href="#x" x="1124.7" y="2143.8"/>
<rect x="1162.97" y="2138.1" width="7.7" height="11.4" fill="#c6cfe9"/>
<use href="#x" x="1166.82" y="2143.8"/>
<rect x="755.66" y="2155.78" width="8" height="11.4" fill="#fbd0c3"/>
<rect x="854.09" y="2155.78" width="7.7" height="11.4" fill="#c6cfe9"/>
<use href="#x" x="857.94" y="2161.48"/>
<rect x="924.14" y="2155.78" width="8" height="11.4" fill="#fbd0c3"/>
<rect x="938.33" y="2155.78" width="7.7" height="11.4" fill="#c6cfe9"/>
<use href="#x" x="942.18" y="2161.48"/>
<rect x="952.37" y="2155.78" width="7.7" height="11.4" fill="#c6cfe9"/>
<use href="#x" x="956.22" y="2161.48"/>
<rect x="755.81" y="2173.46" width="7.7" height="11.4" fill="#c6cfe9"/>
<use href="#x" x="759.66" y="2179.16"/>
<rect x="769.85" y="2173.46" width="7.7" height="11.4" fill="#c6cfe9"/>
<use href="#x" x="773.7" y="2179.16"/>
<rect x="811.97" y="2173.46" width="7.7" height="11.4" fill="#c6cfe9"/>
<use href="#x" x="815.82" y="2179.16"/>
<rect x="853.94" y="2173.46" width="8" height="11.4" fill="#fbd0c3"/>
<rect x="938.33" y="2173.46" width="7.7" height="11.4" fill="#c6cfe9"/>
<use href="#x" x="942.18" y="2179.16"/>
<rect x="1078.73" y="2173.46" width="7.7" height="11.4" fill="#c6cfe9"/>
<use href="#x" x="1082.58" y="2179.16"/>
<rect x="1190.9" y="2173.46" width="8" height="11.4" fill="#19e5c3"/>
<rect x="1205.09" y="2173.46" width="7.7" height="11.4" fill="#c6cfe9"/>
<use href="#x" x="1208.94" y="2179.16"/>
<rect x="755.81" y="2191.14" width="7.7" height="11.4" fill="#c6cfe9"/>
<use href="#x" x="759.66" y="2196.84"/>
<rect x="853.94" y="2191.14" width="8" height="11.4" fill="#fbd0c3"/>
<rect x="938.33" y="2191.14" width="7.7" height="11.4" fill="#c6cfe9"/>
<use href="#x" x="942.18" y="2196.84"/>
<rect x="952.37" y="2191.14" width="7.7" height="11.4" fill="#c6cfe9"/>
<use href="#x" x="956.22" y="2196.84"/>
<rect x="1078.58" y="2191.14" width="8" height="11.4" fill="#fbd0c3"/>
<rect x="1162.97" y="2191.14" width="7.7" height="11.4" fill="#c6cfe9"/>
<use href="#x" x="1166.82" y="2196.84"/>
<rect x="1190.9" y="2191.14" width="8" height="11.4" fill="#fbd0c3"/>
<rect x="755.81" y="2208.82" width="7.7" height="11.4" fill="#c6cfe9"/>
<use href="#x" x="759.66" y="2214.52"/>
<rect x="769.7" y="2208.82" width="8" height="11.4" fill="#fbd0c3"/>
<rect x="853.94" y="2208.82" width="8" height="11.4" fill="#fbd0c3"/>
<rect x="938.33" y="2208.82" width="7.7" height="11.4" fill="#c6cfe9"/>
<use href="#x" x="942.18" y="2214.52"/>
<rect x="952.37" y="2208.82" width="7.7" height="11.4" fill="#c6cfe9"/>
<use href="#x" x="956.22" y="2214.52"/>
<rect x="1162.97" y="2208.82" width="7.7" height="11.4" fill="#c6cfe9"/>
<use href="#x" x="1166.82" y="2214.52"/>
<rect x="1190.9" y="2208.82" width="8" height="11.4" fill="#fbd0c3"/>
<rect x="755.81" y="2226.5" width="7.7" height="11.4" fill="#c6cfe9"/>
<use href="#x" x="759.66" y="2232.2"/>
<rect x="783.89" y="2226.5" width="7.7" height="11.4" fill="#c6cfe9"/>
<use href="#x" x="787.74" y="2232.2"/>
<rect x="826.01" y="2226.5" width="7.7" height="11.4" fill="#c6cfe9"/>
<use href="#x" x="829.86" y="2232.2"/>
<rect x="938.18" y="2226.5" width="8" height="11.4" fill="#e74a30"/>
<rect x="966.26" y="2226.5" width="8" height="11.4" fill="#fbd0c3"/>
<rect x="1106.81" y="2226.5" width="7.7" height="11.4" fill="#c6cfe9"/>
<use href="#x" x="1110.66" y="2232.2"/>
<rect x="755.66" y="2244.18" width="8" height="11.4" fill="#fbd0c3"/>
<rect x="797.78" y="2244.18" width="8" height="11.4" fill="#f5c97c"/>
<use href="#x" x="801.78" y="2249.88"/>
<rect x="910.1" y="2244.18" width="8" height="11.4" fill="#fbd0c3"/>
<rect x="1022.57" y="2244.18" width="7.7" height="11.4" fill="#c6cfe9"/>
<use href="#x" x="1026.42" y="2249.88"/>
<rect x="1078.73" y="2244.18" width="7.7" height="11.4" fill="#c6cfe9"/>
<use href="#x" x="1082.58" y="2249.88"/>
<rect x="1120.85" y="2244.18" width="7.7" height="11.4" fill="#c6cfe9"/>
<use href="#x" x="1124.7" y="2249.88"/>
<rect x="1204.94" y="2244.18" width="8" height="11.4" fill="#fbd0c3"/>
<rect x="755.81" y="2261.86" width="7.7" height="11.4" fill="#c6cfe9"/>
<use href="#x" x="759.66" y="2267.56"/>
<rect x="769.7" y="2261.86" width="8" height="11.4" fill="#fbd0c3"/>
<rect x="783.74" y="2261.86" width="8" height="11.4" fill="#fbd0c3"/>
<rect x="826.01" y="2261.86" width="7.7" height="11.4" fill="#c6cfe9"/>
<use href="#x" x="829.86" y="2267.56"/>
<rect x="938.18" y="2261.86" width="8" height="11.4" fill="#19e5c3"/>
<rect x="980.3" y="2261.86" width="8" height="11.4" fill="#fbd0c3"/>
<rect x="1022.42" y="2261.86" width="8" height="11.4" fill="#fbd0c3"/>
<rect x="1078.58" y="2261.86" width="8" height="11.4" fill="#fbd0c3"/>
<rect x="755.81" y="2279.54" width="7.7" height="11.4" fill="#c6cfe9"/>
<use href="#x" x="759.66" y="2285.24"/>
<rect x="797.93" y="2279.54" width="7.7" height="11.4" fill="#c6cfe9"/>
<use href="#x" x="801.78" y="2285.24"/>
<rect x="839.9" y="2279.54" width="8" height="11.4" fill="#e74a30"/>
<rect x="853.94" y="2279.54" width="8" height="11.4" fill="#fbd0c3"/>
<rect x="924.14" y="2279.54" width="8" height="11.4" fill="#fbd0c3"/>
<rect x="938.18" y="2279.54" width="8" height="11.4" fill="#19e5c3"/>
<rect x="1022.57" y="2279.54" width="7.7" height="11.4" fill="#c6cfe9"/>
<use href="#x" x="1026.42" y="2285.24"/>
<rect x="755.81" y="2297.22" width="7.7" height="11.4" fill="#c6cfe9"/>
<use href="#x" x="759.66" y="2302.92"/>
<rect x="769.85" y="2297.22" width="7.7" height="11.4" fill="#c6cfe9"/>
<use href="#x" x="773.7" y="2302.92"/>
<rect x="853.94" y="2297.22" width="8" height="11.4" fill="#fbd0c3"/>
<rect x="938.33" y="2297.22" width="7.7" height="11.4" fill="#c6cfe9"/>
<use href="#x" x="942.18" y="2302.92"/>
<rect x="1078.73" y="2297.22" width="7.7" height="11.4" fill="#c6cfe9"/>
<use href="#x" x="1082.58" y="2302.92"/>
<rect x="1190.9" y="2297.22" width="8" height="11.4" fill="#fbd0c3"/>
<rect x="1205.09" y="2297.22" width="7.7" height="11.4" fill="#c6cfe9"/>
<use href="#x" x="1208.94" y="2302.92"/>
<rect x="755.81" y="2314.9" width="7.7" height="11.4" fill="#c6cfe9"/>
<use href="#x" x="759.66" y="2320.6"/>
<rect x="769.85" y="2314.9" width="7.7" height="11.4" fill="#c6cfe9"/>
<use href="#x" x="773.7" y="2320.6"/>
<rect x="811.82" y="2314.9" width="8" height="11.4" fill="#fbd0c3"/>
<rect x="853.94" y="2314.9" width="8" height="11.4" fill="#fbd0c3"/>
<rect x="882.02" y="2314.9" width="8" height="11.4" fill="#fbd0c3"/>
<rect x="910.25" y="2314.9" width="7.7" height="11.4" fill="#c6cfe9"/>
<use href="#x" x="914.1" y="2320.6"/>
<rect x="938.33" y="2314.9" width="7.7" height="11.4" fill="#c6cfe9"/>
<use href="#x" x="942.18" y="2320.6"/>
<rect x="1204.94" y="2314.9" width="8" height="11.4" fill="#fbd0c3"/>
<rect x="755.81" y="2332.58" width="7.7" height="11.4" fill="#c6cfe9"/>
<use href="#x" x="759.66" y="2338.28"/>
<rect x="769.85" y="2332.58" width="7.7" height="11.4" fill="#c6cfe9"/>
<use href="#x" x="773.7" y="2338.28"/>
<rect x="811.82" y="2332.58" width="8" height="11.4" fill="#e74a30"/>
<rect x="853.94" y="2332.58" width="8" height="11.4" fill="#fbd0c3"/>
<rect x="882.02" y="2332.58" width="8" height="11.4" fill="#fbd0c3"/>
<rect x="910.25" y="2332.58" width="7.7" height="11.4" fill="#c6cfe9"/>
<use href="#x" x="914.1" y="2338.28"/>
<rect x="938.33" y="2332.58" width="7.7" height="11.4" fill="#c6cfe9"/>
<use href="#x" x="942.18" y="2338.28"/>
<rect x="1204.94" y="2332.58" width="8" height="11.4" fill="#fbd0c3"/>
<rect x="755.81" y="2350.26" width="7.7" height="11.4" fill="#c6cfe9"/>
<use href="#x" x="759.66" y="2355.96"/>
<rect x="769.85" y="2350.26" width="7.7" height="11.4" fill="#c6cfe9"/>
<use href="#x" x="773.7" y="2355.96"/>
<rect x="811.97" y="2350.26" width="7.7" height="11.4" fill="#c6cfe9"/>
<use href="#x" x="815.82" y="2355.96"/>
<rect x="853.94" y="2350.26" width="8" height="11.4" fill="#fbd0c3"/>
<rect x="938.33" y="2350.26" width="7.7" height="11.4" fill="#c6cfe9"/>
<use href="#x" x="942.18" y="2355.96"/>
<rect x="1190.9" y="2350.26" width="8" height="11.4" fill="#fbd0c3"/>
<rect x="1205.09" y="2350.26" width="7.7" height="11.4" fill="#c6cfe9"/>
<use href="#x" x="1208.94" y="2355.96"/>
<rect x="755.81" y="2367.94" width="7.7" height="11.4" fill="#c6cfe9"/>
<use href="#x" x="759.66" y="2373.64"/>
<rect x="769.7" y="2367.94" width="8" height="11.4" fill="#fbd0c3"/>
<rect x="826.01" y="2367.94" width="7.7" height="11.4" fill="#c6cfe9"/>
<use href="#x" x="829.86" y="2373.64"/>
<rect x="938.18" y="2367.94" width="8" height="11.4" fill="#19e5c3"/>
<rect x="980.3" y="2367.94" width="8" height="11.4" fill="#fbd0c3"/>
<rect x="1022.42" y="2367.94" width="8" height="11.4" fill="#fbd0c3"/>
<rect x="1078.58" y="2367.94" width="8" height="11.4" fill="#fbd0c3"/>
<rect x="755.66" y="2385.62" width="8" height="11.4" fill="#fbd0c3"/>
<rect x="811.97" y="2385.62" width="7.7" height="11.4" fill="#c6cfe9"/>
<use href="#x" x="815.82" y="2391.32"/>
<rect x="853.94" y="2385.62" width="8" height="11.4" fill="#fbd0c3"/>
<rect x="882.02" y="2385.62" width="8" height="11.4" fill="#fbd0c3"/>
<rect x="938.33" y="2385.62" width="7.7" height="11.4" fill="#c6cfe9"/>
<use href="#x" x="942.18" y="2391.32"/>
<rect x="755.66" y="2403.3" width="8" height="11.4" fill="#fbd0c3"/>
<rect x="769.7" y="2403.3" width="8" height="11.4" fill="#e74a30"/>
<rect x="811.82" y="2403.3" width="8" height="11.4" fill="#e74a30"/>
<rect x="853.94" y="2403.3" width="8" height="11.4" fill="#fbd0c3"/>
<rect x="882.02" y="2403.3" width="8" height="11.4" fill="#fbd0c3"/>
<rect x="938.33" y="2403.3" width="7.7" height="11.4" fill="#c6cfe9"/>
<use href="#x" x="942.18" y="2409"/>
<rect x="755.66" y="2420.98" width="8" height="11.4" fill="#fbd0c3"/>
<rect x="811.82" y="2420.98" width="8" height="11.4" fill="#fbd0c3"/>
<rect x="839.9" y="2420.98" width="8" height="11.4" fill="#e74a30"/>
<rect x="938.18" y="2420.98" width="8" height="11.4" fill="#fbd0c3"/>
<rect x="952.22" y="2420.98" width="8" height="11.4" fill="#e74a30"/>
<rect x="1022.42" y="2420.98" width="8" height="11.4" fill="#fbd0c3"/>
<rect x="1064.69" y="2420.98" width="7.7" height="11.4" fill="#c6cfe9"/>
<use href="#x" x="1068.54" y="2426.68"/>
<rect x="1148.78" y="2420.98" width="8" height="11.4" fill="#e74a30"/>
<rect x="755.66" y="2438.66" width="8" height="11.4" fill="#fbd0c3"/>
<rect x="769.7" y="2438.66" width="8" height="11.4" fill="#e74a30"/>
<rect x="811.82" y="2438.66" width="8" height="11.4" fill="#fbd0c3"/>
<rect x="853.94" y="2438.66" width="8" height="11.4" fill="#fbd0c3"/>
<rect x="882.02" y="2438.66" width="8" height="11.4" fill="#fbd0c3"/>
<rect x="938.33" y="2438.66" width="7.7" height="11.4" fill="#c6cfe9"/>
<use href="#x" x="942.18" y="2444.36"/>
<rect x="755.81" y="2456.34" width="7.7" height="11.4" fill="#c6cfe9"/>
<use href="#x" x="759.66" y="2462.04"/>
<rect x="769.7" y="2456.34" width="8" height="11.4" fill="#fbd0c3"/>
<rect x="797.78" y="2456.34" width="8" height="11.4" fill="#fbd0c3"/>
<rect x="811.82" y="2456.34" width="8" height="11.4" fill="#fbd0c3"/>
<rect x="853.94" y="2456.34" width="8" height="11.4" fill="#fbd0c3"/>
<rect x="938.33" y="2456.34" width="7.7" height="11.4" fill="#c6cfe9"/>
<use href="#x" x="942.18" y="2462.04"/>
<rect x="1120.85" y="2456.34" width="7.7" height="11.4" fill="#c6cfe9"/>
<use href="#x" x="1124.7" y="2462.04"/>
<rect x="755.66" y="2474.02" width="8" height="11.4" fill="#fbd0c3"/>
<rect x="938.33" y="2474.02" width="7.7" height="11.4" fill="#c6cfe9"/>
<use href="#x" x="942.18" y="2479.72"/>
<rect x="1120.85" y="2474.02" width="7.7" height="11.4" fill="#c6cfe9"/>
<use href="#x" x="1124.7" y="2479.72"/>
<rect x="755.66" y="2491.7" width="8" height="11.4" fill="#fbd0c3"/>
<rect x="811.97" y="2491.7" width="7.7" height="11.4" fill="#c6cfe9"/>
<use href="#x" x="815.82" y="2497.4"/>
<rect x="839.9" y="2491.7" width="8" height="11.4" fill="#e74a30"/>
<rect x="938.18" y="2491.7" width="8" height="11.4" fill="#fbd0c3"/>
<rect x="952.22" y="2491.7" width="8" height="11.4" fill="#fbd0c3"/>
<rect x="1064.69" y="2491.7" width="7.7" height="11.4" fill="#c6cfe9"/>
<use href="#x" x="1068.54" y="2497.4"/>
<rect x="1078.58" y="2491.7" width="8" height="11.4" fill="#e74a30"/>
<rect x="755.66" y="2509.38" width="8" height="11.4" fill="#fbd0c3"/>
<rect x="811.82" y="2509.38" width="8" height="11.4" fill="#fbd0c3"/>
<rect x="853.94" y="2509.38" width="8" height="11.4" fill="#fbd0c3"/>
<rect x="882.02" y="2509.38" width="8" height="11.4" fill="#fbd0c3"/>
<rect x="938.33" y="2509.38" width="7.7" height="11.4" fill="#c6cfe9"/>
<use href="#x" x="942.18" y="2515.08"/>
<rect x="755.81" y="2527.06" width="7.7" height="11.4" fill="#c6cfe9"/>
<use href="#x" x="759.66" y="2532.76"/>
<rect x="853.94" y="2527.06" width="8" height="11.4" fill="#fbd0c3"/>
<rect x="938.33" y="2527.06" width="7.7" height="11.4" fill="#c6cfe9"/>
<use href="#x" x="942.18" y="2532.76"/>
<rect x="1120.85" y="2527.06" width="7.7" height="11.4" fill="#c6cfe9"/>
<use href="#x" x="1124.7" y="2532.76"/>
<rect x="755.81" y="2544.74" width="7.7" height="11.4" fill="#c6cfe9"/>
<use href="#x" x="759.66" y="2550.44"/>
<rect x="797.78" y="2544.74" width="8" height="11.4" fill="#fbd0c3"/>
<rect x="853.94" y="2544.74" width="8" height="11.4" fill="#fbd0c3"/>
<rect x="938.33" y="2544.74" width="7.7" height="11.4" fill="#c6cfe9"/>
<use href="#x" x="942.18" y="2550.44"/>
<rect x="1120.85" y="2544.74" width="7.7" height="11.4" fill="#c6cfe9"/>
<use href="#x" x="1124.7" y="2550.44"/>
<rect x="465.1" y="1372.8" width="266.76" height="1202.24" fill="none" stroke="#000" stroke-width="2.85" stroke-linejoin="round"/>
<rect x="738.6" y="1392.4" width="477.36" height="1202.24" fill="none" stroke="#000" stroke-width="2.85" stroke-linejoin="round"/>
<g font-style="italic" text-anchor="end" font-size="18.8" style="font-kerning:none">
<text transform="translate(460.8 1406) scale(1 1.05)">CBFB</text>
<text transform="translate(460.8 1423.7) scale(1 1.05)">CTCF</text>
<text transform="translate(460.8 1441.4) scale(1 1.05)">CDH1</text>
<text transform="translate(460.8 1459.1) scale(1 1.05)">ATM</text>
<text transform="translate(460.8 1476.8) scale(1 1.05)">CHEK2</text>
<text transform="translate(460.8 1494.5) scale(1 1.05)">FOXO3</text>
<text transform="translate(460.8 1512.2) scale(1 1.05)">XBP1</text>
<text transform="translate(460.8 1529.9) scale(1 1.05)">ARID1A</text>
<text transform="translate(460.8 1547.6) scale(1 1.05)">ARID1B</text>
<text transform="translate(460.8 1565.3) scale(1 1.05)">MAP2K4</text>
<text transform="translate(460.8 1583) scale(1 1.05)">NCOR1</text>
<text transform="translate(460.8 1600.7) scale(1 1.05)">ESR1</text>
<text transform="translate(460.8 1618.4) scale(1 1.05)">MED23</text>
<text transform="translate(460.8 1636.1) scale(1 1.05)">GPS2</text>
<text transform="translate(460.8 1653.8) scale(1 1.05)">SPEN</text>
<text transform="translate(460.8 1671.5) scale(1 1.05)">TP53</text>
<text transform="translate(460.8 1689.2) scale(1 1.05)">ZNF703</text>
<text transform="translate(460.8 1706.9) scale(1 1.05)">FGFR1</text>
<text transform="translate(460.8 1724.6) scale(1 1.05)">JAK1</text>
<text transform="translate(460.8 1742.3) scale(1 1.05)">BRCA1</text>
<text transform="translate(460.8 1760) scale(1 1.05)">RARA</text>
<text transform="translate(460.8 1777.7) scale(1 1.05)">RB1</text>
<text transform="translate(460.8 1795.4) scale(1 1.05)">MYC</text>
<text transform="translate(460.8 1813.1) scale(1 1.05)">ERBB2</text>
<text transform="translate(460.8 1830.8) scale(1 1.05)">CCND1</text>
<text transform="translate(460.8 1848.5) scale(1 1.05)">BRCA2</text>
<text transform="translate(460.8 1866.2) scale(1 1.05)">SPOP</text>
<text transform="translate(460.8 1883.9) scale(1 1.05)">MAP3K1</text>
<text transform="translate(460.8 1901.6) scale(1 1.05)">KMT2C</text>
<text transform="translate(460.8 1919.3) scale(1 1.05)">GNAS</text>
<text transform="translate(460.8 1937) scale(1 1.05)">NF1</text>
<text transform="translate(460.8 1954.7) scale(1 1.05)">PIK3R1</text>
<text transform="translate(460.8 1972.4) scale(1 1.05)">BRAF</text>
<text transform="translate(460.8 1990.1) scale(1 1.05)">CDKN2A</text>
<text transform="translate(460.8 2007.8) scale(1 1.05)">FGFR2</text>
<text transform="translate(460.8 2025.5) scale(1 1.05)">MLLT4</text>
<text transform="translate(460.8 2043.2) scale(1 1.05)">CDKN1B</text>
<text transform="translate(460.8 2060.9) scale(1 1.05)">FOXA1</text>
<text transform="translate(460.8 2078.6) scale(1 1.05)">AKT1</text>
<text transform="translate(460.8 2096.3) scale(1 1.05)">PTEN</text>
<text transform="translate(460.8 2114) scale(1 1.05)">ATRX</text>
<text transform="translate(460.8 2131.7) scale(1 1.05)">KRAS</text>
<text transform="translate(460.8 2149.4) scale(1 1.05)">FGFR3</text>
<text transform="translate(460.8 2167.1) scale(1 1.05)">SMAD4</text>
<text transform="translate(460.8 2184.8) scale(1 1.05)">FOXP1</text>
<text transform="translate(460.8 2202.5) scale(1 1.05)">IGF1R</text>
<text transform="translate(460.8 2220.2) scale(1 1.05)">MAP2K1</text>
<text transform="translate(460.8 2237.9) scale(1 1.05)">KDM6A</text>
<text transform="translate(460.8 2255.6) scale(1 1.05)">RUNX1</text>
<text transform="translate(460.8 2273.3) scale(1 1.05)">PMS2</text>
<text transform="translate(460.8 2291) scale(1 1.05)">HRAS</text>
<text transform="translate(460.8 2308.7) scale(1 1.05)">SETD2</text>
<text transform="translate(460.8 2326.4) scale(1 1.05)">ATR</text>
<text transform="translate(460.8 2344.1) scale(1 1.05)">PIK3CA</text>
<text transform="translate(460.8 2361.8) scale(1 1.05)">MLH1</text>
<text transform="translate(460.8 2379.5) scale(1 1.05)">EGFR</text>
<text transform="translate(460.8 2397.2) scale(1 1.05)">TBX3</text>
<text transform="translate(460.8 2414.9) scale(1 1.05)">MDM2</text>
<text transform="translate(460.8 2432.6) scale(1 1.05)">CCNE1</text>
<text transform="translate(460.8 2450.3) scale(1 1.05)">ERBB3</text>
<text transform="translate(460.8 2468) scale(1 1.05)">ERBB4</text>
<text transform="translate(460.8 2485.7) scale(1 1.05)">GATA3</text>
<text transform="translate(460.8 2503.4) scale(1 1.05)">SMARCA4</text>
<text transform="translate(460.8 2521.1) scale(1 1.05)">ARID2</text>
<text transform="translate(460.8 2538.8) scale(1 1.05)">DNMT3A</text>
<text transform="translate(460.8 2556.5) scale(1 1.05)">SF3B1</text>
<text transform="translate(460.8 2574.2) scale(1 1.05)">CDKN2B</text>
<text transform="translate(460.8 2591.9) scale(1 1.05)">MALAT1</text>
</g>
<g font-size="24">
<text transform="translate(1223.3 1409) scale(1 1.09)">74</text>
<use href="#pc" x="1249.7" y="1408.9"/>
<text transform="translate(1223.3 1426.69) scale(1 1.09)">72</text>
<use href="#pc" x="1249.7" y="1426.6"/>
<text transform="translate(1223.3 1444.39) scale(1 1.09)">72</text>
<use href="#pc" x="1249.7" y="1444.29"/>
<text transform="translate(1223.3 1462.09) scale(1 1.09)">53</text>
<use href="#pc" x="1249.7" y="1461.99"/>
<text transform="translate(1223.3 1479.78) scale(1 1.09)">43</text>
<use href="#pc" x="1249.7" y="1479.68"/>
<text transform="translate(1223.3 1497.47) scale(1 1.09)">47</text>
<use href="#pc" x="1249.7" y="1497.38"/>
<text transform="translate(1223.3 1515.17) scale(1 1.09)">42</text>
<use href="#pc" x="1249.7" y="1515.07"/>
<text transform="translate(1223.3 1532.87) scale(1 1.09)">43</text>
<use href="#pc" x="1249.7" y="1532.77"/>
<text transform="translate(1223.3 1550.56) scale(1 1.09)">45</text>
<use href="#pc" x="1249.7" y="1550.46"/>
<text transform="translate(1223.3 1568.26) scale(1 1.09)">42</text>
<use href="#pc" x="1249.7" y="1568.16"/>
<text transform="translate(1223.3 1585.95) scale(1 1.09)">42</text>
<use href="#pc" x="1249.7" y="1585.85"/>
<text transform="translate(1223.3 1603.64) scale(1 1.09)">45</text>
<use href="#pc" x="1249.7" y="1603.55"/>
<text transform="translate(1223.3 1621.34) scale(1 1.09)">42</text>
<use href="#pc" x="1249.7" y="1621.24"/>
<text transform="translate(1223.3 1639.04) scale(1 1.09)">38</text>
<use href="#pc" x="1249.7" y="1638.94"/>
<text transform="translate(1223.3 1656.73) scale(1 1.09)">38</text>
<use href="#pc" x="1249.7" y="1656.63"/>
<text transform="translate(1223.3 1674.42) scale(1 1.09)">38</text>
<use href="#pc" x="1249.7" y="1674.33"/>
<text transform="translate(1223.3 1692.12) scale(1 1.09)">47</text>
<use href="#pc" x="1249.7" y="1692.02"/>
<text transform="translate(1223.3 1709.82) scale(1 1.09)">47</text>
<use href="#pc" x="1249.7" y="1709.72"/>
<text transform="translate(1223.3 1727.51) scale(1 1.09)">34</text>
<use href="#pc" x="1249.7" y="1727.41"/>
<text transform="translate(1223.3 1745.2) scale(1 1.09)">36</text>
<use href="#pc" x="1249.7" y="1745.11"/>
<text transform="translate(1223.3 1762.9) scale(1 1.09)">34</text>
<use href="#pc" x="1249.7" y="1762.8"/>
<text transform="translate(1223.3 1780.6) scale(1 1.09)">26</text>
<use href="#pc" x="1249.7" y="1780.5"/>
<text transform="translate(1223.3 1798.29) scale(1 1.09)">42</text>
<use href="#pc" x="1249.7" y="1798.19"/>
<text transform="translate(1223.3 1815.99) scale(1 1.09)">32</text>
<use href="#pc" x="1249.7" y="1815.89"/>
<text transform="translate(1223.3 1833.68) scale(1 1.09)">40</text>
<use href="#pc" x="1249.7" y="1833.58"/>
<text transform="translate(1223.3 1851.38) scale(1 1.09)">25</text>
<use href="#pc" x="1249.7" y="1851.28"/>
<text transform="translate(1223.3 1869.07) scale(1 1.09)">32</text>
<use href="#pc" x="1249.7" y="1868.97"/>
<text transform="translate(1223.3 1886.76) scale(1 1.09)">30</text>
<use href="#pc" x="1249.7" y="1886.66"/>
<text transform="translate(1223.3 1904.46) scale(1 1.09)">25</text>
<use href="#pc" x="1249.7" y="1904.36"/>
<text transform="translate(1223.3 1922.15) scale(1 1.09)">34</text>
<use href="#pc" x="1249.7" y="1922.06"/>
<text transform="translate(1223.3 1939.85) scale(1 1.09)">28</text>
<use href="#pc" x="1249.7" y="1939.75"/>
<text transform="translate(1223.3 1957.55) scale(1 1.09)">28</text>
<use href="#pc" x="1249.7" y="1957.45"/>
<text transform="translate(1223.3 1975.24) scale(1 1.09)">23</text>
<use href="#pc" x="1249.7" y="1975.14"/>
<text transform="translate(1223.3 1992.93) scale(1 1.09)">21</text>
<use href="#pc" x="1249.7" y="1992.84"/>
<text transform="translate(1223.3 2010.63) scale(1 1.09)">23</text>
<use href="#pc" x="1249.7" y="2010.53"/>
<text transform="translate(1223.3 2028.33) scale(1 1.09)">21</text>
<use href="#pc" x="1249.7" y="2028.23"/>
<text transform="translate(1223.3 2046.02) scale(1 1.09)">23</text>
<use href="#pc" x="1249.7" y="2045.92"/>
<text transform="translate(1223.3 2063.72) scale(1 1.09)">23</text>
<use href="#pc" x="1249.7" y="2063.62"/>
<text transform="translate(1223.3 2081.41) scale(1 1.09)">21</text>
<use href="#pc" x="1249.7" y="2081.31"/>
<text transform="translate(1223.3 2099.11) scale(1 1.09)">19</text>
<use href="#pc" x="1249.7" y="2099.01"/>
<text transform="translate(1223.3 2116.8) scale(1 1.09)">17</text>
<use href="#pc" x="1249.7" y="2116.7"/>
<text transform="translate(1223.3 2134.49) scale(1 1.09)">23</text>
<use href="#pc" x="1249.7" y="2134.39"/>
<text transform="translate(1223.3 2152.19) scale(1 1.09)">21</text>
<use href="#pc" x="1249.7" y="2152.09"/>
<text transform="translate(1223.3 2169.89) scale(1 1.09)">21</text>
<use href="#pc" x="1249.7" y="2169.78"/>
<text transform="translate(1223.3 2187.58) scale(1 1.09)">19</text>
<use href="#pc" x="1249.7" y="2187.48"/>
<text transform="translate(1223.3 2205.28) scale(1 1.09)">19</text>
<use href="#pc" x="1249.7" y="2205.18"/>
<text transform="translate(1223.3 2222.97) scale(1 1.09)">19</text>
<use href="#pc" x="1249.7" y="2222.87"/>
<text transform="translate(1223.3 2240.66) scale(1 1.09)">17</text>
<use href="#pc" x="1249.7" y="2240.57"/>
<text transform="translate(1223.3 2258.36) scale(1 1.09)">17</text>
<use href="#pc" x="1249.7" y="2258.26"/>
<text transform="translate(1223.3 2276.06) scale(1 1.09)">23</text>
<use href="#pc" x="1249.7" y="2275.95"/>
<text transform="translate(1223.3 2293.75) scale(1 1.09)">17</text>
<use href="#pc" x="1249.7" y="2293.65"/>
<text transform="translate(1223.3 2311.45) scale(1 1.09)">17</text>
<use href="#pc" x="1249.7" y="2311.35"/>
<text transform="translate(1223.3 2329.14) scale(1 1.09)">21</text>
<use href="#pc" x="1249.7" y="2329.04"/>
<text transform="translate(1223.3 2346.84) scale(1 1.09)">21</text>
<use href="#pc" x="1249.7" y="2346.74"/>
<text transform="translate(1223.3 2364.53) scale(1 1.09)">17</text>
<use href="#pc" x="1249.7" y="2364.43"/>
<text transform="translate(1223.3 2382.22) scale(1 1.09)">19</text>
<use href="#pc" x="1249.7" y="2382.12"/>
<text transform="translate(1223.3 2399.92) scale(1 1.09)">19</text>
<use href="#pc" x="1249.7" y="2399.82"/>
<text transform="translate(1223.3 2417.61) scale(1 1.09)">19</text>
<use href="#pc" x="1249.7" y="2417.52"/>
<text transform="translate(1223.3 2435.31) scale(1 1.09)">17</text>
<use href="#pc" x="1249.7" y="2435.21"/>
<text transform="translate(1223.3 2453.01) scale(1 1.09)">17</text>
<use href="#pc" x="1249.7" y="2452.91"/>
<text transform="translate(1223.3 2470.7) scale(1 1.09)">15</text>
<use href="#pc" x="1249.7" y="2470.6"/>
<text transform="translate(1223.3 2488.39) scale(1 1.09)">13</text>
<use href="#pc" x="1249.7" y="2488.3"/>
<text transform="translate(1223.3 2506.09) scale(1 1.09)">13</text>
<use href="#pc" x="1249.7" y="2505.99"/>
<text transform="translate(1223.3 2523.78) scale(1 1.09)">15</text>
<use href="#pc" x="1249.7" y="2523.69"/>
<text transform="translate(1223.3 2541.48) scale(1 1.09)">9</text>
<use href="#pc" x="1235.8" y="2541.38"/>
<text transform="translate(1223.3 2559.18) scale(1 1.09)">9</text>
<use href="#pc" x="1235.8" y="2559.07"/>
<text transform="translate(1223.3 2576.87) scale(1 1.09)">0</text>
<use href="#pc" x="1235.8" y="2576.77"/>
<text transform="translate(1223.3 2594.57) scale(1 1.09)">0</text>
<use href="#pc" x="1235.8" y="2594.47"/>
</g>
<rect x="1283.1" y="1395.2" width="5.62" height="10.8" fill="#fbd0c3"/>
<rect x="1288.52" y="1395.2" width="56.19" height="10.8" fill="#c6cfe9"/>
<rect x="1344.5" y="1395.2" width="65.02" height="10.8" fill="#000000"/>
<rect x="1283.1" y="1412.9" width="3.81" height="10.8" fill="#fbd0c3"/>
<rect x="1286.71" y="1412.9" width="56.19" height="10.8" fill="#c6cfe9"/>
<rect x="1342.7" y="1412.9" width="65.02" height="10.8" fill="#000000"/>
<rect x="1283.1" y="1430.61" width="5.62" height="10.8" fill="#fbd0c3"/>
<rect x="1288.52" y="1430.61" width="52.57" height="10.8" fill="#c6cfe9"/>
<rect x="1340.89" y="1430.61" width="63.21" height="10.8" fill="#000000"/>
<rect x="1283.1" y="1448.31" width="2.01" height="10.8" fill="#e74a30"/>
<rect x="1284.91" y="1448.31" width="41.74" height="10.8" fill="#c6cfe9"/>
<rect x="1326.44" y="1448.31" width="2.01" height="10.8" fill="#19e5c3"/>
<rect x="1328.25" y="1448.31" width="46.96" height="10.8" fill="#000000"/>
<rect x="1283.1" y="1466.02" width="2.01" height="10.8" fill="#fbd0c3"/>
<rect x="1284.91" y="1466.02" width="36.32" height="10.8" fill="#c6cfe9"/>
<rect x="1321.03" y="1466.02" width="39.73" height="10.8" fill="#000000"/>
<rect x="1283.1" y="1483.72" width="2.01" height="10.8" fill="#e74a30"/>
<rect x="1284.91" y="1483.72" width="3.81" height="10.8" fill="#fbd0c3"/>
<rect x="1288.52" y="1483.72" width="30.9" height="10.8" fill="#c6cfe9"/>
<rect x="1319.22" y="1483.72" width="2.01" height="10.8" fill="#19e5c3"/>
<rect x="1321.03" y="1483.72" width="37.93" height="10.8" fill="#000000"/>
<rect x="1283.1" y="1501.43" width="2.01" height="10.8" fill="#fbd0c3"/>
<rect x="1284.91" y="1501.43" width="34.51" height="10.8" fill="#c6cfe9"/>
<rect x="1319.22" y="1501.43" width="37.93" height="10.8" fill="#000000"/>
<rect x="1283.1" y="1519.13" width="30.9" height="10.8" fill="#c6cfe9"/>
<rect x="1313.8" y="1519.13" width="41.54" height="10.8" fill="#000000"/>
<rect x="1283.1" y="1536.84" width="11.04" height="10.8" fill="#fbd0c3"/>
<rect x="1293.94" y="1536.84" width="23.68" height="10.8" fill="#c6cfe9"/>
<rect x="1317.41" y="1536.84" width="32.51" height="10.8" fill="#000000"/>
<rect x="1283.1" y="1554.54" width="7.42" height="10.8" fill="#fbd0c3"/>
<rect x="1290.32" y="1554.54" width="25.48" height="10.8" fill="#c6cfe9"/>
<rect x="1315.61" y="1554.54" width="3.81" height="10.8" fill="#19e5c3"/>
<rect x="1319.22" y="1554.54" width="28.9" height="10.8" fill="#000000"/>
<rect x="1283.1" y="1572.25" width="2.01" height="10.8" fill="#e74a30"/>
<rect x="1284.91" y="1572.25" width="5.62" height="10.8" fill="#fbd0c3"/>
<rect x="1290.32" y="1572.25" width="25.48" height="10.8" fill="#c6cfe9"/>
<rect x="1315.61" y="1572.25" width="2.01" height="10.8" fill="#19e5c3"/>
<rect x="1317.41" y="1572.25" width="30.7" height="10.8" fill="#000000"/>
<rect x="1283.1" y="1589.95" width="7.42" height="10.8" fill="#e74a30"/>
<rect x="1290.32" y="1589.95" width="10.13" height="10.8" fill="#fbd0c3"/>
<rect x="1300.26" y="1589.95" width="17.36" height="10.8" fill="#c6cfe9"/>
<rect x="1317.41" y="1589.95" width="28.9" height="10.8" fill="#000000"/>
<rect x="1283.1" y="1607.66" width="2.01" height="10.8" fill="#e74a30"/>
<rect x="1284.91" y="1607.66" width="7.42" height="10.8" fill="#fbd0c3"/>
<rect x="1292.13" y="1607.66" width="21.87" height="10.8" fill="#c6cfe9"/>
<rect x="1313.8" y="1607.66" width="30.7" height="10.8" fill="#000000"/>
<rect x="1283.1" y="1625.36" width="5.62" height="10.8" fill="#fbd0c3"/>
<rect x="1288.52" y="1625.36" width="25.48" height="10.8" fill="#c6cfe9"/>
<rect x="1313.8" y="1625.36" width="30.7" height="10.8" fill="#000000"/>
<rect x="1283.1" y="1643.07" width="25.48" height="10.8" fill="#c6cfe9"/>
<rect x="1308.38" y="1643.07" width="36.12" height="10.8" fill="#000000"/>
<rect x="1283.1" y="1660.77" width="6.52" height="10.8" fill="#fbd0c3"/>
<rect x="1289.42" y="1660.77" width="24.58" height="10.8" fill="#c6cfe9"/>
<rect x="1313.8" y="1660.77" width="30.7" height="10.8" fill="#000000"/>
<rect x="1283.1" y="1678.48" width="14.65" height="10.8" fill="#e74a30"/>
<rect x="1297.55" y="1678.48" width="14.65" height="10.8" fill="#fbd0c3"/>
<rect x="1312" y="1678.48" width="14.65" height="10.8" fill="#c6cfe9"/>
<rect x="1326.44" y="1678.48" width="16.25" height="10.8" fill="#000000"/>
<rect x="1283.1" y="1696.18" width="16.45" height="10.8" fill="#e74a30"/>
<rect x="1299.35" y="1696.18" width="17.36" height="10.8" fill="#fbd0c3"/>
<rect x="1316.51" y="1696.18" width="10.13" height="10.8" fill="#c6cfe9"/>
<rect x="1326.44" y="1696.18" width="13" height="10.8" fill="#000000"/>
<rect x="1283.1" y="1713.89" width="19.52" height="10.8" fill="#c6cfe9"/>
<rect x="1302.42" y="1713.89" width="2.91" height="10.8" fill="#19e5c3"/>
<rect x="1305.13" y="1713.89" width="30.7" height="10.8" fill="#000000"/>
<rect x="1283.1" y="1731.59" width="3.81" height="10.8" fill="#e74a30"/>
<rect x="1286.71" y="1731.59" width="15.37" height="10.8" fill="#fbd0c3"/>
<rect x="1301.88" y="1731.59" width="12.12" height="10.8" fill="#c6cfe9"/>
<rect x="1313.8" y="1731.59" width="18.06" height="10.8" fill="#000000"/>
<rect x="1283.1" y="1749.3" width="5.62" height="10.8" fill="#e74a30"/>
<rect x="1288.52" y="1749.3" width="13.74" height="10.8" fill="#fbd0c3"/>
<rect x="1302.06" y="1749.3" width="10.13" height="10.8" fill="#c6cfe9"/>
<rect x="1312" y="1749.3" width="16.62" height="10.8" fill="#000000"/>
<rect x="1283.1" y="1767" width="19.52" height="10.8" fill="#c6cfe9"/>
<rect x="1302.42" y="1767" width="2.91" height="10.8" fill="#19e5c3"/>
<rect x="1305.13" y="1767" width="21.67" height="10.8" fill="#000000"/>
<rect x="1283.1" y="1784.71" width="14.11" height="10.8" fill="#e74a30"/>
<rect x="1297.01" y="1784.71" width="24.22" height="10.8" fill="#fbd0c3"/>
<rect x="1321.03" y="1784.71" width="3.97" height="10.8" fill="#000000"/>
<rect x="1283.1" y="1802.41" width="5.62" height="10.8" fill="#e74a30"/>
<rect x="1288.52" y="1802.41" width="13.2" height="10.8" fill="#fbd0c3"/>
<rect x="1301.52" y="1802.41" width="8.87" height="10.8" fill="#c6cfe9"/>
<rect x="1310.19" y="1802.41" width="14.81" height="10.8" fill="#000000"/>
<rect x="1283.1" y="1820.12" width="25.12" height="10.8" fill="#e74a30"/>
<rect x="1308.02" y="1820.12" width="10.49" height="10.8" fill="#fbd0c3"/>
<rect x="1318.32" y="1820.12" width="2.91" height="10.8" fill="#19e5c3"/>
<rect x="1321.03" y="1820.12" width="1.81" height="10.8" fill="#000000"/>
<rect x="1283.1" y="1837.82" width="18.26" height="10.8" fill="#c6cfe9"/>
<rect x="1301.16" y="1837.82" width="21.67" height="10.8" fill="#000000"/>
<rect x="1283.1" y="1855.53" width="6.97" height="10.8" fill="#e74a30"/>
<rect x="1289.87" y="1855.53" width="16.82" height="10.8" fill="#fbd0c3"/>
<rect x="1306.49" y="1855.53" width="3.99" height="10.8" fill="#c6cfe9"/>
<rect x="1310.28" y="1855.53" width="1.64" height="10.8" fill="#f5c97c"/>
<rect x="1311.73" y="1855.53" width="9.03" height="10.8" fill="#000000"/>
<rect x="1283.1" y="1873.23" width="3.81" height="10.8" fill="#e74a30"/>
<rect x="1286.71" y="1873.23" width="18.26" height="10.8" fill="#fbd0c3"/>
<rect x="1304.77" y="1873.23" width="6.97" height="10.8" fill="#c6cfe9"/>
<rect x="1311.54" y="1873.23" width="7.77" height="10.8" fill="#000000"/>
<rect x="1283.1" y="1890.94" width="9.23" height="10.8" fill="#fbd0c3"/>
<rect x="1292.13" y="1890.94" width="13.2" height="10.8" fill="#c6cfe9"/>
<rect x="1305.13" y="1890.94" width="14.45" height="10.8" fill="#000000"/>
<rect x="1283.1" y="1908.64" width="11.04" height="10.8" fill="#e74a30"/>
<rect x="1293.94" y="1908.64" width="20.07" height="10.8" fill="#fbd0c3"/>
<rect x="1313.8" y="1908.64" width="3.97" height="10.8" fill="#000000"/>
<rect x="1283.1" y="1926.35" width="5.62" height="10.8" fill="#e74a30"/>
<rect x="1288.52" y="1926.35" width="11.76" height="10.8" fill="#fbd0c3"/>
<rect x="1300.08" y="1926.35" width="6.7" height="10.8" fill="#c6cfe9"/>
<rect x="1306.58" y="1926.35" width="11.29" height="10.8" fill="#000000"/>
<rect x="1283.1" y="1944.05" width="3.81" height="10.8" fill="#e74a30"/>
<rect x="1286.71" y="1944.05" width="18.08" height="10.8" fill="#fbd0c3"/>
<rect x="1304.59" y="1944.05" width="5.62" height="10.8" fill="#c6cfe9"/>
<rect x="1310.01" y="1944.05" width="5.96" height="10.8" fill="#000000"/>
<rect x="1283.1" y="1961.76" width="7.24" height="10.8" fill="#fbd0c3"/>
<rect x="1290.14" y="1961.76" width="10.67" height="10.8" fill="#c6cfe9"/>
<rect x="1300.62" y="1961.76" width="2.91" height="10.8" fill="#19e5c3"/>
<rect x="1303.33" y="1961.76" width="12.82" height="10.8" fill="#000000"/>
<rect x="1283.1" y="1979.46" width="4.17" height="10.8" fill="#fbd0c3"/>
<rect x="1287.07" y="1979.46" width="12.12" height="10.8" fill="#c6cfe9"/>
<rect x="1298.99" y="1979.46" width="16.8" height="10.8" fill="#000000"/>
<rect x="1283.1" y="1997.17" width="2.01" height="10.8" fill="#e74a30"/>
<rect x="1284.91" y="1997.17" width="7.42" height="10.8" fill="#fbd0c3"/>
<rect x="1292.13" y="1997.17" width="9.23" height="10.8" fill="#c6cfe9"/>
<rect x="1301.16" y="1997.17" width="12.64" height="10.8" fill="#000000"/>
<rect x="1283.1" y="2014.87" width="2.01" height="10.8" fill="#fbd0c3"/>
<rect x="1284.91" y="2014.87" width="9.23" height="10.8" fill="#c6cfe9"/>
<rect x="1293.94" y="2014.87" width="2.01" height="10.8" fill="#f5c97c"/>
<rect x="1295.74" y="2014.87" width="18.06" height="10.8" fill="#000000"/>
<rect x="1283.1" y="2032.58" width="11.04" height="10.8" fill="#fbd0c3"/>
<rect x="1293.94" y="2032.58" width="7.42" height="10.8" fill="#c6cfe9"/>
<rect x="1301.16" y="2032.58" width="10.84" height="10.8" fill="#000000"/>
<rect x="1283.1" y="2050.28" width="2.01" height="10.8" fill="#e74a30"/>
<rect x="1284.91" y="2050.28" width="9.23" height="10.8" fill="#fbd0c3"/>
<rect x="1293.94" y="2050.28" width="7.42" height="10.8" fill="#c6cfe9"/>
<rect x="1301.16" y="2050.28" width="10.84" height="10.8" fill="#000000"/>
<rect x="1283.1" y="2067.99" width="7.42" height="10.8" fill="#fbd0c3"/>
<rect x="1290.32" y="2067.99" width="8.87" height="10.8" fill="#c6cfe9"/>
<rect x="1298.99" y="2067.99" width="13" height="10.8" fill="#000000"/>
<rect x="1283.1" y="2085.69" width="3.81" height="10.8" fill="#fbd0c3"/>
<rect x="1286.71" y="2085.69" width="10.67" height="10.8" fill="#c6cfe9"/>
<rect x="1297.19" y="2085.69" width="14.81" height="10.8" fill="#000000"/>
<rect x="1283.1" y="2103.4" width="2.01" height="10.8" fill="#e74a30"/>
<rect x="1284.91" y="2103.4" width="2.01" height="10.8" fill="#fbd0c3"/>
<rect x="1286.71" y="2103.4" width="12.48" height="10.8" fill="#c6cfe9"/>
<rect x="1298.99" y="2103.4" width="13" height="10.8" fill="#000000"/>
<rect x="1283.1" y="2121.11" width="14.11" height="10.8" fill="#fbd0c3"/>
<rect x="1297.01" y="2121.11" width="6.16" height="10.8" fill="#c6cfe9"/>
<rect x="1302.97" y="2121.11" width="7.77" height="10.8" fill="#000000"/>
<rect x="1283.1" y="2138.81" width="2.01" height="10.8" fill="#e74a30"/>
<rect x="1284.91" y="2138.81" width="5.62" height="10.8" fill="#fbd0c3"/>
<rect x="1290.32" y="2138.81" width="7.06" height="10.8" fill="#c6cfe9"/>
<rect x="1297.19" y="2138.81" width="2.37" height="10.8" fill="#19e5c3"/>
<rect x="1299.35" y="2138.81" width="11.02" height="10.8" fill="#000000"/>
<rect x="1283.1" y="2156.51" width="9.23" height="10.8" fill="#fbd0c3"/>
<rect x="1292.13" y="2156.51" width="7.42" height="10.8" fill="#c6cfe9"/>
<rect x="1299.35" y="2156.51" width="11.56" height="10.8" fill="#000000"/>
<rect x="1283.1" y="2174.22" width="3.81" height="10.8" fill="#fbd0c3"/>
<rect x="1286.71" y="2174.22" width="9.23" height="10.8" fill="#c6cfe9"/>
<rect x="1295.74" y="2174.22" width="2.37" height="10.8" fill="#19e5c3"/>
<rect x="1297.91" y="2174.22" width="12.64" height="10.8" fill="#000000"/>
<rect x="1283.1" y="2191.92" width="6.34" height="10.8" fill="#fbd0c3"/>
<rect x="1289.24" y="2191.92" width="8.33" height="10.8" fill="#c6cfe9"/>
<rect x="1297.37" y="2191.92" width="13.36" height="10.8" fill="#000000"/>
<rect x="1283.1" y="2209.63" width="5.62" height="10.8" fill="#fbd0c3"/>
<rect x="1288.52" y="2209.63" width="8.87" height="10.8" fill="#c6cfe9"/>
<rect x="1297.19" y="2209.63" width="13.36" height="10.8" fill="#000000"/>
<rect x="1283.1" y="2227.33" width="2.01" height="10.8" fill="#e74a30"/>
<rect x="1284.91" y="2227.33" width="4.17" height="10.8" fill="#fbd0c3"/>
<rect x="1288.88" y="2227.33" width="10.49" height="10.8" fill="#c6cfe9"/>
<rect x="1299.17" y="2227.33" width="11.56" height="10.8" fill="#000000"/>
<rect x="1283.1" y="2245.04" width="5.98" height="10.8" fill="#fbd0c3"/>
<rect x="1288.88" y="2245.04" width="7.97" height="10.8" fill="#c6cfe9"/>
<rect x="1296.64" y="2245.04" width="1.46" height="10.8" fill="#f5c97c"/>
<rect x="1297.91" y="2245.04" width="10.84" height="10.8" fill="#000000"/>
<rect x="1283.1" y="2262.74" width="17" height="10.8" fill="#fbd0c3"/>
<rect x="1299.9" y="2262.74" width="3.45" height="10.8" fill="#19e5c3"/>
<rect x="1303.15" y="2262.74" width="3.61" height="10.8" fill="#000000"/>
<rect x="1283.1" y="2280.45" width="2.01" height="10.8" fill="#e74a30"/>
<rect x="1284.91" y="2280.45" width="5.62" height="10.8" fill="#fbd0c3"/>
<rect x="1290.32" y="2280.45" width="7.06" height="10.8" fill="#c6cfe9"/>
<rect x="1297.19" y="2280.45" width="2.73" height="10.8" fill="#19e5c3"/>
<rect x="1299.72" y="2280.45" width="6.86" height="10.8" fill="#000000"/>
<rect x="1283.1" y="2298.15" width="5.98" height="10.8" fill="#fbd0c3"/>
<rect x="1288.88" y="2298.15" width="7.06" height="10.8" fill="#c6cfe9"/>
<rect x="1295.74" y="2298.15" width="11.02" height="10.8" fill="#000000"/>
<rect x="1283.1" y="2315.86" width="14.47" height="10.8" fill="#fbd0c3"/>
<rect x="1297.37" y="2315.86" width="7.77" height="10.8" fill="#000000"/>
<rect x="1283.1" y="2333.56" width="2.01" height="10.8" fill="#e74a30"/>
<rect x="1284.91" y="2333.56" width="12.66" height="10.8" fill="#fbd0c3"/>
<rect x="1297.37" y="2333.56" width="7.77" height="10.8" fill="#000000"/>
<rect x="1283.1" y="2351.27" width="5.98" height="10.8" fill="#fbd0c3"/>
<rect x="1288.88" y="2351.27" width="5.08" height="10.8" fill="#c6cfe9"/>
<rect x="1293.76" y="2351.27" width="11.29" height="10.8" fill="#000000"/>
<rect x="1283.1" y="2368.97" width="13.56" height="10.8" fill="#fbd0c3"/>
<rect x="1296.46" y="2368.97" width="3.45" height="10.8" fill="#19e5c3"/>
<rect x="1299.72" y="2368.97" width="3.61" height="10.8" fill="#000000"/>
<rect x="1283.1" y="2386.68" width="9.95" height="10.8" fill="#fbd0c3"/>
<rect x="1292.85" y="2386.68" width="1.28" height="10.8" fill="#c6cfe9"/>
<rect x="1293.94" y="2386.68" width="9.03" height="10.8" fill="#000000"/>
<rect x="1283.1" y="2404.38" width="5.44" height="10.8" fill="#e74a30"/>
<rect x="1288.34" y="2404.38" width="10.67" height="10.8" fill="#fbd0c3"/>
<rect x="1298.81" y="2404.38" width="2.71" height="10.8" fill="#000000"/>
<rect x="1283.1" y="2422.09" width="5.44" height="10.8" fill="#e74a30"/>
<rect x="1288.34" y="2422.09" width="10.67" height="10.8" fill="#fbd0c3"/>
<rect x="1298.81" y="2422.09" width="2.71" height="10.8" fill="#000000"/>
<rect x="1283.1" y="2439.79" width="2.01" height="10.8" fill="#e74a30"/>
<rect x="1284.91" y="2439.79" width="11.04" height="10.8" fill="#fbd0c3"/>
<rect x="1295.74" y="2439.79" width="3.97" height="10.8" fill="#000000"/>
<rect x="1283.1" y="2457.5" width="2.01" height="10.8" fill="#e74a30"/>
<rect x="1284.91" y="2457.5" width="8.15" height="10.8" fill="#fbd0c3"/>
<rect x="1292.85" y="2457.5" width="1.28" height="10.8" fill="#c6cfe9"/>
<rect x="1293.94" y="2457.5" width="5.78" height="10.8" fill="#000000"/>
<rect x="1283.1" y="2475.2" width="5.98" height="10.8" fill="#fbd0c3"/>
<rect x="1288.88" y="2475.2" width="3.09" height="10.8" fill="#c6cfe9"/>
<rect x="1291.77" y="2475.2" width="7.77" height="10.8" fill="#000000"/>
<rect x="1283.1" y="2492.91" width="3.99" height="10.8" fill="#e74a30"/>
<rect x="1286.89" y="2492.91" width="5.62" height="10.8" fill="#fbd0c3"/>
<rect x="1292.31" y="2492.91" width="3.81" height="10.8" fill="#c6cfe9"/>
<rect x="1295.92" y="2492.91" width="3.97" height="10.8" fill="#000000"/>
<rect x="1283.1" y="2510.61" width="12.84" height="10.8" fill="#fbd0c3"/>
<rect x="1295.74" y="2510.61" width="1.99" height="10.8" fill="#000000"/>
<rect x="1283.1" y="2528.32" width="1.64" height="10.8" fill="#fbd0c3"/>
<rect x="1284.54" y="2528.32" width="4.17" height="10.8" fill="#c6cfe9"/>
<rect x="1288.52" y="2528.32" width="7.59" height="10.8" fill="#000000"/>
<rect x="1283.1" y="2546.02" width="4.35" height="10.8" fill="#fbd0c3"/>
<rect x="1287.25" y="2546.02" width="1.28" height="10.8" fill="#c6cfe9"/>
<rect x="1288.34" y="2546.02" width="5.78" height="10.8" fill="#000000"/>
<path d="M1283.3 1392.2H1416.3" stroke="#000" stroke-width="2.8" stroke-linecap="round" fill="none"/>
<path d="M1283.3 1392.2V1384.8" stroke="#000" stroke-width="2.8" stroke-linecap="round" fill="none"/>
<text transform="translate(1283.3 1377.3) scale(1 1.12)" font-size="18" text-anchor="middle" stroke="#000" stroke-width="0.45">0</text>
<path d="M1319.42 1392.2V1384.8" stroke="#000" stroke-width="2.8" stroke-linecap="round" fill="none"/>
<text transform="translate(1319.42 1377.3) scale(1 1.12)" font-size="18" text-anchor="middle" stroke="#000" stroke-width="0.45">20</text>
<path d="M1355.54 1392.2V1384.8" stroke="#000" stroke-width="2.8" stroke-linecap="round" fill="none"/>
<text transform="translate(1355.54 1377.3) scale(1 1.12)" font-size="18" text-anchor="middle" stroke="#000" stroke-width="0.45">40</text>
<path d="M1391.66 1392.2V1384.8" stroke="#000" stroke-width="2.8" stroke-linecap="round" fill="none"/>
<text transform="translate(1391.66 1377.3) scale(1 1.12)" font-size="18" text-anchor="middle" stroke="#000" stroke-width="0.45">60</text>
<rect x="465.1" y="2626.4" width="42.42" height="17.3" fill="#b44fb2"/>
<rect x="507.22" y="2626.4" width="14.34" height="17.3" fill="#d97fc8"/>
<rect x="521.26" y="2626.4" width="14.34" height="17.3" fill="#cc6cc4"/>
<rect x="535.3" y="2626.4" width="14.34" height="17.3" fill="#fcc5dc"/>
<rect x="549.34" y="2626.4" width="14.34" height="17.3" fill="#ffffff"/>
<rect x="563.38" y="2626.4" width="14.34" height="17.3" fill="#fbbcd6"/>
<rect x="577.42" y="2626.4" width="14.34" height="17.3" fill="#fff0f6"/>
<rect x="591.46" y="2626.4" width="14.34" height="17.3" fill="#fcc8de"/>
<rect x="605.5" y="2626.4" width="14.34" height="17.3" fill="#d37cc6"/>
<rect x="619.54" y="2626.4" width="14.34" height="17.3" fill="#f9b8d6"/>
<rect x="633.58" y="2626.4" width="14.34" height="17.3" fill="#b44fb2"/>
<rect x="647.62" y="2626.4" width="14.34" height="17.3" fill="#fff8fb"/>
<rect x="661.66" y="2626.4" width="14.34" height="17.3" fill="#f09cc8"/>
<rect x="675.7" y="2626.4" width="14.34" height="17.3" fill="#b44fb2"/>
<rect x="689.74" y="2626.4" width="14.34" height="17.3" fill="#dc88cb"/>
<rect x="703.78" y="2626.4" width="14.34" height="17.3" fill="#fdd8e6"/>
<rect x="717.82" y="2626.4" width="14.04" height="17.3" fill="#fcd4e4"/>
<rect x="738.6" y="2626.4" width="14.31" height="17.3" fill="#e38fc8"/>
<rect x="752.61" y="2626.4" width="14.31" height="17.3" fill="#ffeaf3"/>
<rect x="766.63" y="2626.4" width="14.31" height="17.3" fill="#b44fb2"/>
<rect x="780.64" y="2626.4" width="14.31" height="17.3" fill="#ec9cc8"/>
<rect x="794.66" y="2626.4" width="14.31" height="17.3" fill="#f8b4d2"/>
<rect x="808.67" y="2626.4" width="14.31" height="17.3" fill="#b44fb2"/>
<rect x="822.68" y="2626.4" width="14.31" height="17.3" fill="#e897c8"/>
<rect x="836.7" y="2626.4" width="28.33" height="17.3" fill="#e08cc8"/>
<rect x="864.73" y="2626.4" width="14.31" height="17.3" fill="#ffe8f1"/>
<rect x="878.74" y="2626.4" width="14.31" height="17.3" fill="#fff0f6"/>
<rect x="892.75" y="2626.4" width="14.31" height="17.3" fill="#f9b9d4"/>
<rect x="906.77" y="2626.4" width="14.31" height="17.3" fill="#fbc8dc"/>
<rect x="920.78" y="2626.4" width="14.31" height="17.3" fill="#b44fb2"/>
<rect x="934.8" y="2626.4" width="14.31" height="17.3" fill="#de8cca"/>
<rect x="948.81" y="2626.4" width="28.33" height="17.3" fill="#ea9cc8"/>
<rect x="976.84" y="2626.4" width="14.31" height="17.3" fill="#fff0f6"/>
<rect x="990.85" y="2626.4" width="14.31" height="17.3" fill="#ee9fca"/>
<rect x="1004.87" y="2626.4" width="14.31" height="17.3" fill="#f5a8cc"/>
<rect x="1018.88" y="2626.4" width="14.31" height="17.3" fill="#f8b0d0"/>
<rect x="1032.89" y="2626.4" width="14.31" height="17.3" fill="#b44fb2"/>
<rect x="1046.91" y="2626.4" width="14.31" height="17.3" fill="#fff0f6"/>
<rect x="1060.92" y="2626.4" width="14.31" height="17.3" fill="#f0a0cc"/>
<rect x="1074.94" y="2626.4" width="14.31" height="17.3" fill="#fbbcd8"/>
<rect x="1088.95" y="2626.4" width="14.31" height="17.3" fill="#ee9fca"/>
<rect x="1102.96" y="2626.4" width="14.31" height="17.3" fill="#ffffff"/>
<rect x="1116.98" y="2626.4" width="14.31" height="17.3" fill="#e696c8"/>
<rect x="1130.99" y="2626.4" width="14.31" height="17.3" fill="#fbb8d4"/>
<rect x="1145.01" y="2626.4" width="14.31" height="17.3" fill="#f2a4ca"/>
<rect x="1159.02" y="2626.4" width="14.31" height="17.3" fill="#fdd4e4"/>
<rect x="1173.03" y="2626.4" width="14.31" height="17.3" fill="#ffffff"/>
<rect x="1187.05" y="2626.4" width="14.31" height="17.3" fill="#b44fb2"/>
<rect x="1201.06" y="2626.4" width="14.9" height="17.3" fill="#ffffff"/>
<rect x="465.1" y="2626.4" width="266.76" height="17.3" fill="none" stroke="#000" stroke-width="2.85" stroke-linejoin="round"/>
<rect x="738.6" y="2626.4" width="477.36" height="17.3" fill="none" stroke="#000" stroke-width="2.85" stroke-linejoin="round"/>
<rect x="465.1" y="2650.6" width="14.34" height="16.8" fill="#d1432a"/>
<rect x="479.14" y="2650.6" width="28.38" height="16.8" fill="#63a84c"/>
<rect x="507.22" y="2650.6" width="14.34" height="16.8" fill="#f4b066"/>
<rect x="521.26" y="2650.6" width="28.38" height="16.8" fill="#63a84c"/>
<rect x="549.34" y="2650.6" width="28.38" height="16.8" fill="#d1432a"/>
<rect x="577.42" y="2650.6" width="56.46" height="16.8" fill="#63a84c"/>
<rect x="633.58" y="2650.6" width="14.34" height="16.8" fill="#f4b066"/>
<rect x="647.62" y="2650.6" width="14.34" height="16.8" fill="#63a84c"/>
<rect x="661.66" y="2650.6" width="14.34" height="16.8" fill="#d1432a"/>
<rect x="675.7" y="2650.6" width="42.42" height="16.8" fill="#63a84c"/>
<rect x="717.82" y="2650.6" width="14.04" height="16.8" fill="#f4b066"/>
<rect x="738.6" y="2650.6" width="28.33" height="16.8" fill="#63a84c"/>
<rect x="766.63" y="2650.6" width="14.31" height="16.8" fill="#f4b066"/>
<rect x="780.64" y="2650.6" width="14.31" height="16.8" fill="#63a84c"/>
<rect x="794.66" y="2650.6" width="14.31" height="16.8" fill="#d1432a"/>
<rect x="808.67" y="2650.6" width="84.38" height="16.8" fill="#63a84c"/>
<rect x="892.75" y="2650.6" width="14.31" height="16.8" fill="#d1432a"/>
<rect x="906.77" y="2650.6" width="70.37" height="16.8" fill="#63a84c"/>
<rect x="976.84" y="2650.6" width="14.31" height="16.8" fill="#d1432a"/>
<rect x="990.85" y="2650.6" width="42.34" height="16.8" fill="#63a84c"/>
<rect x="1032.89" y="2650.6" width="14.31" height="16.8" fill="#f4b066"/>
<rect x="1046.91" y="2650.6" width="14.31" height="16.8" fill="#63a84c"/>
<rect x="1060.92" y="2650.6" width="14.31" height="16.8" fill="#d1432a"/>
<rect x="1074.94" y="2650.6" width="56.36" height="16.8" fill="#63a84c"/>
<rect x="1130.99" y="2650.6" width="28.33" height="16.8" fill="#d1432a"/>
<rect x="1159.02" y="2650.6" width="28.33" height="16.8" fill="#63a84c"/>
<rect x="1187.05" y="2650.6" width="28.91" height="16.8" fill="#d1432a"/>
<rect x="465.1" y="2650.6" width="266.76" height="16.8" fill="none" stroke="#000" stroke-width="2.85" stroke-linejoin="round"/>
<rect x="738.6" y="2650.6" width="477.36" height="16.8" fill="none" stroke="#000" stroke-width="2.85" stroke-linejoin="round"/>
<rect x="465.1" y="2673.6" width="14.34" height="17.4" fill="#8d79c8"/>
<rect x="479.14" y="2673.6" width="14.34" height="17.4" fill="#3a87cd"/>
<rect x="493.18" y="2673.6" width="14.34" height="17.4" fill="#8d79c8"/>
<rect x="507.22" y="2673.6" width="14.34" height="17.4" fill="#e46264"/>
<rect x="521.26" y="2673.6" width="28.38" height="17.4" fill="#8d79c8"/>
<rect x="549.34" y="2673.6" width="14.34" height="17.4" fill="#e46264"/>
<rect x="563.38" y="2673.6" width="28.38" height="17.4" fill="#8d79c8"/>
<rect x="591.46" y="2673.6" width="28.38" height="17.4" fill="#e46264"/>
<rect x="619.54" y="2673.6" width="84.54" height="17.4" fill="#8d79c8"/>
<rect x="703.78" y="2673.6" width="14.34" height="17.4" fill="#e46264"/>
<rect x="717.82" y="2673.6" width="14.04" height="17.4" fill="#8d79c8"/>
<rect x="738.6" y="2673.6" width="210.51" height="17.4" fill="#8d79c8"/>
<rect x="948.81" y="2673.6" width="14.31" height="17.4" fill="#3a87cd"/>
<rect x="962.82" y="2673.6" width="28.33" height="17.4" fill="#8d79c8"/>
<rect x="990.85" y="2673.6" width="14.31" height="17.4" fill="#3a87cd"/>
<rect x="1004.87" y="2673.6" width="14.31" height="17.4" fill="#8d79c8"/>
<rect x="1018.88" y="2673.6" width="14.31" height="17.4" fill="#e46264"/>
<rect x="1032.89" y="2673.6" width="56.36" height="17.4" fill="#8d79c8"/>
<rect x="1088.95" y="2673.6" width="14.31" height="17.4" fill="#e46264"/>
<rect x="1102.96" y="2673.6" width="14.31" height="17.4" fill="#8d79c8"/>
<rect x="1116.98" y="2673.6" width="14.31" height="17.4" fill="#e46264"/>
<rect x="1130.99" y="2673.6" width="84.97" height="17.4" fill="#8d79c8"/>
<rect x="465.1" y="2673.6" width="266.76" height="17.4" fill="none" stroke="#000" stroke-width="2.85" stroke-linejoin="round"/>
<rect x="738.6" y="2673.6" width="477.36" height="17.4" fill="none" stroke="#000" stroke-width="2.85" stroke-linejoin="round"/>
<rect x="465.1" y="2696.7" width="14.34" height="17.3" fill="#ea8e32"/>
<rect x="479.14" y="2696.7" width="14.34" height="17.3" fill="#74a5b3"/>
<rect x="493.18" y="2696.7" width="28.38" height="17.3" fill="#ea8e32"/>
<rect x="521.26" y="2696.7" width="98.58" height="17.3" fill="#74a5b3"/>
<rect x="619.54" y="2696.7" width="14.34" height="17.3" fill="#ea8e32"/>
<rect x="633.58" y="2696.7" width="56.46" height="17.3" fill="#74a5b3"/>
<rect x="689.74" y="2696.7" width="14.34" height="17.3" fill="#90c57c"/>
<rect x="703.78" y="2696.7" width="14.34" height="17.3" fill="#74a5b3"/>
<rect x="717.82" y="2696.7" width="14.04" height="17.3" fill="#90c57c"/>
<rect x="738.6" y="2696.7" width="42.34" height="17.3" fill="#ea8e32"/>
<rect x="780.64" y="2696.7" width="70.37" height="17.3" fill="#74a5b3"/>
<rect x="850.71" y="2696.7" width="14.31" height="17.3" fill="#ea8e32"/>
<rect x="864.73" y="2696.7" width="14.31" height="17.3" fill="#90c57c"/>
<rect x="878.74" y="2696.7" width="14.31" height="17.3" fill="#74a5b3"/>
<rect x="892.75" y="2696.7" width="14.31" height="17.3" fill="#ea8e32"/>
<rect x="906.77" y="2696.7" width="14.31" height="17.3" fill="#74a5b3"/>
<rect x="920.78" y="2696.7" width="14.31" height="17.3" fill="#ea8e32"/>
<rect x="934.8" y="2696.7" width="42.34" height="17.3" fill="#74a5b3"/>
<rect x="976.84" y="2696.7" width="14.31" height="17.3" fill="#90c57c"/>
<rect x="990.85" y="2696.7" width="56.36" height="17.3" fill="#74a5b3"/>
<rect x="1046.91" y="2696.7" width="14.31" height="17.3" fill="#90c57c"/>
<rect x="1060.92" y="2696.7" width="98.4" height="17.3" fill="#74a5b3"/>
<rect x="1159.02" y="2696.7" width="14.31" height="17.3" fill="#ea8e32"/>
<rect x="1173.03" y="2696.7" width="14.31" height="17.3" fill="#90c57c"/>
<rect x="1187.05" y="2696.7" width="28.91" height="17.3" fill="#74a5b3"/>
<rect x="465.1" y="2696.7" width="266.76" height="17.3" fill="none" stroke="#000" stroke-width="2.85" stroke-linejoin="round"/>
<rect x="738.6" y="2696.7" width="477.36" height="17.3" fill="none" stroke="#000" stroke-width="2.85" stroke-linejoin="round"/>
<text transform="translate(1223 2641.95) scale(1 1.15)" font-size="18" font-weight="bold" letter-spacing="0.32" stroke="#000" stroke-width="0.25">TMB (Z-score)</text>
<text transform="translate(1223 2665.9) scale(1 1.15)" font-size="18" font-weight="bold" letter-spacing="-0.19" stroke="#000" stroke-width="0.25">PR expression</text>
<text transform="translate(1223 2689.2) scale(1 1.15)" font-size="18" font-weight="bold" letter-spacing="0.14" stroke="#000" stroke-width="0.25">Histological subtype</text>
<text transform="translate(1223 2712.25) scale(1 1.15)" font-size="18" font-weight="bold" letter-spacing="0.2" stroke="#000" stroke-width="0.25">Tumor grade</text>
<text transform="translate(341.4 728.7) rotate(-90) scale(1 1.09)" font-size="25.4" font-weight="bold" text-anchor="middle">Driver SNVs</text>
<text transform="translate(341.4 1993.8) rotate(-90) scale(1 1.09)" font-size="25.4" font-weight="bold" text-anchor="middle">CNAs</text>
<text transform="translate(1.8 651.3) scale(1 1.09)" font-size="24" font-weight="bold">SNV type</text>
<rect x="3.15" y="666.4" width="23.5" height="24.1" fill="#9e74c6"/>
<text transform="translate(35 687.45) scale(1 1.09)" font-size="24">Missense variant</text>
<rect x="3.15" y="694.82" width="23.5" height="24.1" fill="#3a9692"/>
<text transform="translate(35 715.87) scale(1 1.09)" font-size="24">Frameshift variant</text>
<rect x="3.15" y="723.24" width="23.5" height="24.1" fill="#fd6042"/>
<text transform="translate(35 744.29) scale(1 1.09)" font-size="24" letter-spacing="0.34">Stop gained</text>
<rect x="3.15" y="751.66" width="23.5" height="24.1" fill="#7b8cbe"/>
<text transform="translate(35 772.71) scale(1 1.09)" font-size="24" letter-spacing="0.15">Inframe deletion</text>
<rect x="3.15" y="780.08" width="23.5" height="24.1" fill="#fd7c4e"/>
<text transform="translate(35 801.13) scale(1 1.09)" font-size="24" letter-spacing="0.27">Inframe insertion</text>
<rect x="3.15" y="808.5" width="23.5" height="24.1" fill="#668f24"/>
<text transform="translate(35 829.55) scale(1 1.09)" font-size="24" letter-spacing="0.17">Splice donor variant</text>
<text transform="translate(1.8 882.1) scale(1 1.09)" font-size="24" font-weight="bold" letter-spacing="-0.17">CNA type</text>
<rect x="4.5" y="898.15" width="20.8" height="21.6" fill="#e74a30"/>
<text transform="translate(35 918.25) scale(1 1.09)" font-size="24" letter-spacing="-0.18">Amplification</text>
<rect x="4.5" y="926.57" width="20.8" height="21.6" fill="#fbd0c3"/>
<text transform="translate(35 946.67) scale(1 1.09)" font-size="24">Gain</text>
<rect x="4.5" y="954.99" width="20.8" height="21.6" fill="#c6cfe9"/>
<text transform="translate(35 975.09) scale(1 1.09)" font-size="24" letter-spacing="-0.09">Heterozygous deletion</text>
<rect x="4.5" y="983.41" width="20.8" height="21.6" fill="#19e5c3"/>
<text transform="translate(35 1003.51) scale(1 1.09)" font-size="24" letter-spacing="-0.04">Homozygous deletion</text>
<rect x="4.5" y="1011.83" width="20.8" height="21.6" fill="#ebebeb"/>
<path d="M12.1 1019.63l5.6 6m-5.6 0l5.6 -6" stroke="#000" stroke-width="2.6" stroke-linecap="round" fill="none"/>
<text transform="translate(35 1031.93) scale(1 1.09)" font-size="24" letter-spacing="-0.1">Loss of heterozygosity</text>
<text transform="translate(1.8 1084.8) scale(1 1.09)" font-size="24" font-weight="bold">End of treatment KI67 &lt;10%</text>
<rect x="3.15" y="1099.9" width="23.5" height="24.1" fill="#009e82"/>
<text transform="translate(35 1120.95) scale(1 1.09)" font-size="24" letter-spacing="0.2">Response</text>
<rect x="3.15" y="1128.32" width="23.5" height="24.1" fill="#dd0000"/>
<text transform="translate(35 1149.37) scale(1 1.09)" font-size="24">Poor response</text>
<text transform="translate(1.8 1201) scale(1 1.09)" font-size="24" font-weight="bold" letter-spacing="0.15">% change in KI67</text>
<rect x="1.6" y="1215.65" width="26.6" height="149.6" fill="url(#gk)" stroke="#000" stroke-width="2.9"/>
<path d="M3 1220.4h5M26.8 1220.4h-5" stroke="#000" stroke-width="2.6" stroke-linecap="round" fill="none"/>
<text transform="translate(35 1229) scale(1 1.09)" font-size="24">50% increase</text>
<path d="M3 1266.8h5M26.8 1266.8h-5" stroke="#000" stroke-width="2.6" stroke-linecap="round" fill="none"/>
<text transform="translate(35 1274.7) scale(1 1.09)" font-size="24" letter-spacing="0.38">No change</text>
<path d="M3 1359.8h5M26.8 1359.8h-5" stroke="#000" stroke-width="2.6" stroke-linecap="round" fill="none"/>
<text transform="translate(35 1368.5) scale(1 1.09)" font-size="24" letter-spacing="0.15">100% decrease</text>
<text transform="translate(1.8 1411.6) scale(1 1.09)" font-size="24" font-weight="bold" letter-spacing="-0.19">TMB (Z-score)</text>
<rect x="1.6" y="1425.6" width="26.6" height="149.4" fill="url(#gt)" stroke="#000" stroke-width="2.9"/>
<path d="M3 1430.5h5M26.8 1430.5h-5" stroke="#000" stroke-width="2.6" stroke-linecap="round" fill="none"/>
<text transform="translate(35 1438.5) scale(1 1.09)" font-size="24" letter-spacing="-0.83">High</text>
<path d="M3 1500.5h5M26.8 1500.5h-5" stroke="#000" stroke-width="2.6" stroke-linecap="round" fill="none"/>
<text transform="translate(35 1508.7) scale(1 1.09)" font-size="24" letter-spacing="-0.35">Average</text>
<path d="M3 1570.1h5M26.8 1570.1h-5" stroke="#000" stroke-width="2.6" stroke-linecap="round" fill="none"/>
<text transform="translate(35 1579.2) scale(1 1.09)" font-size="24" letter-spacing="-1.65">Low</text>
<text transform="translate(1.8 1622.3) scale(1 1.09)" font-size="24" font-weight="bold" letter-spacing="-0.07">PR expression</text>
<rect x="3.15" y="1637.4" width="23.5" height="24.1" fill="#d1432a"/>
<text transform="translate(35 1658.45) scale(1 1.09)" font-size="24">0-3</text>
<rect x="3.15" y="1665.82" width="23.5" height="24.1" fill="#f4b066"/>
<text transform="translate(35 1686.87) scale(1 1.09)" font-size="24">4-6</text>
<rect x="3.15" y="1694.24" width="23.5" height="24.1" fill="#63a84c"/>
<text transform="translate(35 1715.29) scale(1 1.09)" font-size="24">7-8</text>
<text transform="translate(1.8 1767.8) scale(1 1.09)" font-size="24" font-weight="bold">Histological subtype</text>
<rect x="3.15" y="1782.9" width="23.5" height="24.1" fill="#8d79c8"/>
<text transform="translate(35 1803.95) scale(1 1.09)" font-size="24" letter-spacing="0.44">Ductal</text>
<rect x="3.15" y="1811.32" width="23.5" height="24.1" fill="#e46264"/>
<text transform="translate(35 1832.37) scale(1 1.09)" font-size="24" letter-spacing="0.15">Lobular</text>
<rect x="3.15" y="1839.74" width="23.5" height="24.1" fill="#3a87cd"/>
<text transform="translate(35 1860.79) scale(1 1.09)" font-size="24" letter-spacing="0.62">Other</text>
<text transform="translate(1.8 1913.1) scale(1 1.09)" font-size="24" font-weight="bold" letter-spacing="-0.18">Tumor grade</text>
<rect x="3.15" y="1928.2" width="23.5" height="24.1" fill="#90c57c"/>
<text transform="translate(35 1949.25) scale(1 1.09)" font-size="24" letter-spacing="0.1">Grade 1</text>
<rect x="3.15" y="1956.62" width="23.5" height="24.1" fill="#74a5b3"/>
<text transform="translate(35 1977.67) scale(1 1.09)" font-size="24" letter-spacing="0.48">Grade 2</text>
<rect x="3.15" y="1985.04" width="23.5" height="24.1" fill="#ea8e32"/>
<text transform="translate(35 2006.09) scale(1 1.09)" font-size="24" letter-spacing="0.48">Grade 3</text>
</svg>
</body></html>
